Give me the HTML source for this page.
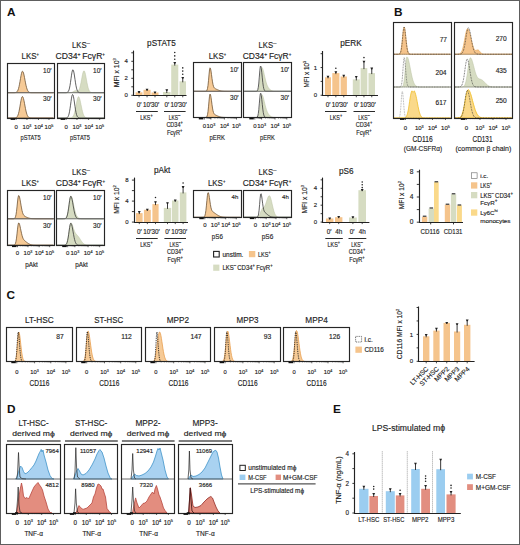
<!DOCTYPE html>
<html><head><meta charset="utf-8"><style>
html,body{margin:0;padding:0;background:#fff;}
svg{display:block;font-family:"Liberation Sans",sans-serif;}
</style></head><body>
<svg width="520" height="545" viewBox="0 0 520 545">
<rect x="0" y="0" width="520" height="545" fill="#fff"/>
<rect x="0.5" y="0.5" width="519" height="544" fill="none" stroke="#5e5e5e" stroke-width="1" />
<text x="7" y="15.7" font-size="11.8" text-anchor="start" fill="#111" stroke="#111" stroke-width="0" font-weight="bold">A</text>
<text x="393.9" y="16.2" font-size="11.8" text-anchor="start" fill="#111" stroke="#111" stroke-width="0" font-weight="bold">B</text>
<text x="6.6" y="299.1" font-size="11.8" text-anchor="start" fill="#111" stroke="#111" stroke-width="0" font-weight="bold">C</text>
<text x="7" y="412.6" font-size="11.8" text-anchor="start" fill="#111" stroke="#111" stroke-width="0" font-weight="bold">D</text>
<text x="333" y="412.6" font-size="11.8" text-anchor="start" fill="#111" stroke="#111" stroke-width="0" font-weight="bold">E</text>
<text x="30.3" y="58.6" font-size="8.8" text-anchor="middle" fill="#1e1e1e" stroke="#1e1e1e" stroke-width="0.15" textLength="17.4" lengthAdjust="spacingAndGlyphs">LKS<tspan font-size="4.6" dy="-2.9">+</tspan></text>
<text x="81" y="47.6" font-size="8.8" text-anchor="middle" fill="#1e1e1e" stroke="#1e1e1e" stroke-width="0.15" textLength="18" lengthAdjust="spacingAndGlyphs">LKS<tspan font-size="7.2" dy="-3">–</tspan></text>
<text x="80.3" y="58.6" font-size="8.8" text-anchor="middle" fill="#1e1e1e" stroke="#1e1e1e" stroke-width="0.15" textLength="49.4" lengthAdjust="spacingAndGlyphs">CD34<tspan font-size="5.2" dy="-2.6">+</tspan><tspan dy="2.6"> </tspan>FcγR<tspan font-size="4.6" dy="-2.9">+</tspan></text>
<text x="217.4" y="58.6" font-size="8.8" text-anchor="middle" fill="#1e1e1e" stroke="#1e1e1e" stroke-width="0.15" textLength="17.4" lengthAdjust="spacingAndGlyphs">LKS<tspan font-size="4.6" dy="-2.9">+</tspan></text>
<text x="267.6" y="47.6" font-size="8.8" text-anchor="middle" fill="#1e1e1e" stroke="#1e1e1e" stroke-width="0.15" textLength="18" lengthAdjust="spacingAndGlyphs">LKS<tspan font-size="7.2" dy="-3">–</tspan></text>
<text x="267" y="58.6" font-size="8.8" text-anchor="middle" fill="#1e1e1e" stroke="#1e1e1e" stroke-width="0.15" textLength="48.6" lengthAdjust="spacingAndGlyphs">CD34<tspan font-size="5.2" dy="-2.6">+</tspan><tspan dy="2.6"> </tspan>FcγR<tspan font-size="4.6" dy="-2.9">+</tspan></text>
<path d="M7.5,92.7 L7.5,92.7 L8,92.7 L8.5,92.7 L9,92.7 L9.5,92.7 L10,92.7 L10.5,92.7 L11,92.7 L11.5,92.7 L12,92.7 L12.5,92.7 L13,92.7 L13.5,92.7 L14,92.69 L14.5,92.67 L15,92.64 L15.5,92.56 L16,92.43 L16.5,92.18 L17,91.76 L17.5,91.08 L18,90.05 L18.5,88.58 L19,86.63 L19.5,84.21 L20,81.43 L20.5,78.48 L21,75.66 L21.5,73.31 L22,71.75 L22.5,71.2 L23,71.66 L23.5,72.99 L24,75.01 L24.5,77.51 L25,80.2 L25.5,82.86 L26,85.28 L26.5,87.34 L27,88.99 L27.5,90.25 L28,91.14 L28.5,91.76 L29,92.15 L29.5,92.39 L30,92.54 L30.5,92.62 L31,92.66 L31.5,92.68 L32,92.69 L32.5,92.7 L33,92.7 L33.5,92.7 L34,92.7 L34.5,92.7 L35,92.7 L35.5,92.7 L36,92.7 L36.5,92.7 L37,92.7 L37.5,92.7 L38,92.7 L38.5,92.7 L39,92.7 L39.5,92.7 L40,92.7 L40.5,92.7 L41,92.7 L41.5,92.7 L42,92.7 L42.5,92.7 L43,92.7 L43.5,92.7 L44,92.7 L44.5,92.7 L45,92.7 L45.5,92.7 L46,92.7 L46.5,92.7 L47,92.7 L47.5,92.7 L48,92.7 L48.5,92.7 L49,92.7 L49.5,92.7 L50,92.7 L50.5,92.7 L51,92.7 L51.5,92.7 L52,92.7 L52.5,92.7 L53,92.7 L53.5,92.7 L53.5,92.7 Z" fill="#f6ca96" stroke="#6e5334" stroke-width="0.8" stroke-linejoin="round"/>
<path d="M7.5,118 L7.5,118 L8,118 L8.5,118 L9,118 L9.5,118 L10,118 L10.5,118 L11,118 L11.5,118 L12,118 L12.5,118 L13,118 L13.5,117.99 L14,117.99 L14.5,117.97 L15,117.92 L15.5,117.84 L16,117.69 L16.5,117.41 L17,116.94 L17.5,116.2 L18,115.09 L18.5,113.53 L19,111.49 L19.5,108.98 L20,106.14 L20.5,103.19 L21,100.44 L21.5,98.23 L22,96.85 L22.5,96.52 L23,97.16 L23.5,98.64 L24,100.78 L24.5,103.34 L25,106.04 L25.5,108.66 L26,111.02 L26.5,113 L27,114.57 L27.5,115.75 L28,116.59 L28.5,117.15 L29,117.51 L29.5,117.73 L30,117.86 L30.5,117.93 L31,117.96 L31.5,117.98 L32,117.99 L32.5,118 L33,118 L33.5,118 L34,118 L34.5,118 L35,118 L35.5,118 L36,118 L36.5,118 L37,118 L37.5,118 L38,118 L38.5,118 L39,118 L39.5,118 L40,118 L40.5,118 L41,118 L41.5,118 L42,118 L42.5,118 L43,118 L43.5,118 L44,118 L44.5,118 L45,118 L45.5,118 L46,118 L46.5,118 L47,118 L47.5,118 L48,118 L48.5,118 L49,118 L49.5,118 L50,118 L50.5,118 L51,118 L51.5,118 L52,118 L52.5,118 L53,118 L53.5,118 L53.5,118 Z" fill="#f6ca96" stroke="#6e5334" stroke-width="0.8" stroke-linejoin="round"/>
<line x1="7" y1="92.7" x2="54" y2="92.7" stroke="#6a6a6a" stroke-width="0.9" />
<rect x="7.5" y="63.5" width="47" height="55" fill="none" stroke="#262626" stroke-width="1.15" />
<text x="51.5" y="72.5" font-size="6.5" text-anchor="end" fill="#1e1e1e" stroke="#1e1e1e" stroke-width="0.15">10′</text>
<text x="51.5" y="101.2" font-size="6.5" text-anchor="end" fill="#1e1e1e" stroke="#1e1e1e" stroke-width="0.15">30′</text>
<path d="M57.5,92.7 L57.5,92.7 L58,92.7 L58.5,92.7 L59,92.7 L59.5,92.7 L60,92.7 L60.5,92.7 L61,92.7 L61.5,92.7 L62,92.7 L62.5,92.7 L63,92.7 L63.5,92.7 L64,92.7 L64.5,92.7 L65,92.7 L65.5,92.7 L66,92.7 L66.5,92.7 L67,92.7 L67.5,92.7 L68,92.7 L68.5,92.7 L69,92.69 L69.5,92.68 L70,92.65 L70.5,92.61 L71,92.54 L71.5,92.43 L72,92.27 L72.5,92.05 L73,91.78 L73.5,91.49 L74,91.19 L74.5,90.93 L75,90.74 L75.5,90.66 L76,90.68 L76.5,90.77 L77,90.88 L77.5,90.93 L78,90.82 L78.5,90.46 L79,89.76 L79.5,88.64 L80,87.06 L80.5,85.02 L81,82.58 L81.5,79.89 L82,77.14 L82.5,74.6 L83,72.53 L83.5,71.17 L84,70.7 L84.5,71.17 L85,72.53 L85.5,74.6 L86,77.15 L86.5,79.91 L87,82.63 L87.5,85.1 L88,87.21 L88.5,88.91 L89,90.19 L89.5,91.11 L90,91.73 L90.5,92.14 L91,92.39 L91.5,92.53 L92,92.61 L92.5,92.66 L93,92.68 L93.5,92.69 L94,92.7 L94.5,92.7 L95,92.7 L95.5,92.7 L96,92.7 L96.5,92.7 L97,92.7 L97.5,92.7 L98,92.7 L98.5,92.7 L99,92.7 L99.5,92.7 L100,92.7 L100.5,92.7 L101,92.7 L101.5,92.7 L102,92.7 L102.5,92.7 L103,92.7 L103.5,92.7 L104,92.7 L104,92.7 Z" fill="#d6dcc2" stroke="#b9c0a0" stroke-width="0.5" stroke-linejoin="round"/>
<path d="M57.5,92.7 L57.5,92.7 L58,92.7 L58.5,92.7 L59,92.7 L59.5,92.7 L60,92.7 L60.5,92.7 L61,92.7 L61.5,92.7 L62,92.7 L62.5,92.7 L63,92.7 L63.5,92.7 L64,92.7 L64.5,92.7 L65,92.7 L65.5,92.69 L66,92.67 L66.5,92.62 L67,92.51 L67.5,92.29 L68,91.87 L68.5,91.13 L69,89.9 L69.5,88.06 L70,85.52 L70.5,82.34 L71,78.75 L71.5,75.17 L72,72.14 L72.5,70.2 L73,69.73 L73.5,70.71 L74,72.93 L74.5,76 L75,79.45 L75.5,82.82 L76,85.78 L76.5,88.15 L77,89.89 L77.5,91.07 L78,91.81 L78.5,92.24 L79,92.48 L79.5,92.6 L80,92.66 L80.5,92.68 L81,92.69 L81.5,92.7 L82,92.7 L82.5,92.7 L83,92.7 L83.5,92.7 L84,92.7 L84.5,92.7 L85,92.7 L85.5,92.7 L86,92.7 L86.5,92.7 L87,92.7 L87.5,92.7 L88,92.7 L88.5,92.7 L89,92.7 L89.5,92.7 L90,92.7 L90.5,92.7 L91,92.7 L91.5,92.7 L92,92.7 L92.5,92.7 L93,92.7 L93.5,92.7 L94,92.7 L94.5,92.7 L95,92.7 L95.5,92.7 L96,92.7 L96.5,92.7 L97,92.7 L97.5,92.7 L98,92.7 L98.5,92.7 L99,92.7 L99.5,92.7 L100,92.7 L100.5,92.7 L101,92.7 L101.5,92.7 L102,92.7 L102.5,92.7 L103,92.7 L103.5,92.7 L104,92.7" fill="none" stroke="#3a3a3a" stroke-width="0.8" stroke-linejoin="round"/>
<path d="M57.5,118 L57.5,118 L58,118 L58.5,118 L59,118 L59.5,118 L60,118 L60.5,118 L61,118 L61.5,118 L62,118 L62.5,118 L63,118 L63.5,118 L64,118 L64.5,118 L65,118 L65.5,118 L66,118 L66.5,118 L67,118 L67.5,118 L68,118 L68.5,118 L69,117.99 L69.5,117.98 L70,117.96 L70.5,117.92 L71,117.84 L71.5,117.7 L72,117.46 L72.5,117.06 L73,116.46 L73.5,115.57 L74,114.33 L74.5,112.69 L75,110.65 L75.5,108.25 L76,105.62 L76.5,102.95 L77,100.48 L77.5,98.47 L78,97.16 L78.5,96.7 L79,97.09 L79.5,98.22 L80,99.97 L80.5,102.16 L81,104.58 L81.5,107.05 L82,109.39 L82.5,111.48 L83,113.24 L83.5,114.65 L84,115.73 L84.5,116.51 L85,117.06 L85.5,117.43 L86,117.67 L86.5,117.81 L87,117.9 L87.5,117.95 L88,117.97 L88.5,117.99 L89,117.99 L89.5,118 L90,118 L90.5,118 L91,118 L91.5,118 L92,118 L92.5,118 L93,118 L93.5,118 L94,118 L94.5,118 L95,118 L95.5,118 L96,118 L96.5,118 L97,118 L97.5,118 L98,118 L98.5,118 L99,118 L99.5,118 L100,118 L100.5,118 L101,118 L101.5,118 L102,118 L102.5,118 L103,118 L103.5,118 L104,118 L104,118 Z" fill="#d6dcc2" stroke="#b9c0a0" stroke-width="0.5" stroke-linejoin="round"/>
<path d="M57.5,118 L57.5,118 L58,118 L58.5,118 L59,118 L59.5,118 L60,118 L60.5,118 L61,118 L61.5,118 L62,118 L62.5,118 L63,118 L63.5,118 L64,118 L64.5,118 L65,117.99 L65.5,117.98 L66,117.94 L66.5,117.86 L67,117.69 L67.5,117.36 L68,116.75 L68.5,115.71 L69,114.1 L69.5,111.79 L70,108.79 L70.5,105.24 L71,101.52 L71.5,98.13 L72,95.64 L72.5,94.53 L73,94.97 L73.5,96.76 L74,99.61 L74.5,103.03 L75,106.56 L75.5,109.79 L76,112.46 L76.5,114.49 L77,115.91 L77.5,116.83 L78,117.39 L78.5,117.7 L79,117.86 L79.5,117.94 L80,117.97 L80.5,117.99 L81,118 L81.5,118 L82,118 L82.5,118 L83,118 L83.5,118 L84,118 L84.5,118 L85,118 L85.5,118 L86,118 L86.5,118 L87,118 L87.5,118 L88,118 L88.5,118 L89,118 L89.5,118 L90,118 L90.5,118 L91,118 L91.5,118 L92,118 L92.5,118 L93,118 L93.5,118 L94,118 L94.5,118 L95,118 L95.5,118 L96,118 L96.5,118 L97,118 L97.5,118 L98,118 L98.5,118 L99,118 L99.5,118 L100,118 L100.5,118 L101,118 L101.5,118 L102,118 L102.5,118 L103,118 L103.5,118 L104,118" fill="none" stroke="#3a3a3a" stroke-width="0.8" stroke-linejoin="round"/>
<line x1="57" y1="92.7" x2="104.5" y2="92.7" stroke="#6a6a6a" stroke-width="0.9" />
<rect x="57.5" y="63.5" width="47" height="55" fill="none" stroke="#262626" stroke-width="1.15" />
<text x="101.5" y="72.5" font-size="6.5" text-anchor="end" fill="#1e1e1e" stroke="#1e1e1e" stroke-width="0.15">10′</text>
<text x="101.5" y="101.2" font-size="6.5" text-anchor="end" fill="#1e1e1e" stroke="#1e1e1e" stroke-width="0.15">30′</text>
<rect x="10.6" y="118.3" width="4.5" height="1.6" fill="#111"/>
<line x1="16.1" y1="118" x2="16.1" y2="120" stroke="#222" stroke-width="0.7" />
<line x1="27" y1="118" x2="27" y2="120" stroke="#222" stroke-width="0.7" />
<line x1="38.5" y1="118" x2="38.5" y2="120" stroke="#222" stroke-width="0.7" />
<line x1="49" y1="118" x2="49" y2="120" stroke="#222" stroke-width="0.7" />
<line x1="19.38" y1="118" x2="19.38" y2="119.1" stroke="#222" stroke-width="0.5" />
<line x1="21.3" y1="118" x2="21.3" y2="119.1" stroke="#222" stroke-width="0.5" />
<line x1="22.66" y1="118" x2="22.66" y2="119.1" stroke="#222" stroke-width="0.5" />
<line x1="23.72" y1="118" x2="23.72" y2="119.1" stroke="#222" stroke-width="0.5" />
<line x1="24.58" y1="118" x2="24.58" y2="119.1" stroke="#222" stroke-width="0.5" />
<line x1="25.31" y1="118" x2="25.31" y2="119.1" stroke="#222" stroke-width="0.5" />
<line x1="25.94" y1="118" x2="25.94" y2="119.1" stroke="#222" stroke-width="0.5" />
<line x1="26.5" y1="118" x2="26.5" y2="119.1" stroke="#222" stroke-width="0.5" />
<line x1="30.46" y1="118" x2="30.46" y2="119.1" stroke="#222" stroke-width="0.5" />
<line x1="32.49" y1="118" x2="32.49" y2="119.1" stroke="#222" stroke-width="0.5" />
<line x1="33.92" y1="118" x2="33.92" y2="119.1" stroke="#222" stroke-width="0.5" />
<line x1="35.04" y1="118" x2="35.04" y2="119.1" stroke="#222" stroke-width="0.5" />
<line x1="35.95" y1="118" x2="35.95" y2="119.1" stroke="#222" stroke-width="0.5" />
<line x1="36.72" y1="118" x2="36.72" y2="119.1" stroke="#222" stroke-width="0.5" />
<line x1="37.39" y1="118" x2="37.39" y2="119.1" stroke="#222" stroke-width="0.5" />
<line x1="37.97" y1="118" x2="37.97" y2="119.1" stroke="#222" stroke-width="0.5" />
<line x1="41.66" y1="118" x2="41.66" y2="119.1" stroke="#222" stroke-width="0.5" />
<line x1="43.51" y1="118" x2="43.51" y2="119.1" stroke="#222" stroke-width="0.5" />
<line x1="44.82" y1="118" x2="44.82" y2="119.1" stroke="#222" stroke-width="0.5" />
<line x1="45.84" y1="118" x2="45.84" y2="119.1" stroke="#222" stroke-width="0.5" />
<line x1="46.67" y1="118" x2="46.67" y2="119.1" stroke="#222" stroke-width="0.5" />
<line x1="47.37" y1="118" x2="47.37" y2="119.1" stroke="#222" stroke-width="0.5" />
<line x1="47.98" y1="118" x2="47.98" y2="119.1" stroke="#222" stroke-width="0.5" />
<line x1="48.52" y1="118" x2="48.52" y2="119.1" stroke="#222" stroke-width="0.5" />
<text x="16.1" y="128.8" font-size="6" text-anchor="middle" fill="#1e1e1e" stroke="#1e1e1e" stroke-width="0.15">0</text>
<text x="27" y="128.8" font-size="6" text-anchor="middle" fill="#1e1e1e" stroke="#1e1e1e" stroke-width="0.15">10<tspan font-size="3.72" dy="-2.2">3</tspan></text>
<text x="38.5" y="128.8" font-size="6" text-anchor="middle" fill="#1e1e1e" stroke="#1e1e1e" stroke-width="0.15">10<tspan font-size="3.72" dy="-2.2">4</tspan></text>
<text x="49" y="128.8" font-size="6" text-anchor="middle" fill="#1e1e1e" stroke="#1e1e1e" stroke-width="0.15">10<tspan font-size="3.72" dy="-2.2">5</tspan></text>
<rect x="60.6" y="118.3" width="4.5" height="1.6" fill="#111"/>
<line x1="66.1" y1="118" x2="66.1" y2="120" stroke="#222" stroke-width="0.7" />
<line x1="77" y1="118" x2="77" y2="120" stroke="#222" stroke-width="0.7" />
<line x1="88.6" y1="118" x2="88.6" y2="120" stroke="#222" stroke-width="0.7" />
<line x1="99.7" y1="118" x2="99.7" y2="120" stroke="#222" stroke-width="0.7" />
<line x1="69.38" y1="118" x2="69.38" y2="119.1" stroke="#222" stroke-width="0.5" />
<line x1="71.3" y1="118" x2="71.3" y2="119.1" stroke="#222" stroke-width="0.5" />
<line x1="72.66" y1="118" x2="72.66" y2="119.1" stroke="#222" stroke-width="0.5" />
<line x1="73.72" y1="118" x2="73.72" y2="119.1" stroke="#222" stroke-width="0.5" />
<line x1="74.58" y1="118" x2="74.58" y2="119.1" stroke="#222" stroke-width="0.5" />
<line x1="75.31" y1="118" x2="75.31" y2="119.1" stroke="#222" stroke-width="0.5" />
<line x1="75.94" y1="118" x2="75.94" y2="119.1" stroke="#222" stroke-width="0.5" />
<line x1="76.5" y1="118" x2="76.5" y2="119.1" stroke="#222" stroke-width="0.5" />
<line x1="80.49" y1="118" x2="80.49" y2="119.1" stroke="#222" stroke-width="0.5" />
<line x1="82.53" y1="118" x2="82.53" y2="119.1" stroke="#222" stroke-width="0.5" />
<line x1="83.98" y1="118" x2="83.98" y2="119.1" stroke="#222" stroke-width="0.5" />
<line x1="85.11" y1="118" x2="85.11" y2="119.1" stroke="#222" stroke-width="0.5" />
<line x1="86.03" y1="118" x2="86.03" y2="119.1" stroke="#222" stroke-width="0.5" />
<line x1="86.8" y1="118" x2="86.8" y2="119.1" stroke="#222" stroke-width="0.5" />
<line x1="87.48" y1="118" x2="87.48" y2="119.1" stroke="#222" stroke-width="0.5" />
<line x1="88.07" y1="118" x2="88.07" y2="119.1" stroke="#222" stroke-width="0.5" />
<line x1="91.94" y1="118" x2="91.94" y2="119.1" stroke="#222" stroke-width="0.5" />
<line x1="93.9" y1="118" x2="93.9" y2="119.1" stroke="#222" stroke-width="0.5" />
<line x1="95.28" y1="118" x2="95.28" y2="119.1" stroke="#222" stroke-width="0.5" />
<line x1="96.36" y1="118" x2="96.36" y2="119.1" stroke="#222" stroke-width="0.5" />
<line x1="97.24" y1="118" x2="97.24" y2="119.1" stroke="#222" stroke-width="0.5" />
<line x1="97.98" y1="118" x2="97.98" y2="119.1" stroke="#222" stroke-width="0.5" />
<line x1="98.62" y1="118" x2="98.62" y2="119.1" stroke="#222" stroke-width="0.5" />
<line x1="99.19" y1="118" x2="99.19" y2="119.1" stroke="#222" stroke-width="0.5" />
<text x="66.1" y="128.8" font-size="6" text-anchor="middle" fill="#1e1e1e" stroke="#1e1e1e" stroke-width="0.15">0</text>
<text x="77" y="128.8" font-size="6" text-anchor="middle" fill="#1e1e1e" stroke="#1e1e1e" stroke-width="0.15">10<tspan font-size="3.72" dy="-2.2">3</tspan></text>
<text x="88.6" y="128.8" font-size="6" text-anchor="middle" fill="#1e1e1e" stroke="#1e1e1e" stroke-width="0.15">10<tspan font-size="3.72" dy="-2.2">4</tspan></text>
<text x="99.7" y="128.8" font-size="6" text-anchor="middle" fill="#1e1e1e" stroke="#1e1e1e" stroke-width="0.15">10<tspan font-size="3.72" dy="-2.2">5</tspan></text>
<text x="30.6" y="140.3" font-size="7.8" text-anchor="middle" fill="#1e1e1e" stroke="#1e1e1e" stroke-width="0.15" textLength="20" lengthAdjust="spacingAndGlyphs">pSTAT5</text>
<text x="79.9" y="140.3" font-size="7.8" text-anchor="middle" fill="#1e1e1e" stroke="#1e1e1e" stroke-width="0.15" textLength="20" lengthAdjust="spacingAndGlyphs">pSTAT5</text>
<path d="M194,91.3 L194,91.3 L194.5,91.3 L195,91.3 L195.5,91.3 L196,91.3 L196.5,91.3 L197,91.3 L197.5,91.3 L198,91.3 L198.5,91.3 L199,91.3 L199.5,91.3 L200,91.3 L200.5,91.3 L201,91.3 L201.5,91.3 L202,91.3 L202.5,91.3 L203,91.3 L203.5,91.3 L204,91.3 L204.5,91.29 L205,91.28 L205.5,91.25 L206,91.16 L206.5,90.89 L207,90.16 L207.5,88.52 L208,85.41 L208.5,80.63 L209,74.92 L209.5,70 L210,67.84 L210.5,68.53 L211,71.02 L211.5,74.62 L212,78.46 L212.5,81.87 L213,84.51 L213.5,86.31 L214,87.43 L214.5,88.08 L215,88.49 L215.5,88.77 L216,89.02 L216.5,89.25 L217,89.48 L217.5,89.71 L218,89.93 L218.5,90.13 L219,90.33 L219.5,90.5 L220,90.65 L220.5,90.78 L221,90.89 L221.5,90.99 L222,91.06 L222.5,91.12 L223,91.17 L223.5,91.2 L224,91.23 L224.5,91.25 L225,91.27 L225.5,91.28 L226,91.28 L226.5,91.29 L227,91.29 L227.5,91.3 L228,91.3 L228.5,91.3 L229,91.3 L229.5,91.3 L230,91.3 L230.5,91.3 L231,91.3 L231.5,91.3 L232,91.3 L232.5,91.3 L233,91.3 L233.5,91.3 L234,91.3 L234.5,91.3 L235,91.3 L235.5,91.3 L236,91.3 L236.5,91.3 L237,91.3 L237.5,91.3 L238,91.3 L238.5,91.3 L239,91.3 L239.5,91.3 L240,91.3 L240.5,91.3 L240.5,91.3 Z" fill="#f6ca96" stroke="#6e5334" stroke-width="0.8" stroke-linejoin="round"/>
<path d="M194,117.5 L194,117.5 L194.5,117.5 L195,117.5 L195.5,117.5 L196,117.5 L196.5,117.5 L197,117.5 L197.5,117.5 L198,117.5 L198.5,117.5 L199,117.5 L199.5,117.5 L200,117.5 L200.5,117.5 L201,117.5 L201.5,117.5 L202,117.5 L202.5,117.5 L203,117.5 L203.5,117.5 L204,117.5 L204.5,117.49 L205,117.48 L205.5,117.45 L206,117.36 L206.5,117.09 L207,116.36 L207.5,114.72 L208,111.61 L208.5,106.83 L209,101.12 L209.5,96.2 L210,94.04 L210.5,94.73 L211,97.22 L211.5,100.82 L212,104.66 L212.5,108.07 L213,110.71 L213.5,112.51 L214,113.63 L214.5,114.28 L215,114.69 L215.5,114.97 L216,115.22 L216.5,115.45 L217,115.68 L217.5,115.91 L218,116.13 L218.5,116.33 L219,116.53 L219.5,116.7 L220,116.85 L220.5,116.98 L221,117.09 L221.5,117.19 L222,117.26 L222.5,117.32 L223,117.37 L223.5,117.4 L224,117.43 L224.5,117.45 L225,117.47 L225.5,117.48 L226,117.48 L226.5,117.49 L227,117.49 L227.5,117.5 L228,117.5 L228.5,117.5 L229,117.5 L229.5,117.5 L230,117.5 L230.5,117.5 L231,117.5 L231.5,117.5 L232,117.5 L232.5,117.5 L233,117.5 L233.5,117.5 L234,117.5 L234.5,117.5 L235,117.5 L235.5,117.5 L236,117.5 L236.5,117.5 L237,117.5 L237.5,117.5 L238,117.5 L238.5,117.5 L239,117.5 L239.5,117.5 L240,117.5 L240.5,117.5 L240.5,117.5 Z" fill="#f6ca96" stroke="#6e5334" stroke-width="0.8" stroke-linejoin="round"/>
<line x1="193.5" y1="91.3" x2="241" y2="91.3" stroke="#6a6a6a" stroke-width="0.9" />
<rect x="193.5" y="62.5" width="48" height="55" fill="none" stroke="#262626" stroke-width="1.15" />
<text x="238.5" y="72.2" font-size="6.5" text-anchor="end" fill="#1e1e1e" stroke="#1e1e1e" stroke-width="0.15">10′</text>
<text x="238.5" y="100.2" font-size="6.5" text-anchor="end" fill="#1e1e1e" stroke="#1e1e1e" stroke-width="0.15">30′</text>
<path d="M244.3,91.3 L244.3,91.3 L244.8,91.3 L245.3,91.3 L245.8,91.3 L246.3,91.3 L246.8,91.3 L247.3,91.3 L247.8,91.3 L248.3,91.3 L248.8,91.3 L249.3,91.3 L249.8,91.3 L250.3,91.3 L250.8,91.3 L251.3,91.3 L251.8,91.3 L252.3,91.3 L252.8,91.3 L253.3,91.3 L253.8,91.3 L254.3,91.3 L254.8,91.3 L255.3,91.3 L255.8,91.29 L256.3,91.28 L256.8,91.23 L257.3,91.08 L257.8,90.7 L258.3,89.84 L258.8,88.12 L259.3,85.22 L259.8,81.05 L260.3,76.06 L260.8,71.3 L261.3,68.14 L261.8,67.39 L262.3,67.78 L262.8,68.86 L263.3,70.49 L263.8,72.51 L264.3,74.71 L264.8,76.95 L265.3,79.1 L265.8,81.07 L266.3,82.83 L266.8,84.33 L267.3,85.58 L267.8,86.62 L268.3,87.49 L268.8,88.22 L269.3,88.83 L269.8,89.35 L270.3,89.78 L270.8,90.14 L271.3,90.44 L271.8,90.67 L272.3,90.85 L272.8,90.99 L273.3,91.09 L273.8,91.16 L274.3,91.21 L274.8,91.25 L275.3,91.27 L275.8,91.28 L276.3,91.29 L276.8,91.29 L277.3,91.3 L277.8,91.3 L278.3,91.3 L278.8,91.3 L279.3,91.3 L279.8,91.3 L280.3,91.3 L280.8,91.3 L281.3,91.3 L281.8,91.3 L282.3,91.3 L282.8,91.3 L283.3,91.3 L283.8,91.3 L284.3,91.3 L284.8,91.3 L285.3,91.3 L285.8,91.3 L286.3,91.3 L286.8,91.3 L287.3,91.3 L287.8,91.3 L288.3,91.3 L288.8,91.3 L289.3,91.3 L289.8,91.3 L290.3,91.3 L290.8,91.3 L290.8,91.3 Z" fill="#d6dcc2" stroke="#b9c0a0" stroke-width="0.5" stroke-linejoin="round"/>
<path d="M244.3,91.3 L244.3,91.3 L244.8,91.3 L245.3,91.3 L245.8,91.3 L246.3,91.3 L246.8,91.3 L247.3,91.3 L247.8,91.3 L248.3,91.3 L248.8,91.3 L249.3,91.3 L249.8,91.3 L250.3,91.3 L250.8,91.3 L251.3,91.3 L251.8,91.3 L252.3,91.3 L252.8,91.3 L253.3,91.3 L253.8,91.3 L254.3,91.3 L254.8,91.3 L255.3,91.3 L255.8,91.29 L256.3,91.26 L256.8,91.13 L257.3,90.72 L257.8,89.62 L258.3,87.24 L258.8,83.02 L259.3,77.12 L259.8,70.88 L260.3,66.58 L260.8,66.03 L261.3,68.43 L261.8,72.78 L262.3,77.88 L262.8,82.6 L263.3,86.25 L263.8,88.68 L264.3,90.08 L264.8,90.79 L265.3,91.11 L265.8,91.24 L266.3,91.28 L266.8,91.3 L267.3,91.3 L267.8,91.3 L268.3,91.3 L268.8,91.3 L269.3,91.3 L269.8,91.3 L270.3,91.3 L270.8,91.3 L271.3,91.3 L271.8,91.3 L272.3,91.3 L272.8,91.3 L273.3,91.3 L273.8,91.3 L274.3,91.3 L274.8,91.3 L275.3,91.3 L275.8,91.3 L276.3,91.3 L276.8,91.3 L277.3,91.3 L277.8,91.3 L278.3,91.3 L278.8,91.3 L279.3,91.3 L279.8,91.3 L280.3,91.3 L280.8,91.3 L281.3,91.3 L281.8,91.3 L282.3,91.3 L282.8,91.3 L283.3,91.3 L283.8,91.3 L284.3,91.3 L284.8,91.3 L285.3,91.3 L285.8,91.3 L286.3,91.3 L286.8,91.3 L287.3,91.3 L287.8,91.3 L288.3,91.3 L288.8,91.3 L289.3,91.3 L289.8,91.3 L290.3,91.3 L290.8,91.3" fill="none" stroke="#3a3a3a" stroke-width="0.8" stroke-linejoin="round"/>
<path d="M244.3,117.5 L244.3,117.5 L244.8,117.5 L245.3,117.5 L245.8,117.5 L246.3,117.5 L246.8,117.5 L247.3,117.5 L247.8,117.5 L248.3,117.5 L248.8,117.5 L249.3,117.5 L249.8,117.5 L250.3,117.5 L250.8,117.5 L251.3,117.5 L251.8,117.5 L252.3,117.5 L252.8,117.5 L253.3,117.5 L253.8,117.5 L254.3,117.5 L254.8,117.5 L255.3,117.5 L255.8,117.49 L256.3,117.48 L256.8,117.43 L257.3,117.29 L257.8,116.93 L258.3,116.1 L258.8,114.46 L259.3,111.68 L259.8,107.69 L260.3,102.91 L260.8,98.35 L261.3,95.32 L261.8,94.59 L262.3,94.95 L262.8,95.96 L263.3,97.5 L263.8,99.4 L264.3,101.49 L264.8,103.62 L265.3,105.66 L265.8,107.55 L266.3,109.23 L266.8,110.66 L267.3,111.87 L267.8,112.88 L268.3,113.72 L268.8,114.44 L269.3,115.04 L269.8,115.55 L270.3,115.99 L270.8,116.35 L271.3,116.64 L271.8,116.87 L272.3,117.05 L272.8,117.19 L273.3,117.29 L273.8,117.36 L274.3,117.41 L274.8,117.45 L275.3,117.47 L275.8,117.48 L276.3,117.49 L276.8,117.49 L277.3,117.5 L277.8,117.5 L278.3,117.5 L278.8,117.5 L279.3,117.5 L279.8,117.5 L280.3,117.5 L280.8,117.5 L281.3,117.5 L281.8,117.5 L282.3,117.5 L282.8,117.5 L283.3,117.5 L283.8,117.5 L284.3,117.5 L284.8,117.5 L285.3,117.5 L285.8,117.5 L286.3,117.5 L286.8,117.5 L287.3,117.5 L287.8,117.5 L288.3,117.5 L288.8,117.5 L289.3,117.5 L289.8,117.5 L290.3,117.5 L290.8,117.5 L290.8,117.5 Z" fill="#d6dcc2" stroke="#b9c0a0" stroke-width="0.5" stroke-linejoin="round"/>
<path d="M244.3,117.5 L244.3,117.5 L244.8,117.5 L245.3,117.5 L245.8,117.5 L246.3,117.5 L246.8,117.5 L247.3,117.5 L247.8,117.5 L248.3,117.5 L248.8,117.5 L249.3,117.5 L249.8,117.5 L250.3,117.5 L250.8,117.5 L251.3,117.5 L251.8,117.5 L252.3,117.5 L252.8,117.5 L253.3,117.5 L253.8,117.5 L254.3,117.5 L254.8,117.5 L255.3,117.5 L255.8,117.49 L256.3,117.46 L256.8,117.34 L257.3,116.94 L257.8,115.89 L258.3,113.6 L258.8,109.55 L259.3,103.88 L259.8,97.88 L260.3,93.75 L260.8,93.22 L261.3,95.53 L261.8,99.71 L262.3,104.61 L262.8,109.14 L263.3,112.65 L263.8,114.98 L264.3,116.33 L264.8,117.01 L265.3,117.32 L265.8,117.44 L266.3,117.48 L266.8,117.5 L267.3,117.5 L267.8,117.5 L268.3,117.5 L268.8,117.5 L269.3,117.5 L269.8,117.5 L270.3,117.5 L270.8,117.5 L271.3,117.5 L271.8,117.5 L272.3,117.5 L272.8,117.5 L273.3,117.5 L273.8,117.5 L274.3,117.5 L274.8,117.5 L275.3,117.5 L275.8,117.5 L276.3,117.5 L276.8,117.5 L277.3,117.5 L277.8,117.5 L278.3,117.5 L278.8,117.5 L279.3,117.5 L279.8,117.5 L280.3,117.5 L280.8,117.5 L281.3,117.5 L281.8,117.5 L282.3,117.5 L282.8,117.5 L283.3,117.5 L283.8,117.5 L284.3,117.5 L284.8,117.5 L285.3,117.5 L285.8,117.5 L286.3,117.5 L286.8,117.5 L287.3,117.5 L287.8,117.5 L288.3,117.5 L288.8,117.5 L289.3,117.5 L289.8,117.5 L290.3,117.5 L290.8,117.5" fill="none" stroke="#3a3a3a" stroke-width="0.8" stroke-linejoin="round"/>
<line x1="243.8" y1="91.3" x2="291.5" y2="91.3" stroke="#6a6a6a" stroke-width="0.9" />
<rect x="243.5" y="62.5" width="48" height="55" fill="none" stroke="#262626" stroke-width="1.15" />
<text x="289" y="72.2" font-size="6.5" text-anchor="end" fill="#1e1e1e" stroke="#1e1e1e" stroke-width="0.15">10′</text>
<text x="289" y="100.2" font-size="6.5" text-anchor="end" fill="#1e1e1e" stroke="#1e1e1e" stroke-width="0.15">30′</text>
<rect x="198.8" y="117.8" width="4.5" height="1.6" fill="#111"/>
<line x1="204.3" y1="117.5" x2="204.3" y2="119.5" stroke="#222" stroke-width="0.7" />
<line x1="210.9" y1="117.5" x2="210.9" y2="119.5" stroke="#222" stroke-width="0.7" />
<line x1="224.4" y1="117.5" x2="224.4" y2="119.5" stroke="#222" stroke-width="0.7" />
<line x1="236.5" y1="117.5" x2="236.5" y2="119.5" stroke="#222" stroke-width="0.7" />
<line x1="206.29" y1="117.5" x2="206.29" y2="118.6" stroke="#222" stroke-width="0.5" />
<line x1="207.45" y1="117.5" x2="207.45" y2="118.6" stroke="#222" stroke-width="0.5" />
<line x1="208.27" y1="117.5" x2="208.27" y2="118.6" stroke="#222" stroke-width="0.5" />
<line x1="208.91" y1="117.5" x2="208.91" y2="118.6" stroke="#222" stroke-width="0.5" />
<line x1="209.44" y1="117.5" x2="209.44" y2="118.6" stroke="#222" stroke-width="0.5" />
<line x1="209.88" y1="117.5" x2="209.88" y2="118.6" stroke="#222" stroke-width="0.5" />
<line x1="210.26" y1="117.5" x2="210.26" y2="118.6" stroke="#222" stroke-width="0.5" />
<line x1="210.6" y1="117.5" x2="210.6" y2="118.6" stroke="#222" stroke-width="0.5" />
<line x1="214.96" y1="117.5" x2="214.96" y2="118.6" stroke="#222" stroke-width="0.5" />
<line x1="217.34" y1="117.5" x2="217.34" y2="118.6" stroke="#222" stroke-width="0.5" />
<line x1="219.03" y1="117.5" x2="219.03" y2="118.6" stroke="#222" stroke-width="0.5" />
<line x1="220.34" y1="117.5" x2="220.34" y2="118.6" stroke="#222" stroke-width="0.5" />
<line x1="221.41" y1="117.5" x2="221.41" y2="118.6" stroke="#222" stroke-width="0.5" />
<line x1="222.31" y1="117.5" x2="222.31" y2="118.6" stroke="#222" stroke-width="0.5" />
<line x1="223.09" y1="117.5" x2="223.09" y2="118.6" stroke="#222" stroke-width="0.5" />
<line x1="223.78" y1="117.5" x2="223.78" y2="118.6" stroke="#222" stroke-width="0.5" />
<line x1="228.04" y1="117.5" x2="228.04" y2="118.6" stroke="#222" stroke-width="0.5" />
<line x1="230.17" y1="117.5" x2="230.17" y2="118.6" stroke="#222" stroke-width="0.5" />
<line x1="231.68" y1="117.5" x2="231.68" y2="118.6" stroke="#222" stroke-width="0.5" />
<line x1="232.86" y1="117.5" x2="232.86" y2="118.6" stroke="#222" stroke-width="0.5" />
<line x1="233.82" y1="117.5" x2="233.82" y2="118.6" stroke="#222" stroke-width="0.5" />
<line x1="234.63" y1="117.5" x2="234.63" y2="118.6" stroke="#222" stroke-width="0.5" />
<line x1="235.33" y1="117.5" x2="235.33" y2="118.6" stroke="#222" stroke-width="0.5" />
<line x1="235.95" y1="117.5" x2="235.95" y2="118.6" stroke="#222" stroke-width="0.5" />
<text x="204.3" y="128.3" font-size="6" text-anchor="middle" fill="#1e1e1e" stroke="#1e1e1e" stroke-width="0.15">0</text>
<text x="210.9" y="128.3" font-size="6" text-anchor="middle" fill="#1e1e1e" stroke="#1e1e1e" stroke-width="0.15">10<tspan font-size="3.72" dy="-2.2">3</tspan></text>
<text x="224.4" y="128.3" font-size="6" text-anchor="middle" fill="#1e1e1e" stroke="#1e1e1e" stroke-width="0.15">10<tspan font-size="3.72" dy="-2.2">4</tspan></text>
<text x="236.5" y="128.3" font-size="6" text-anchor="middle" fill="#1e1e1e" stroke="#1e1e1e" stroke-width="0.15">10<tspan font-size="3.72" dy="-2.2">5</tspan></text>
<rect x="249.3" y="117.8" width="4.5" height="1.6" fill="#111"/>
<line x1="254.8" y1="117.5" x2="254.8" y2="119.5" stroke="#222" stroke-width="0.7" />
<line x1="261.6" y1="117.5" x2="261.6" y2="119.5" stroke="#222" stroke-width="0.7" />
<line x1="275" y1="117.5" x2="275" y2="119.5" stroke="#222" stroke-width="0.7" />
<line x1="286.8" y1="117.5" x2="286.8" y2="119.5" stroke="#222" stroke-width="0.7" />
<line x1="256.85" y1="117.5" x2="256.85" y2="118.6" stroke="#222" stroke-width="0.5" />
<line x1="258.04" y1="117.5" x2="258.04" y2="118.6" stroke="#222" stroke-width="0.5" />
<line x1="258.89" y1="117.5" x2="258.89" y2="118.6" stroke="#222" stroke-width="0.5" />
<line x1="259.55" y1="117.5" x2="259.55" y2="118.6" stroke="#222" stroke-width="0.5" />
<line x1="260.09" y1="117.5" x2="260.09" y2="118.6" stroke="#222" stroke-width="0.5" />
<line x1="260.55" y1="117.5" x2="260.55" y2="118.6" stroke="#222" stroke-width="0.5" />
<line x1="260.94" y1="117.5" x2="260.94" y2="118.6" stroke="#222" stroke-width="0.5" />
<line x1="261.29" y1="117.5" x2="261.29" y2="118.6" stroke="#222" stroke-width="0.5" />
<line x1="265.63" y1="117.5" x2="265.63" y2="118.6" stroke="#222" stroke-width="0.5" />
<line x1="267.99" y1="117.5" x2="267.99" y2="118.6" stroke="#222" stroke-width="0.5" />
<line x1="269.67" y1="117.5" x2="269.67" y2="118.6" stroke="#222" stroke-width="0.5" />
<line x1="270.97" y1="117.5" x2="270.97" y2="118.6" stroke="#222" stroke-width="0.5" />
<line x1="272.03" y1="117.5" x2="272.03" y2="118.6" stroke="#222" stroke-width="0.5" />
<line x1="272.92" y1="117.5" x2="272.92" y2="118.6" stroke="#222" stroke-width="0.5" />
<line x1="273.7" y1="117.5" x2="273.7" y2="118.6" stroke="#222" stroke-width="0.5" />
<line x1="274.39" y1="117.5" x2="274.39" y2="118.6" stroke="#222" stroke-width="0.5" />
<line x1="278.55" y1="117.5" x2="278.55" y2="118.6" stroke="#222" stroke-width="0.5" />
<line x1="280.63" y1="117.5" x2="280.63" y2="118.6" stroke="#222" stroke-width="0.5" />
<line x1="282.1" y1="117.5" x2="282.1" y2="118.6" stroke="#222" stroke-width="0.5" />
<line x1="283.25" y1="117.5" x2="283.25" y2="118.6" stroke="#222" stroke-width="0.5" />
<line x1="284.18" y1="117.5" x2="284.18" y2="118.6" stroke="#222" stroke-width="0.5" />
<line x1="284.97" y1="117.5" x2="284.97" y2="118.6" stroke="#222" stroke-width="0.5" />
<line x1="285.66" y1="117.5" x2="285.66" y2="118.6" stroke="#222" stroke-width="0.5" />
<line x1="286.26" y1="117.5" x2="286.26" y2="118.6" stroke="#222" stroke-width="0.5" />
<text x="254.8" y="128.3" font-size="6" text-anchor="middle" fill="#1e1e1e" stroke="#1e1e1e" stroke-width="0.15">0</text>
<text x="261.6" y="128.3" font-size="6" text-anchor="middle" fill="#1e1e1e" stroke="#1e1e1e" stroke-width="0.15">10<tspan font-size="3.72" dy="-2.2">3</tspan></text>
<text x="275" y="128.3" font-size="6" text-anchor="middle" fill="#1e1e1e" stroke="#1e1e1e" stroke-width="0.15">10<tspan font-size="3.72" dy="-2.2">4</tspan></text>
<text x="286.8" y="128.3" font-size="6" text-anchor="middle" fill="#1e1e1e" stroke="#1e1e1e" stroke-width="0.15">10<tspan font-size="3.72" dy="-2.2">5</tspan></text>
<text x="217.2" y="140" font-size="7.8" text-anchor="middle" fill="#1e1e1e" stroke="#1e1e1e" stroke-width="0.15" textLength="15.3" lengthAdjust="spacingAndGlyphs">pERK</text>
<text x="267.5" y="140" font-size="7.8" text-anchor="middle" fill="#1e1e1e" stroke="#1e1e1e" stroke-width="0.15" textLength="14.8" lengthAdjust="spacingAndGlyphs">pERK</text>
<rect x="135.6" y="92.3" width="6.9" height="3" fill="#f5c48c" stroke="none" stroke-width="1" />
<rect x="143.5" y="89.8" width="7.1" height="5.5" fill="#f5c48c" stroke="none" stroke-width="1" />
<rect x="151.5" y="92.5" width="7" height="2.8" fill="#f5c48c" stroke="none" stroke-width="1" />
<rect x="163" y="92" width="7.6" height="3.3" fill="#d6dcc2" stroke="none" stroke-width="1" />
<rect x="171.2" y="64.6" width="7.1" height="30.7" fill="#d6dcc2" stroke="none" stroke-width="1" />
<rect x="179.5" y="81.3" width="6.5" height="14" fill="#d6dcc2" stroke="none" stroke-width="1" />
<line x1="133" y1="95.5" x2="186.5" y2="95.5" stroke="#222" stroke-width="1.15" />
<line x1="133.5" y1="50.6" x2="133.5" y2="96" stroke="#222" stroke-width="1.15" />
<line x1="131.3" y1="95.3" x2="133.5" y2="95.3" stroke="#222" stroke-width="0.9" />
<line x1="131.3" y1="86.8" x2="133.5" y2="86.8" stroke="#222" stroke-width="0.9" />
<line x1="131.3" y1="78.3" x2="133.5" y2="78.3" stroke="#222" stroke-width="0.9" />
<line x1="131.3" y1="69.8" x2="133.5" y2="69.8" stroke="#222" stroke-width="0.9" />
<line x1="131.3" y1="61.3" x2="133.5" y2="61.3" stroke="#222" stroke-width="0.9" />
<line x1="131.3" y1="52.8" x2="133.5" y2="52.8" stroke="#222" stroke-width="0.9" />
<text x="127.9" y="97.45" font-size="6" text-anchor="end" fill="#1e1e1e" stroke="#1e1e1e" stroke-width="0.15">0</text>
<text x="127.9" y="80.45" font-size="6" text-anchor="end" fill="#1e1e1e" stroke="#1e1e1e" stroke-width="0.15">2</text>
<text x="127.9" y="63.45" font-size="6" text-anchor="end" fill="#1e1e1e" stroke="#1e1e1e" stroke-width="0.15">4</text>
<text x="116.6" y="72.8" font-size="7.3" text-anchor="middle" fill="#1e1e1e" stroke="#1e1e1e" stroke-width="0.15" textLength="29" lengthAdjust="spacingAndGlyphs" transform="rotate(-90 116.6 72.8)" dominant-baseline="central">MFI x 10<tspan font-size="4.2" dy="-2.4">3</tspan></text>
<line x1="139.05" y1="95.3" x2="139.05" y2="97.3" stroke="#222" stroke-width="0.8" />
<line x1="139.05" y1="91.6" x2="139.05" y2="93.3" stroke="#222" stroke-width="0.9" />
<path d="M137.65,91.1 L140.45,91.1 L139.6,92.9 L138.5,92.9 Z" fill="#222"/>
<line x1="147.05" y1="95.3" x2="147.05" y2="97.3" stroke="#222" stroke-width="0.8" />
<line x1="147.05" y1="89.2" x2="147.05" y2="90.8" stroke="#222" stroke-width="0.9" />
<path d="M145.65,88.7 L148.45,88.7 L147.6,90.5 L146.5,90.5 Z" fill="#222"/>
<line x1="155" y1="95.3" x2="155" y2="97.3" stroke="#222" stroke-width="0.8" />
<line x1="155" y1="92" x2="155" y2="93.5" stroke="#222" stroke-width="0.9" />
<path d="M153.6,91.5 L156.4,91.5 L155.55,93.3 L154.45,93.3 Z" fill="#222"/>
<line x1="166.8" y1="95.3" x2="166.8" y2="97.3" stroke="#222" stroke-width="0.8" />
<line x1="166.8" y1="89.8" x2="166.8" y2="93" stroke="#222" stroke-width="0.9" />
<path d="M165.4,89.3 L168.2,89.3 L167.35,91.1 L166.25,91.1 Z" fill="#222"/>
<line x1="174.75" y1="95.3" x2="174.75" y2="97.3" stroke="#222" stroke-width="0.8" />
<line x1="174.75" y1="62.4" x2="174.75" y2="65.6" stroke="#222" stroke-width="0.9" />
<path d="M173.35,61.9 L176.15,61.9 L175.3,63.7 L174.2,63.7 Z" fill="#222"/>
<circle cx="174.75" cy="52.5" r="0.78" fill="#1e1e1e"/>
<circle cx="174.75" cy="55.9" r="0.78" fill="#1e1e1e"/>
<circle cx="174.75" cy="59.3" r="0.78" fill="#1e1e1e"/>
<line x1="182.75" y1="95.3" x2="182.75" y2="97.3" stroke="#222" stroke-width="0.8" />
<line x1="182.75" y1="77.5" x2="182.75" y2="82.3" stroke="#222" stroke-width="0.9" />
<path d="M181.35,77 L184.15,77 L183.3,78.8 L182.2,78.8 Z" fill="#222"/>
<circle cx="182.75" cy="67.9" r="0.78" fill="#1e1e1e"/>
<circle cx="182.75" cy="71.1" r="0.78" fill="#1e1e1e"/>
<circle cx="182.75" cy="74.3" r="0.78" fill="#1e1e1e"/>
<text x="161.5" y="46.2" font-size="8.2" text-anchor="middle" fill="#1e1e1e" stroke="#1e1e1e" stroke-width="0.15">pSTAT5</text>
<rect x="325" y="77.3" width="6" height="17.95" fill="#f5c48c" stroke="none" stroke-width="1" />
<rect x="332.3" y="73.1" width="7.1" height="22.15" fill="#f5c48c" stroke="none" stroke-width="1" />
<rect x="340.6" y="76.5" width="6.3" height="18.75" fill="#f5c48c" stroke="none" stroke-width="1" />
<rect x="352.8" y="79.4" width="7" height="15.85" fill="#d6dcc2" stroke="none" stroke-width="1" />
<rect x="360.6" y="68.1" width="6.7" height="27.15" fill="#d6dcc2" stroke="none" stroke-width="1" />
<rect x="368.5" y="73.1" width="6.5" height="22.15" fill="#d6dcc2" stroke="none" stroke-width="1" />
<line x1="322" y1="95.5" x2="378" y2="95.5" stroke="#222" stroke-width="1.15" />
<line x1="322.5" y1="51" x2="322.5" y2="96" stroke="#222" stroke-width="1.15" />
<line x1="320.6" y1="95.25" x2="322.8" y2="95.25" stroke="#222" stroke-width="0.9" />
<line x1="320.6" y1="81.4" x2="322.8" y2="81.4" stroke="#222" stroke-width="0.9" />
<line x1="320.6" y1="67.55" x2="322.8" y2="67.55" stroke="#222" stroke-width="0.9" />
<line x1="320.6" y1="53.7" x2="322.8" y2="53.7" stroke="#222" stroke-width="0.9" />
<text x="317.2" y="97.4" font-size="6" text-anchor="end" fill="#1e1e1e" stroke="#1e1e1e" stroke-width="0.15">0</text>
<text x="317.2" y="69.7" font-size="6" text-anchor="end" fill="#1e1e1e" stroke="#1e1e1e" stroke-width="0.15">1</text>
<text x="306.6" y="74.2" font-size="7.3" text-anchor="middle" fill="#1e1e1e" stroke="#1e1e1e" stroke-width="0.15" textLength="26.5" lengthAdjust="spacingAndGlyphs" transform="rotate(-90 306.6 74.2)" dominant-baseline="central">MFI x 10<tspan font-size="4.2" dy="-2.4">3</tspan></text>
<line x1="328" y1="95.25" x2="328" y2="97.25" stroke="#222" stroke-width="0.8" />
<line x1="328" y1="76.3" x2="328" y2="78.3" stroke="#222" stroke-width="0.9" />
<path d="M326.6,75.8 L329.4,75.8 L328.55,77.6 L327.45,77.6 Z" fill="#222"/>
<line x1="335.85" y1="95.25" x2="335.85" y2="97.25" stroke="#222" stroke-width="0.8" />
<line x1="335.85" y1="71.7" x2="335.85" y2="74.1" stroke="#222" stroke-width="0.9" />
<path d="M334.45,71.2 L337.25,71.2 L336.4,73 L335.3,73 Z" fill="#222"/>
<circle cx="335.85" cy="68.2" r="0.78" fill="#1e1e1e"/>
<line x1="343.75" y1="95.25" x2="343.75" y2="97.25" stroke="#222" stroke-width="0.8" />
<line x1="343.75" y1="75.3" x2="343.75" y2="77.5" stroke="#222" stroke-width="0.9" />
<path d="M342.35,74.8 L345.15,74.8 L344.3,76.6 L343.2,76.6 Z" fill="#222"/>
<line x1="356.3" y1="95.25" x2="356.3" y2="97.25" stroke="#222" stroke-width="0.8" />
<line x1="356.3" y1="76.5" x2="356.3" y2="80.4" stroke="#222" stroke-width="0.9" />
<path d="M354.9,76 L357.7,76 L356.85,77.8 L355.75,77.8 Z" fill="#222"/>
<line x1="363.95" y1="95.25" x2="363.95" y2="97.25" stroke="#222" stroke-width="0.8" />
<line x1="363.95" y1="61.3" x2="363.95" y2="69.1" stroke="#222" stroke-width="0.9" />
<path d="M362.55,60.8 L365.35,60.8 L364.5,62.6 L363.4,62.6 Z" fill="#222"/>
<circle cx="363.95" cy="57.6" r="0.78" fill="#1e1e1e"/>
<line x1="371.75" y1="95.25" x2="371.75" y2="97.25" stroke="#222" stroke-width="0.8" />
<line x1="371.75" y1="68.1" x2="371.75" y2="74.1" stroke="#222" stroke-width="0.9" />
<path d="M370.35,67.6 L373.15,67.6 L372.3,69.4 L371.2,69.4 Z" fill="#222"/>
<text x="351" y="45.9" font-size="8.2" text-anchor="middle" fill="#1e1e1e" stroke="#1e1e1e" stroke-width="0.15">pERK</text>
<text x="139" y="107" font-size="6.3" text-anchor="middle" fill="#1e1e1e" stroke="#1e1e1e" stroke-width="0.15">0′</text>
<text x="147" y="107" font-size="6.3" text-anchor="middle" fill="#1e1e1e" stroke="#1e1e1e" stroke-width="0.15">10′</text>
<text x="155" y="107" font-size="6.3" text-anchor="middle" fill="#1e1e1e" stroke="#1e1e1e" stroke-width="0.15">30′</text>
<text x="166.8" y="107" font-size="6.3" text-anchor="middle" fill="#1e1e1e" stroke="#1e1e1e" stroke-width="0.15">0′</text>
<text x="174.6" y="107" font-size="6.3" text-anchor="middle" fill="#1e1e1e" stroke="#1e1e1e" stroke-width="0.15">10′</text>
<text x="182.5" y="107" font-size="6.3" text-anchor="middle" fill="#1e1e1e" stroke="#1e1e1e" stroke-width="0.15">30′</text>
<line x1="136" y1="111.5" x2="157.8" y2="111.5" stroke="#2a2a2a" stroke-width="1" />
<line x1="164" y1="111.5" x2="185.6" y2="111.5" stroke="#2a2a2a" stroke-width="1" />
<text x="146.5" y="119.8" font-size="6.4" text-anchor="middle" fill="#1e1e1e" stroke="#1e1e1e" stroke-width="0.15" textLength="12.4" lengthAdjust="spacingAndGlyphs">LKS<tspan font-size="4.6" dy="-2.9">+</tspan></text>
<text x="174.6" y="119.8" font-size="6.4" text-anchor="middle" fill="#1e1e1e" stroke="#1e1e1e" stroke-width="0.15" textLength="11.5" lengthAdjust="spacingAndGlyphs">LKS<tspan font-size="5.4" dy="-2.6">–</tspan></text>
<text x="174.6" y="127.3" font-size="6.4" text-anchor="middle" fill="#1e1e1e" stroke="#1e1e1e" stroke-width="0.15" textLength="16.4" lengthAdjust="spacingAndGlyphs">CD34<tspan font-size="4.6" dy="-2.9">+</tspan></text>
<text x="174.6" y="134.8" font-size="6.4" text-anchor="middle" fill="#1e1e1e" stroke="#1e1e1e" stroke-width="0.15" textLength="15.4" lengthAdjust="spacingAndGlyphs">FcγR<tspan font-size="4.6" dy="-2.9">+</tspan></text>
<text x="328" y="107" font-size="6.3" text-anchor="middle" fill="#1e1e1e" stroke="#1e1e1e" stroke-width="0.15">0′</text>
<text x="335.8" y="107" font-size="6.3" text-anchor="middle" fill="#1e1e1e" stroke="#1e1e1e" stroke-width="0.15">10′</text>
<text x="343.7" y="107" font-size="6.3" text-anchor="middle" fill="#1e1e1e" stroke="#1e1e1e" stroke-width="0.15">30′</text>
<text x="356.3" y="107" font-size="6.3" text-anchor="middle" fill="#1e1e1e" stroke="#1e1e1e" stroke-width="0.15">0′</text>
<text x="364" y="107" font-size="6.3" text-anchor="middle" fill="#1e1e1e" stroke="#1e1e1e" stroke-width="0.15">10′</text>
<text x="371.7" y="107" font-size="6.3" text-anchor="middle" fill="#1e1e1e" stroke="#1e1e1e" stroke-width="0.15">30′</text>
<line x1="325" y1="111.5" x2="346.5" y2="111.5" stroke="#2a2a2a" stroke-width="1" />
<line x1="353.5" y1="111.5" x2="375" y2="111.5" stroke="#2a2a2a" stroke-width="1" />
<text x="336" y="119.8" font-size="6.4" text-anchor="middle" fill="#1e1e1e" stroke="#1e1e1e" stroke-width="0.15" textLength="12.4" lengthAdjust="spacingAndGlyphs">LKS<tspan font-size="4.6" dy="-2.9">+</tspan></text>
<text x="364" y="119.8" font-size="6.4" text-anchor="middle" fill="#1e1e1e" stroke="#1e1e1e" stroke-width="0.15" textLength="11.5" lengthAdjust="spacingAndGlyphs">LKS<tspan font-size="5.4" dy="-2.6">–</tspan></text>
<text x="364" y="127.3" font-size="6.4" text-anchor="middle" fill="#1e1e1e" stroke="#1e1e1e" stroke-width="0.15" textLength="16.4" lengthAdjust="spacingAndGlyphs">CD34<tspan font-size="4.6" dy="-2.9">+</tspan></text>
<text x="364" y="134.8" font-size="6.4" text-anchor="middle" fill="#1e1e1e" stroke="#1e1e1e" stroke-width="0.15" textLength="15.4" lengthAdjust="spacingAndGlyphs">FcγR<tspan font-size="4.6" dy="-2.9">+</tspan></text>
<path d="M394.1,54.25 L394.1,54.25 L394.6,54.25 L395.1,54.25 L395.6,54.25 L396.1,54.25 L396.6,54.25 L397.1,54.25 L397.6,54.24 L398.1,54.23 L398.6,54.18 L399.1,54.04 L399.6,53.73 L400.1,53.05 L400.6,51.75 L401.1,49.54 L401.6,46.2 L402.1,41.75 L402.6,36.66 L403.1,31.79 L403.6,28.25 L404.1,26.95 L404.6,27.98 L405.1,30.85 L405.6,34.96 L406.1,39.52 L406.6,43.84 L407.1,47.44 L407.6,50.13 L408.1,51.94 L408.6,53.05 L409.1,53.67 L409.6,53.99 L410.1,54.14 L410.6,54.21 L411.1,54.24 L411.6,54.25 L412.1,54.25 L412.6,54.25 L413.1,54.25 L413.6,54.25 L414.1,54.25 L414.6,54.25 L415.1,54.25 L415.6,54.25 L416.1,54.25 L416.6,54.25 L417.1,54.25 L417.6,54.25 L418.1,54.25 L418.6,54.25 L419.1,54.25 L419.6,54.25 L420.1,54.25 L420.6,54.25 L421.1,54.25 L421.6,54.25 L422.1,54.25 L422.6,54.25 L423.1,54.25 L423.6,54.25 L424.1,54.25 L424.6,54.25 L425.1,54.25 L425.6,54.25 L426.1,54.25 L426.6,54.25 L427.1,54.25 L427.6,54.25 L428.1,54.25 L428.6,54.25 L429.1,54.25 L429.6,54.25 L430.1,54.25 L430.6,54.25 L431.1,54.25 L431.6,54.25 L432.1,54.25 L432.6,54.25 L433.1,54.25 L433.6,54.25 L434.1,54.25 L434.6,54.25 L435.1,54.25 L435.6,54.25 L436.1,54.25 L436.6,54.25 L437.1,54.25 L437.6,54.25 L438.1,54.25 L438.6,54.25 L439.1,54.25 L439.6,54.25 L440.1,54.25 L440.6,54.25 L441.1,54.25 L441.6,54.25 L442.1,54.25 L442.6,54.25 L443.1,54.25 L443.6,54.25 L444.1,54.25 L444.6,54.25 L445.1,54.25 L445.6,54.25 L446.1,54.25 L446.6,54.25 L447.1,54.25 L447.6,54.25 L448.1,54.25 L448.6,54.25 L449.1,54.25 L449.6,54.25 L450.1,54.25 L450.6,54.25 L450.6,54.25 Z" fill="#f5c48c" stroke="#e8a85a" stroke-width="0.7" stroke-linejoin="round"/>
<path d="M394.1,54.25 L394.1,54.25 L394.6,54.25 L395.1,54.25 L395.6,54.25 L396.1,54.25 L396.6,54.25 L397.1,54.25 L397.6,54.25 L398.1,54.24 L398.6,54.22 L399.1,54.14 L399.6,53.95 L400.1,53.47 L400.6,52.46 L401.1,50.56 L401.6,47.44 L402.1,43.03 L402.6,37.69 L403.1,32.39 L403.6,28.43 L404.1,26.95 L404.6,28.11 L405.1,31.29 L405.6,35.75 L406.1,40.58 L406.6,44.99 L407.1,48.5 L407.6,50.97 L408.1,52.54 L408.6,53.43 L409.1,53.89 L409.6,54.1 L410.1,54.2 L410.6,54.23 L411.1,54.24 L411.6,54.25 L412.1,54.25 L412.6,54.25 L413.1,54.25 L413.6,54.25 L414.1,54.25 L414.6,54.25 L415.1,54.25 L415.6,54.25 L416.1,54.25 L416.6,54.25 L417.1,54.25 L417.6,54.25 L418.1,54.25 L418.6,54.25 L419.1,54.25 L419.6,54.25 L420.1,54.25 L420.6,54.25 L421.1,54.25 L421.6,54.25 L422.1,54.25 L422.6,54.25 L423.1,54.25 L423.6,54.25 L424.1,54.25 L424.6,54.25 L425.1,54.25 L425.6,54.25 L426.1,54.25 L426.6,54.25 L427.1,54.25 L427.6,54.25 L428.1,54.25 L428.6,54.25 L429.1,54.25 L429.6,54.25 L430.1,54.25 L430.6,54.25 L431.1,54.25 L431.6,54.25 L432.1,54.25 L432.6,54.25 L433.1,54.25 L433.6,54.25 L434.1,54.25 L434.6,54.25 L435.1,54.25 L435.6,54.25 L436.1,54.25 L436.6,54.25 L437.1,54.25 L437.6,54.25 L438.1,54.25 L438.6,54.25 L439.1,54.25 L439.6,54.25 L440.1,54.25 L440.6,54.25 L441.1,54.25 L441.6,54.25 L442.1,54.25 L442.6,54.25 L443.1,54.25 L443.6,54.25 L444.1,54.25 L444.6,54.25 L445.1,54.25 L445.6,54.25 L446.1,54.25 L446.6,54.25 L447.1,54.25 L447.6,54.25 L448.1,54.25 L448.6,54.25 L449.1,54.25 L449.6,54.25 L450.1,54.25 L450.6,54.25" fill="none" stroke="#222" stroke-width="0.7" stroke-linejoin="round" stroke-dasharray="0.8,0.8"/>
<path d="M394.1,87 L394.1,87 L394.6,87 L395.1,87 L395.6,87 L396.1,87 L396.6,87 L397.1,87 L397.6,87 L398.1,87 L398.6,87 L399.1,87 L399.6,87 L400.1,87 L400.6,86.99 L401.1,86.98 L401.6,86.93 L402.1,86.78 L402.6,86.41 L403.1,85.58 L403.6,83.94 L404.1,81.11 L404.6,76.84 L405.1,71.33 L405.6,65.34 L406.1,60.18 L406.6,57.23 L407.1,56.89 L407.6,57.42 L408.1,58.56 L408.6,60.24 L409.1,62.34 L409.6,64.75 L410.1,67.32 L410.6,69.96 L411.1,72.54 L411.6,74.97 L412.1,77.18 L412.6,79.12 L413.1,80.8 L413.6,82.2 L414.1,83.35 L414.6,84.27 L415.1,85 L415.6,85.56 L416.1,85.98 L416.6,86.29 L417.1,86.52 L417.6,86.68 L418.1,86.79 L418.6,86.87 L419.1,86.92 L419.6,86.95 L420.1,86.97 L420.6,86.98 L421.1,86.99 L421.6,86.99 L422.1,87 L422.6,87 L423.1,87 L423.6,87 L424.1,87 L424.6,87 L425.1,87 L425.6,87 L426.1,87 L426.6,87 L427.1,87 L427.6,87 L428.1,87 L428.6,87 L429.1,87 L429.6,87 L430.1,87 L430.6,87 L431.1,87 L431.6,87 L432.1,87 L432.6,87 L433.1,87 L433.6,87 L434.1,87 L434.6,87 L435.1,87 L435.6,87 L436.1,87 L436.6,87 L437.1,87 L437.6,87 L438.1,87 L438.6,87 L439.1,87 L439.6,87 L440.1,87 L440.6,87 L441.1,87 L441.6,87 L442.1,87 L442.6,87 L443.1,87 L443.6,87 L444.1,87 L444.6,87 L445.1,87 L445.6,87 L446.1,87 L446.6,87 L447.1,87 L447.6,87 L448.1,87 L448.6,87 L449.1,87 L449.6,87 L450.1,87 L450.6,87 L450.6,87 Z" fill="#d6dcc2" stroke="#b9c0a0" stroke-width="0.5" stroke-linejoin="round"/>
<path d="M394.1,87 L394.1,87 L394.6,87 L395.1,87 L395.6,87 L396.1,87 L396.6,87 L397.1,87 L397.6,87 L398.1,87 L398.6,87 L399.1,87 L399.6,86.98 L400.1,86.91 L400.6,86.67 L401.1,85.95 L401.6,84.18 L402.1,80.62 L402.6,74.87 L403.1,67.62 L403.6,60.97 L404.1,57.6 L404.6,58.68 L405.1,63.01 L405.6,69.11 L406.1,75.25 L406.6,80.21 L407.1,83.55 L407.6,85.45 L408.1,86.39 L408.6,86.79 L409.1,86.94 L409.6,86.98 L410.1,87 L410.6,87 L411.1,87 L411.6,87 L412.1,87 L412.6,87 L413.1,87 L413.6,87 L414.1,87 L414.6,87 L415.1,87 L415.6,87 L416.1,87 L416.6,87 L417.1,87 L417.6,87 L418.1,87 L418.6,87 L419.1,87 L419.6,87 L420.1,87 L420.6,87 L421.1,87 L421.6,87 L422.1,87 L422.6,87 L423.1,87 L423.6,87 L424.1,87 L424.6,87 L425.1,87 L425.6,87 L426.1,87 L426.6,87 L427.1,87 L427.6,87 L428.1,87 L428.6,87 L429.1,87 L429.6,87 L430.1,87 L430.6,87 L431.1,87 L431.6,87 L432.1,87 L432.6,87 L433.1,87 L433.6,87 L434.1,87 L434.6,87 L435.1,87 L435.6,87 L436.1,87 L436.6,87 L437.1,87 L437.6,87 L438.1,87 L438.6,87 L439.1,87 L439.6,87 L440.1,87 L440.6,87 L441.1,87 L441.6,87 L442.1,87 L442.6,87 L443.1,87 L443.6,87 L444.1,87 L444.6,87 L445.1,87 L445.6,87 L446.1,87 L446.6,87 L447.1,87 L447.6,87 L448.1,87 L448.6,87 L449.1,87 L449.6,87 L450.1,87 L450.6,87" fill="none" stroke="#555" stroke-width="0.7" stroke-linejoin="round" stroke-dasharray="0.8,0.8"/>
<path d="M394.1,118 L394.1,118 L394.6,118 L395.1,118 L395.6,118 L396.1,118 L396.6,118 L397.1,118 L397.6,118 L398.1,118 L398.6,118 L399.1,118 L399.6,118 L400.1,118 L400.6,118 L401.1,118 L401.6,118 L402.1,118 L402.6,117.99 L403.1,117.99 L403.6,117.97 L404.1,117.93 L404.6,117.84 L405.1,117.68 L405.6,117.39 L406.1,116.9 L406.6,116.11 L407.1,114.91 L407.6,113.21 L408.1,110.95 L408.6,108.13 L409.1,104.89 L409.6,101.45 L410.1,98.12 L410.6,95.23 L411.1,92.97 L411.6,91.26 L412.1,90.85 L412.6,91.75 L413.1,92.3 L413.6,91.75 L414.1,90.85 L414.6,91.26 L415.1,92.73 L415.6,94.32 L416.1,96.28 L416.6,98.61 L417.1,101.22 L417.6,103.92 L418.1,106.55 L418.6,108.99 L419.1,111.13 L419.6,112.92 L420.1,114.37 L420.6,115.48 L421.1,116.31 L421.6,116.9 L422.1,117.31 L422.6,117.58 L423.1,117.75 L423.6,117.86 L424.1,117.92 L424.6,117.96 L425.1,117.98 L425.6,117.99 L426.1,117.99 L426.6,118 L427.1,118 L427.6,118 L428.1,118 L428.6,118 L429.1,118 L429.6,118 L430.1,118 L430.6,118 L431.1,118 L431.6,118 L432.1,118 L432.6,118 L433.1,118 L433.6,118 L434.1,118 L434.6,118 L435.1,118 L435.6,118 L436.1,118 L436.6,118 L437.1,118 L437.6,118 L438.1,118 L438.6,118 L439.1,118 L439.6,118 L440.1,118 L440.6,118 L441.1,118 L441.6,118 L442.1,118 L442.6,118 L443.1,118 L443.6,118 L444.1,118 L444.6,118 L445.1,118 L445.6,118 L446.1,118 L446.6,118 L447.1,118 L447.6,118 L448.1,118 L448.6,118 L449.1,118 L449.6,118 L450.1,118 L450.6,118 L450.6,118 Z" fill="#fad98a" stroke="#f0be2a" stroke-width="0.8" stroke-linejoin="round"/>
<path d="M394.1,118 L394.1,118 L394.6,118 L395.1,118 L395.6,118 L396.1,118 L396.6,118 L397.1,118 L397.6,118 L398.1,117.98 L398.6,117.91 L399.1,117.61 L399.6,116.67 L400.1,114.35 L400.6,109.82 L401.1,103.11 L401.6,95.95 L402.1,91.44 L402.6,91.83 L403.1,96.38 L403.6,102.99 L404.1,109.23 L404.6,113.7 L405.1,116.23 L405.6,117.38 L406.1,117.82 L406.6,117.96 L407.1,117.99 L407.6,118 L408.1,118 L408.6,118 L409.1,118 L409.6,118 L410.1,118 L410.6,118 L411.1,118 L411.6,118 L412.1,118 L412.6,118 L413.1,118 L413.6,118 L414.1,118 L414.6,118 L415.1,118 L415.6,118 L416.1,118 L416.6,118 L417.1,118 L417.6,118 L418.1,118 L418.6,118 L419.1,118 L419.6,118 L420.1,118 L420.6,118 L421.1,118 L421.6,118 L422.1,118 L422.6,118 L423.1,118 L423.6,118 L424.1,118 L424.6,118 L425.1,118 L425.6,118 L426.1,118 L426.6,118 L427.1,118 L427.6,118 L428.1,118 L428.6,118 L429.1,118 L429.6,118 L430.1,118 L430.6,118 L431.1,118 L431.6,118 L432.1,118 L432.6,118 L433.1,118 L433.6,118 L434.1,118 L434.6,118 L435.1,118 L435.6,118 L436.1,118 L436.6,118 L437.1,118 L437.6,118 L438.1,118 L438.6,118 L439.1,118 L439.6,118 L440.1,118 L440.6,118 L441.1,118 L441.6,118 L442.1,118 L442.6,118 L443.1,118 L443.6,118 L444.1,118 L444.6,118 L445.1,118 L445.6,118 L446.1,118 L446.6,118 L447.1,118 L447.6,118 L448.1,118 L448.6,118 L449.1,118 L449.6,118 L450.1,118 L450.6,118" fill="none" stroke="#777" stroke-width="0.6" stroke-linejoin="round" stroke-dasharray="0.8,0.8"/>
<path d="M455,54.25 L455,54.25 L455.5,54.25 L456,54.25 L456.5,54.24 L457,54.23 L457.5,54.21 L458,54.18 L458.5,54.12 L459,54.02 L459.5,53.86 L460,53.61 L460.5,53.23 L461,52.66 L461.5,51.87 L462,50.8 L462.5,49.4 L463,47.64 L463.5,45.52 L464,43.09 L464.5,40.43 L465,37.68 L465.5,35 L466,32.59 L466.5,30.64 L467,29.33 L467.5,28.77 L468,28.92 L468.5,29.58 L469,30.71 L469.5,32.24 L470,34.09 L470.5,36.16 L471,38.33 L471.5,40.52 L472,42.63 L472.5,44.59 L473,46.32 L473.5,47.77 L474,48.92 L474.5,49.73 L475,50.22 L475.5,50.42 L476,50.39 L476.5,50.23 L477,50.03 L477.5,49.91 L478,49.94 L478.5,50.17 L479,50.59 L479.5,51.15 L480,51.78 L480.5,52.39 L481,52.93 L481.5,53.38 L482,53.7 L482.5,53.93 L483,54.07 L483.5,54.16 L484,54.21 L484.5,54.23 L485,54.24 L485.5,54.25 L486,54.25 L486.5,54.25 L487,54.25 L487.5,54.25 L488,54.25 L488.5,54.25 L489,54.25 L489.5,54.25 L490,54.25 L490.5,54.25 L491,54.25 L491.5,54.25 L492,54.25 L492.5,54.25 L493,54.25 L493.5,54.25 L494,54.25 L494.5,54.25 L495,54.25 L495.5,54.25 L496,54.25 L496.5,54.25 L497,54.25 L497.5,54.25 L498,54.25 L498.5,54.25 L499,54.25 L499.5,54.25 L500,54.25 L500.5,54.25 L501,54.25 L501.5,54.25 L502,54.25 L502.5,54.25 L503,54.25 L503.5,54.25 L504,54.25 L504.5,54.25 L505,54.25 L505.5,54.25 L506,54.25 L506.5,54.25 L507,54.25 L507.5,54.25 L508,54.25 L508.5,54.25 L509,54.25 L509.5,54.25 L510,54.25 L510.5,54.25 L511,54.25 L511.5,54.25 L512,54.25 L512,54.25 Z" fill="#f5c48c" stroke="#e8a85a" stroke-width="0.7" stroke-linejoin="round"/>
<path d="M455,54.25 L455,54.25 L455.5,54.25 L456,54.25 L456.5,54.25 L457,54.25 L457.5,54.25 L458,54.25 L458.5,54.24 L459,54.23 L459.5,54.2 L460,54.16 L460.5,54.07 L461,53.92 L461.5,53.66 L462,53.25 L462.5,52.61 L463,51.68 L463.5,50.37 L464,48.62 L464.5,46.4 L465,43.74 L465.5,40.73 L466,37.53 L466.5,34.4 L467,31.6 L467.5,29.41 L468,28.09 L468.5,27.77 L469,28.35 L469.5,29.72 L470,31.74 L470.5,34.25 L471,37.03 L471.5,39.89 L472,42.65 L472.5,45.18 L473,47.38 L473.5,49.21 L474,50.66 L474.5,51.78 L475,52.6 L475.5,53.19 L476,53.58 L476.5,53.85 L477,54.01 L477.5,54.12 L478,54.18 L478.5,54.21 L479,54.23 L479.5,54.24 L480,54.25 L480.5,54.25 L481,54.25 L481.5,54.25 L482,54.25 L482.5,54.25 L483,54.25 L483.5,54.25 L484,54.25 L484.5,54.25 L485,54.25 L485.5,54.25 L486,54.25 L486.5,54.25 L487,54.25 L487.5,54.25 L488,54.25 L488.5,54.25 L489,54.25 L489.5,54.25 L490,54.25 L490.5,54.25 L491,54.25 L491.5,54.25 L492,54.25 L492.5,54.25 L493,54.25 L493.5,54.25 L494,54.25 L494.5,54.25 L495,54.25 L495.5,54.25 L496,54.25 L496.5,54.25 L497,54.25 L497.5,54.25 L498,54.25 L498.5,54.25 L499,54.25 L499.5,54.25 L500,54.25 L500.5,54.25 L501,54.25 L501.5,54.25 L502,54.25 L502.5,54.25 L503,54.25 L503.5,54.25 L504,54.25 L504.5,54.25 L505,54.25 L505.5,54.25 L506,54.25 L506.5,54.25 L507,54.25 L507.5,54.25 L508,54.25 L508.5,54.25 L509,54.25 L509.5,54.25 L510,54.25 L510.5,54.25 L511,54.25 L511.5,54.25 L512,54.25" fill="none" stroke="#222" stroke-width="0.7" stroke-linejoin="round" stroke-dasharray="0.8,0.8"/>
<path d="M455,87 L455,87 L455.5,87 L456,87 L456.5,87 L457,87 L457.5,87 L458,87 L458.5,87 L459,87 L459.5,87 L460,87 L460.5,86.99 L461,86.98 L461.5,86.97 L462,86.93 L462.5,86.85 L463,86.72 L463.5,86.48 L464,86.07 L464.5,85.43 L465,84.47 L465.5,83.07 L466,81.17 L466.5,78.71 L467,75.72 L467.5,72.29 L468,68.64 L468.5,65.06 L469,61.88 L469.5,59.45 L470,58.07 L470.5,57.82 L471,58.18 L471.5,58.99 L472,60.2 L472.5,61.74 L473,63.52 L473.5,65.45 L474,67.43 L474.5,69.39 L475,71.23 L475.5,72.91 L476,74.38 L476.5,75.62 L477,76.63 L477.5,77.41 L478,77.99 L478.5,78.42 L479,78.71 L479.5,78.93 L480,79.1 L480.5,79.26 L481,79.45 L481.5,79.68 L482,79.96 L482.5,80.31 L483,80.71 L483.5,81.17 L484,81.67 L484.5,82.2 L485,82.74 L485.5,83.27 L486,83.79 L486.5,84.28 L487,84.73 L487.5,85.13 L488,85.49 L488.5,85.79 L489,86.05 L489.5,86.27 L490,86.44 L490.5,86.58 L491,86.69 L491.5,86.78 L492,86.84 L492.5,86.89 L493,86.92 L493.5,86.95 L494,86.96 L494.5,86.98 L495,86.98 L495.5,86.99 L496,86.99 L496.5,87 L497,87 L497.5,87 L498,87 L498.5,87 L499,87 L499.5,87 L500,87 L500.5,87 L501,87 L501.5,87 L502,87 L502.5,87 L503,87 L503.5,87 L504,87 L504.5,87 L505,87 L505.5,87 L506,87 L506.5,87 L507,87 L507.5,87 L508,87 L508.5,87 L509,87 L509.5,87 L510,87 L510.5,87 L511,87 L511.5,87 L512,87 L512,87 Z" fill="#d6dcc2" stroke="#b9c0a0" stroke-width="0.5" stroke-linejoin="round"/>
<path d="M455,87 L455,87 L455.5,87 L456,87 L456.5,87 L457,87 L457.5,87 L458,86.99 L458.5,86.98 L459,86.95 L459.5,86.9 L460,86.79 L460.5,86.6 L461,86.26 L461.5,85.7 L462,84.83 L462.5,83.53 L463,81.71 L463.5,79.32 L464,76.36 L464.5,72.94 L465,69.28 L465.5,65.69 L466,62.56 L466.5,60.27 L467,59.11 L467.5,59.19 L468,60.29 L468.5,62.29 L469,64.97 L469.5,68.07 L470,71.32 L470.5,74.49 L471,77.38 L471.5,79.87 L472,81.91 L472.5,83.49 L473,84.67 L473.5,85.51 L474,86.08 L474.5,86.46 L475,86.69 L475.5,86.83 L476,86.91 L476.5,86.95 L477,86.98 L477.5,86.99 L478,86.99 L478.5,87 L479,87 L479.5,87 L480,87 L480.5,87 L481,87 L481.5,87 L482,87 L482.5,87 L483,87 L483.5,87 L484,87 L484.5,87 L485,87 L485.5,87 L486,87 L486.5,87 L487,87 L487.5,87 L488,87 L488.5,87 L489,87 L489.5,87 L490,87 L490.5,87 L491,87 L491.5,87 L492,87 L492.5,87 L493,87 L493.5,87 L494,87 L494.5,87 L495,87 L495.5,87 L496,87 L496.5,87 L497,87 L497.5,87 L498,87 L498.5,87 L499,87 L499.5,87 L500,87 L500.5,87 L501,87 L501.5,87 L502,87 L502.5,87 L503,87 L503.5,87 L504,87 L504.5,87 L505,87 L505.5,87 L506,87 L506.5,87 L507,87 L507.5,87 L508,87 L508.5,87 L509,87 L509.5,87 L510,87 L510.5,87 L511,87 L511.5,87 L512,87" fill="none" stroke="#222" stroke-width="0.7" stroke-linejoin="round" stroke-dasharray="0.8,0.8"/>
<path d="M455,118 L455,118 L455.5,118 L456,117.99 L456.5,117.98 L457,117.97 L457.5,117.94 L458,117.9 L458.5,117.83 L459,117.72 L459.5,117.54 L460,117.26 L460.5,116.86 L461,116.28 L461.5,115.48 L462,114.42 L462.5,113.04 L463,111.33 L463.5,109.27 L464,106.88 L464.5,104.22 L465,101.41 L465.5,98.56 L466,95.85 L466.5,93.45 L467,91.54 L467.5,90.26 L468,89.72 L468.5,89.81 L469,90.26 L469.5,91.04 L470,92.11 L470.5,93.45 L471,95.01 L471.5,96.73 L472,98.56 L472.5,100.45 L473,102.36 L473.5,104.22 L474,106.02 L474.5,107.71 L475,109.27 L475.5,110.68 L476,111.94 L476.5,113.04 L477,114 L477.5,114.81 L478,115.48 L478.5,116.04 L479,116.49 L479.5,116.86 L480,117.14 L480.5,117.36 L481,117.54 L481.5,117.66 L482,117.76 L482.5,117.83 L483,117.88 L483.5,117.92 L484,117.94 L484.5,117.96 L485,117.98 L485.5,117.98 L486,117.99 L486.5,117.99 L487,118 L487.5,118 L488,118 L488.5,118 L489,118 L489.5,118 L490,118 L490.5,118 L491,118 L491.5,118 L492,118 L492.5,118 L493,118 L493.5,118 L494,118 L494.5,118 L495,118 L495.5,118 L496,118 L496.5,118 L497,118 L497.5,118 L498,118 L498.5,118 L499,118 L499.5,118 L500,118 L500.5,118 L501,118 L501.5,118 L502,118 L502.5,118 L503,118 L503.5,118 L504,118 L504.5,118 L505,118 L505.5,118 L506,118 L506.5,118 L507,118 L507.5,118 L508,118 L508.5,118 L509,118 L509.5,118 L510,118 L510.5,118 L511,118 L511.5,118 L512,118 L512,118 Z" fill="#fad98a" stroke="#f0be2a" stroke-width="0.9" stroke-linejoin="round"/>
<path d="M455,118 L455,118 L455.5,118 L456,118 L456.5,118 L457,118 L457.5,117.99 L458,117.98 L458.5,117.97 L459,117.93 L459.5,117.86 L460,117.73 L460.5,117.5 L461,117.12 L461.5,116.52 L462,115.6 L462.5,114.28 L463,112.48 L463.5,110.15 L464,107.31 L464.5,104.08 L465,100.63 L465.5,97.24 L466,94.25 L466.5,91.99 L467,90.71 L467.5,90.57 L468,91.35 L468.5,92.91 L469,95.13 L469.5,97.8 L470,100.72 L470.5,103.69 L471,106.51 L471.5,109.07 L472,111.28 L472.5,113.1 L473,114.54 L473.5,115.63 L474,116.43 L474.5,116.99 L475,117.37 L475.5,117.62 L476,117.78 L476.5,117.88 L477,117.93 L477.5,117.96 L478,117.98 L478.5,117.99 L479,118 L479.5,118 L480,118 L480.5,118 L481,118 L481.5,118 L482,118 L482.5,118 L483,118 L483.5,118 L484,118 L484.5,118 L485,118 L485.5,118 L486,118 L486.5,118 L487,118 L487.5,118 L488,118 L488.5,118 L489,118 L489.5,118 L490,118 L490.5,118 L491,118 L491.5,118 L492,118 L492.5,118 L493,118 L493.5,118 L494,118 L494.5,118 L495,118 L495.5,118 L496,118 L496.5,118 L497,118 L497.5,118 L498,118 L498.5,118 L499,118 L499.5,118 L500,118 L500.5,118 L501,118 L501.5,118 L502,118 L502.5,118 L503,118 L503.5,118 L504,118 L504.5,118 L505,118 L505.5,118 L506,118 L506.5,118 L507,118 L507.5,118 L508,118 L508.5,118 L509,118 L509.5,118 L510,118 L510.5,118 L511,118 L511.5,118 L512,118" fill="none" stroke="#222" stroke-width="0.7" stroke-linejoin="round" stroke-dasharray="0.8,0.8"/>
<line x1="393.6" y1="54.25" x2="451.5" y2="54.25" stroke="#555" stroke-width="0.8" stroke-dasharray="1,1"/>
<line x1="393.6" y1="87" x2="451.5" y2="87" stroke="#555" stroke-width="0.8" stroke-dasharray="1,1"/>
<rect x="393.5" y="22.5" width="58" height="96" fill="none" stroke="#262626" stroke-width="1.15" />
<line x1="454.5" y1="54.25" x2="512.5" y2="54.25" stroke="#555" stroke-width="0.8" stroke-dasharray="1,1"/>
<line x1="454.5" y1="87" x2="512.5" y2="87" stroke="#555" stroke-width="0.8" stroke-dasharray="1,1"/>
<rect x="454.5" y="22.5" width="58" height="96" fill="none" stroke="#262626" stroke-width="1.15" />
<text x="443.3" y="41.9" font-size="6.6" text-anchor="middle" fill="#1e1e1e" stroke="#1e1e1e" stroke-width="0.15">77</text>
<text x="441" y="74.6" font-size="6.6" text-anchor="middle" fill="#1e1e1e" stroke="#1e1e1e" stroke-width="0.15">204</text>
<text x="441" y="105" font-size="6.6" text-anchor="middle" fill="#1e1e1e" stroke="#1e1e1e" stroke-width="0.15">617</text>
<text x="501.2" y="40.6" font-size="6.6" text-anchor="middle" fill="#1e1e1e" stroke="#1e1e1e" stroke-width="0.15">270</text>
<text x="501.2" y="73" font-size="6.6" text-anchor="middle" fill="#1e1e1e" stroke="#1e1e1e" stroke-width="0.15">435</text>
<text x="501.2" y="103.2" font-size="6.6" text-anchor="middle" fill="#1e1e1e" stroke="#1e1e1e" stroke-width="0.15">250</text>
<rect x="400" y="118.3" width="4.5" height="1.6" fill="#111"/>
<line x1="405.5" y1="118" x2="405.5" y2="120" stroke="#222" stroke-width="0.7" />
<line x1="419.3" y1="118" x2="419.3" y2="120" stroke="#222" stroke-width="0.7" />
<line x1="432.5" y1="118" x2="432.5" y2="120" stroke="#222" stroke-width="0.7" />
<line x1="445.5" y1="118" x2="445.5" y2="120" stroke="#222" stroke-width="0.7" />
<line x1="409.65" y1="118" x2="409.65" y2="119.1" stroke="#222" stroke-width="0.5" />
<line x1="412.08" y1="118" x2="412.08" y2="119.1" stroke="#222" stroke-width="0.5" />
<line x1="413.81" y1="118" x2="413.81" y2="119.1" stroke="#222" stroke-width="0.5" />
<line x1="415.15" y1="118" x2="415.15" y2="119.1" stroke="#222" stroke-width="0.5" />
<line x1="416.24" y1="118" x2="416.24" y2="119.1" stroke="#222" stroke-width="0.5" />
<line x1="417.16" y1="118" x2="417.16" y2="119.1" stroke="#222" stroke-width="0.5" />
<line x1="417.96" y1="118" x2="417.96" y2="119.1" stroke="#222" stroke-width="0.5" />
<line x1="418.67" y1="118" x2="418.67" y2="119.1" stroke="#222" stroke-width="0.5" />
<line x1="423.27" y1="118" x2="423.27" y2="119.1" stroke="#222" stroke-width="0.5" />
<line x1="425.6" y1="118" x2="425.6" y2="119.1" stroke="#222" stroke-width="0.5" />
<line x1="427.25" y1="118" x2="427.25" y2="119.1" stroke="#222" stroke-width="0.5" />
<line x1="428.53" y1="118" x2="428.53" y2="119.1" stroke="#222" stroke-width="0.5" />
<line x1="429.57" y1="118" x2="429.57" y2="119.1" stroke="#222" stroke-width="0.5" />
<line x1="430.46" y1="118" x2="430.46" y2="119.1" stroke="#222" stroke-width="0.5" />
<line x1="431.22" y1="118" x2="431.22" y2="119.1" stroke="#222" stroke-width="0.5" />
<line x1="431.9" y1="118" x2="431.9" y2="119.1" stroke="#222" stroke-width="0.5" />
<line x1="436.41" y1="118" x2="436.41" y2="119.1" stroke="#222" stroke-width="0.5" />
<line x1="438.7" y1="118" x2="438.7" y2="119.1" stroke="#222" stroke-width="0.5" />
<line x1="440.33" y1="118" x2="440.33" y2="119.1" stroke="#222" stroke-width="0.5" />
<line x1="441.59" y1="118" x2="441.59" y2="119.1" stroke="#222" stroke-width="0.5" />
<line x1="442.62" y1="118" x2="442.62" y2="119.1" stroke="#222" stroke-width="0.5" />
<line x1="443.49" y1="118" x2="443.49" y2="119.1" stroke="#222" stroke-width="0.5" />
<line x1="444.24" y1="118" x2="444.24" y2="119.1" stroke="#222" stroke-width="0.5" />
<line x1="444.91" y1="118" x2="444.91" y2="119.1" stroke="#222" stroke-width="0.5" />
<text x="405.5" y="130.2" font-size="6" text-anchor="middle" fill="#1e1e1e" stroke="#1e1e1e" stroke-width="0.15">0</text>
<text x="419.3" y="130.2" font-size="6" text-anchor="middle" fill="#1e1e1e" stroke="#1e1e1e" stroke-width="0.15">10<tspan font-size="3.72" dy="-2.2">3</tspan></text>
<text x="432.5" y="130.2" font-size="6" text-anchor="middle" fill="#1e1e1e" stroke="#1e1e1e" stroke-width="0.15">10<tspan font-size="3.72" dy="-2.2">4</tspan></text>
<text x="445.5" y="130.2" font-size="6" text-anchor="middle" fill="#1e1e1e" stroke="#1e1e1e" stroke-width="0.15">10<tspan font-size="3.72" dy="-2.2">5</tspan></text>
<rect x="460.8" y="118.3" width="4.5" height="1.6" fill="#111"/>
<line x1="466.3" y1="118" x2="466.3" y2="120" stroke="#222" stroke-width="0.7" />
<line x1="480" y1="118" x2="480" y2="120" stroke="#222" stroke-width="0.7" />
<line x1="493" y1="118" x2="493" y2="120" stroke="#222" stroke-width="0.7" />
<line x1="506" y1="118" x2="506" y2="120" stroke="#222" stroke-width="0.7" />
<line x1="470.42" y1="118" x2="470.42" y2="119.1" stroke="#222" stroke-width="0.5" />
<line x1="472.84" y1="118" x2="472.84" y2="119.1" stroke="#222" stroke-width="0.5" />
<line x1="474.55" y1="118" x2="474.55" y2="119.1" stroke="#222" stroke-width="0.5" />
<line x1="475.88" y1="118" x2="475.88" y2="119.1" stroke="#222" stroke-width="0.5" />
<line x1="476.96" y1="118" x2="476.96" y2="119.1" stroke="#222" stroke-width="0.5" />
<line x1="477.88" y1="118" x2="477.88" y2="119.1" stroke="#222" stroke-width="0.5" />
<line x1="478.67" y1="118" x2="478.67" y2="119.1" stroke="#222" stroke-width="0.5" />
<line x1="479.37" y1="118" x2="479.37" y2="119.1" stroke="#222" stroke-width="0.5" />
<line x1="483.91" y1="118" x2="483.91" y2="119.1" stroke="#222" stroke-width="0.5" />
<line x1="486.2" y1="118" x2="486.2" y2="119.1" stroke="#222" stroke-width="0.5" />
<line x1="487.83" y1="118" x2="487.83" y2="119.1" stroke="#222" stroke-width="0.5" />
<line x1="489.09" y1="118" x2="489.09" y2="119.1" stroke="#222" stroke-width="0.5" />
<line x1="490.12" y1="118" x2="490.12" y2="119.1" stroke="#222" stroke-width="0.5" />
<line x1="490.99" y1="118" x2="490.99" y2="119.1" stroke="#222" stroke-width="0.5" />
<line x1="491.74" y1="118" x2="491.74" y2="119.1" stroke="#222" stroke-width="0.5" />
<line x1="492.41" y1="118" x2="492.41" y2="119.1" stroke="#222" stroke-width="0.5" />
<line x1="496.91" y1="118" x2="496.91" y2="119.1" stroke="#222" stroke-width="0.5" />
<line x1="499.2" y1="118" x2="499.2" y2="119.1" stroke="#222" stroke-width="0.5" />
<line x1="500.83" y1="118" x2="500.83" y2="119.1" stroke="#222" stroke-width="0.5" />
<line x1="502.09" y1="118" x2="502.09" y2="119.1" stroke="#222" stroke-width="0.5" />
<line x1="503.12" y1="118" x2="503.12" y2="119.1" stroke="#222" stroke-width="0.5" />
<line x1="503.99" y1="118" x2="503.99" y2="119.1" stroke="#222" stroke-width="0.5" />
<line x1="504.74" y1="118" x2="504.74" y2="119.1" stroke="#222" stroke-width="0.5" />
<line x1="505.41" y1="118" x2="505.41" y2="119.1" stroke="#222" stroke-width="0.5" />
<text x="466.3" y="130.2" font-size="6" text-anchor="middle" fill="#1e1e1e" stroke="#1e1e1e" stroke-width="0.15">0</text>
<text x="480" y="130.2" font-size="6" text-anchor="middle" fill="#1e1e1e" stroke="#1e1e1e" stroke-width="0.15">10<tspan font-size="3.72" dy="-2.2">3</tspan></text>
<text x="493" y="130.2" font-size="6" text-anchor="middle" fill="#1e1e1e" stroke="#1e1e1e" stroke-width="0.15">10<tspan font-size="3.72" dy="-2.2">4</tspan></text>
<text x="506" y="130.2" font-size="6" text-anchor="middle" fill="#1e1e1e" stroke="#1e1e1e" stroke-width="0.15">10<tspan font-size="3.72" dy="-2.2">5</tspan></text>
<text x="422.6" y="141.7" font-size="8.3" text-anchor="middle" fill="#1e1e1e" stroke="#1e1e1e" stroke-width="0.15" textLength="20.2" lengthAdjust="spacingAndGlyphs">CD116</text>
<text x="423" y="151.3" font-size="7.6" text-anchor="middle" fill="#1e1e1e" stroke="#1e1e1e" stroke-width="0.15" textLength="38.3" lengthAdjust="spacingAndGlyphs">(GM-CSFRα)</text>
<text x="482.5" y="141.7" font-size="8.3" text-anchor="middle" fill="#1e1e1e" stroke="#1e1e1e" stroke-width="0.15" textLength="20" lengthAdjust="spacingAndGlyphs">CD131</text>
<text x="483.4" y="151.3" font-size="7.6" text-anchor="middle" fill="#1e1e1e" stroke="#1e1e1e" stroke-width="0.15" textLength="55.7" lengthAdjust="spacingAndGlyphs">(common β chain)</text>
<rect x="421.9" y="216.8" width="5.4" height="5.4" fill="#f5c48c" stroke="none" stroke-width="1" />
<rect x="428.6" y="208.7" width="5.4" height="13.5" fill="#d6dcc2" stroke="none" stroke-width="1" />
<rect x="434" y="182.2" width="4.7" height="40" fill="#fad98a" stroke="none" stroke-width="1" />
<rect x="444.8" y="204.7" width="5.4" height="17.5" fill="#f5c48c" stroke="none" stroke-width="1" />
<rect x="450.9" y="194.3" width="5.3" height="27.9" fill="#d6dcc2" stroke="none" stroke-width="1" />
<rect x="456.9" y="205.4" width="5" height="16.8" fill="#fad98a" stroke="none" stroke-width="1" />
<line x1="419" y1="222.5" x2="463" y2="222.5" stroke="#222" stroke-width="1.15" />
<line x1="419.5" y1="169.7" x2="419.5" y2="223" stroke="#222" stroke-width="1.15" />
<line x1="416.8" y1="222.2" x2="419" y2="222.2" stroke="#222" stroke-width="0.9" />
<line x1="416.8" y1="209.6" x2="419" y2="209.6" stroke="#222" stroke-width="0.9" />
<line x1="416.8" y1="197" x2="419" y2="197" stroke="#222" stroke-width="0.9" />
<line x1="416.8" y1="184.4" x2="419" y2="184.4" stroke="#222" stroke-width="0.9" />
<line x1="416.8" y1="171.8" x2="419" y2="171.8" stroke="#222" stroke-width="0.9" />
<text x="413.4" y="224.35" font-size="6.6" text-anchor="end" fill="#1e1e1e" stroke="#1e1e1e" stroke-width="0.15">0</text>
<text x="413.4" y="199.15" font-size="6.6" text-anchor="end" fill="#1e1e1e" stroke="#1e1e1e" stroke-width="0.15">4</text>
<text x="413.4" y="173.95" font-size="6.6" text-anchor="end" fill="#1e1e1e" stroke="#1e1e1e" stroke-width="0.15">8</text>
<text x="401.2" y="195.2" font-size="7.3" text-anchor="middle" fill="#1e1e1e" stroke="#1e1e1e" stroke-width="0.15" textLength="28" lengthAdjust="spacingAndGlyphs" transform="rotate(-90 401.2 195.2)" dominant-baseline="central">MFI x 10<tspan font-size="4.2" dy="-2.4">2</tspan></text>
<line x1="430.7" y1="222.2" x2="430.7" y2="224.4" stroke="#222" stroke-width="0.9" />
<line x1="453.5" y1="222.2" x2="453.5" y2="224.4" stroke="#222" stroke-width="0.9" />
<line x1="422.8" y1="216.2" x2="426.4" y2="216.2" stroke="#222" stroke-width="1.1" />
<line x1="429.5" y1="208" x2="433.1" y2="208" stroke="#222" stroke-width="1.1" />
<line x1="434.55" y1="181.8" x2="438.15" y2="181.8" stroke="#222" stroke-width="1.1" />
<line x1="445.7" y1="204.2" x2="449.3" y2="204.2" stroke="#222" stroke-width="1.1" />
<line x1="451.75" y1="193.8" x2="455.35" y2="193.8" stroke="#222" stroke-width="1.1" />
<line x1="457.6" y1="205" x2="461.2" y2="205" stroke="#222" stroke-width="1.1" />
<text x="430" y="233.8" font-size="7" text-anchor="middle" fill="#1e1e1e" stroke="#1e1e1e" stroke-width="0.15" textLength="18.8" lengthAdjust="spacingAndGlyphs">CD116</text>
<text x="453" y="233.8" font-size="7" text-anchor="middle" fill="#1e1e1e" stroke="#1e1e1e" stroke-width="0.15" textLength="18.6" lengthAdjust="spacingAndGlyphs">CD131</text>
<rect x="471.3" y="172.8" width="5.8" height="5.6" fill="#fff" stroke="#666" stroke-width="0.6" />
<rect x="471" y="182.3" width="6.3" height="6.3" fill="#f5c48c" stroke="none" stroke-width="1" />
<rect x="471" y="192" width="6.3" height="6.3" fill="#d6dcc2" stroke="none" stroke-width="1" />
<rect x="471" y="209.4" width="6.3" height="6.3" fill="#fad98a" stroke="none" stroke-width="1" />
<text x="480.2" y="178.4" font-size="6.2" text-anchor="start" fill="#1e1e1e" stroke="#1e1e1e" stroke-width="0.15">i.c.</text>
<text x="480.2" y="188.2" font-size="6.3" text-anchor="start" fill="#1e1e1e" stroke="#1e1e1e" stroke-width="0.15" textLength="11.8" lengthAdjust="spacingAndGlyphs">LKS<tspan font-size="4.6" dy="-2.9">+</tspan></text>
<text x="480.2" y="197.8" font-size="6.4" text-anchor="start" fill="#1e1e1e" stroke="#1e1e1e" stroke-width="0.15" textLength="32.8" lengthAdjust="spacingAndGlyphs">LKS<tspan font-size="4.4" dy="-3.4">–</tspan><tspan dy="3.4"> </tspan>CD34<tspan font-size="4.6" dy="-2.9">+</tspan></text>
<text x="480.2" y="205.2" font-size="6.2" text-anchor="start" fill="#1e1e1e" stroke="#1e1e1e" stroke-width="0.15">FcγR<tspan font-size="4.6" dy="-2.9">+</tspan></text>
<text x="480.2" y="215" font-size="6.2" text-anchor="start" fill="#1e1e1e" stroke="#1e1e1e" stroke-width="0.15">Ly6C<tspan font-size="4.2" dy="-2.6">hi</tspan></text>
<text x="480.2" y="223" font-size="6.2" text-anchor="start" fill="#1e1e1e" stroke="#1e1e1e" stroke-width="0.15" textLength="30.3" lengthAdjust="spacingAndGlyphs">monocytes</text>
<text x="30.3" y="185.8" font-size="8.8" text-anchor="middle" fill="#1e1e1e" stroke="#1e1e1e" stroke-width="0.15" textLength="17.4" lengthAdjust="spacingAndGlyphs">LKS<tspan font-size="4.6" dy="-2.9">+</tspan></text>
<text x="81" y="175.3" font-size="8.8" text-anchor="middle" fill="#1e1e1e" stroke="#1e1e1e" stroke-width="0.15" textLength="18" lengthAdjust="spacingAndGlyphs">LKS<tspan font-size="7.2" dy="-3">–</tspan></text>
<text x="80.5" y="185.9" font-size="8.8" text-anchor="middle" fill="#1e1e1e" stroke="#1e1e1e" stroke-width="0.15" textLength="49.4" lengthAdjust="spacingAndGlyphs">CD34<tspan font-size="5.2" dy="-2.6">+</tspan><tspan dy="2.6"> </tspan>FcγR<tspan font-size="4.6" dy="-2.9">+</tspan></text>
<text x="216.6" y="185.7" font-size="8.8" text-anchor="middle" fill="#1e1e1e" stroke="#1e1e1e" stroke-width="0.15" textLength="17.4" lengthAdjust="spacingAndGlyphs">LKS<tspan font-size="4.6" dy="-2.9">+</tspan></text>
<text x="267.6" y="175.3" font-size="8.8" text-anchor="middle" fill="#1e1e1e" stroke="#1e1e1e" stroke-width="0.15" textLength="18" lengthAdjust="spacingAndGlyphs">LKS<tspan font-size="7.2" dy="-3">–</tspan></text>
<text x="267" y="185.9" font-size="8.8" text-anchor="middle" fill="#1e1e1e" stroke="#1e1e1e" stroke-width="0.15" textLength="48.6" lengthAdjust="spacingAndGlyphs">CD34<tspan font-size="5.2" dy="-2.6">+</tspan><tspan dy="2.6"> </tspan>FcγR<tspan font-size="4.6" dy="-2.9">+</tspan></text>
<path d="M7.5,218.75 L7.5,218.75 L8,218.75 L8.5,218.75 L9,218.75 L9.5,218.75 L10,218.75 L10.5,218.75 L11,218.75 L11.5,218.75 L12,218.75 L12.5,218.75 L13,218.74 L13.5,218.72 L14,218.65 L14.5,218.44 L15,217.92 L15.5,216.8 L16,214.71 L16.5,211.38 L17,206.91 L17.5,201.99 L18,197.82 L18.5,195.66 L19,195.72 L19.5,197.04 L20,199.32 L20.5,202.16 L21,205.15 L21.5,207.98 L22,210.45 L22.5,212.41 L23,213.84 L23.5,214.83 L24,215.51 L24.5,215.99 L25,216.35 L25.5,216.65 L26,216.91 L26.5,217.15 L27,217.37 L27.5,217.58 L28,217.78 L28.5,217.95 L29,218.1 L29.5,218.23 L30,218.34 L30.5,218.44 L31,218.51 L31.5,218.57 L32,218.62 L32.5,218.65 L33,218.68 L33.5,218.7 L34,218.72 L34.5,218.73 L35,218.73 L35.5,218.74 L36,218.74 L36.5,218.75 L37,218.75 L37.5,218.75 L38,218.75 L38.5,218.75 L39,218.75 L39.5,218.75 L40,218.75 L40.5,218.75 L41,218.75 L41.5,218.75 L42,218.75 L42.5,218.75 L43,218.75 L43.5,218.75 L44,218.75 L44.5,218.75 L45,218.75 L45.5,218.75 L46,218.75 L46.5,218.75 L47,218.75 L47.5,218.75 L48,218.75 L48.5,218.75 L49,218.75 L49.5,218.75 L50,218.75 L50.5,218.75 L51,218.75 L51.5,218.75 L52,218.75 L52.5,218.75 L53,218.75 L53.5,218.75 L53.5,218.75 Z" fill="#f6ca96" stroke="#6e5334" stroke-width="0.8" stroke-linejoin="round"/>
<path d="M7.5,245.2 L7.5,245.2 L8,245.2 L8.5,245.2 L9,245.2 L9.5,245.2 L10,245.2 L10.5,245.2 L11,245.2 L11.5,245.2 L12,245.2 L12.5,245.2 L13,245.19 L13.5,245.17 L14,245.1 L14.5,244.9 L15,244.41 L15.5,243.34 L16,241.34 L16.5,238.16 L17,233.9 L17.5,229.19 L18,225.19 L18.5,223.08 L19,223.04 L19.5,224.15 L20,226.08 L20.5,228.48 L21,230.96 L21.5,233.27 L22,235.29 L22.5,236.99 L23,238.33 L23.5,239.28 L24,239.98 L24.5,240.51 L25,240.96 L25.5,241.37 L26,241.77 L26.5,242.16 L27,242.54 L27.5,242.91 L28,243.26 L28.5,243.58 L29,243.86 L29.5,244.12 L30,244.34 L30.5,244.52 L31,244.68 L31.5,244.8 L32,244.9 L32.5,244.98 L33,245.04 L33.5,245.09 L34,245.12 L34.5,245.14 L35,245.16 L35.5,245.17 L36,245.18 L36.5,245.19 L37,245.19 L37.5,245.2 L38,245.2 L38.5,245.2 L39,245.2 L39.5,245.2 L40,245.2 L40.5,245.2 L41,245.2 L41.5,245.2 L42,245.2 L42.5,245.2 L43,245.2 L43.5,245.2 L44,245.2 L44.5,245.2 L45,245.2 L45.5,245.2 L46,245.2 L46.5,245.2 L47,245.2 L47.5,245.2 L48,245.2 L48.5,245.2 L49,245.2 L49.5,245.2 L50,245.2 L50.5,245.2 L51,245.2 L51.5,245.2 L52,245.2 L52.5,245.2 L53,245.2 L53.5,245.2 L53.5,245.2 Z" fill="#f6ca96" stroke="#6e5334" stroke-width="0.8" stroke-linejoin="round"/>
<line x1="7" y1="218.75" x2="54.2" y2="218.75" stroke="#6a6a6a" stroke-width="0.9" />
<rect x="7.5" y="190.5" width="47" height="55" fill="none" stroke="#262626" stroke-width="1.15" />
<text x="51.5" y="200" font-size="6.5" text-anchor="end" fill="#1e1e1e" stroke="#1e1e1e" stroke-width="0.15">10′</text>
<text x="51.5" y="227.5" font-size="6.5" text-anchor="end" fill="#1e1e1e" stroke="#1e1e1e" stroke-width="0.15">30′</text>
<path d="M57.1,218.75 L57.1,218.75 L57.6,218.75 L58.1,218.75 L58.6,218.75 L59.1,218.75 L59.6,218.75 L60.1,218.75 L60.6,218.75 L61.1,218.75 L61.6,218.75 L62.1,218.75 L62.6,218.75 L63.1,218.74 L63.6,218.73 L64.1,218.71 L64.6,218.64 L65.1,218.51 L65.6,218.23 L66.1,217.72 L66.6,216.84 L67.1,215.44 L67.6,213.41 L68.1,210.71 L68.6,207.44 L69.1,203.91 L69.6,200.55 L70.1,197.89 L70.6,196.4 L71.1,196.2 L71.6,196.79 L72.1,198.06 L72.6,199.87 L73.1,202.07 L73.6,204.47 L74.1,206.92 L74.6,209.23 L75.1,211.28 L75.6,213.01 L76.1,214.43 L76.6,215.55 L77.1,216.41 L77.6,217.06 L78.1,217.54 L78.6,217.89 L79.1,218.14 L79.6,218.33 L80.1,218.46 L80.6,218.55 L81.1,218.62 L81.6,218.67 L82.1,218.7 L82.6,218.72 L83.1,218.73 L83.6,218.74 L84.1,218.74 L84.6,218.75 L85.1,218.75 L85.6,218.75 L86.1,218.75 L86.6,218.75 L87.1,218.75 L87.6,218.75 L88.1,218.75 L88.6,218.75 L89.1,218.75 L89.6,218.75 L90.1,218.75 L90.6,218.75 L91.1,218.75 L91.6,218.75 L92.1,218.75 L92.6,218.75 L93.1,218.75 L93.6,218.75 L94.1,218.75 L94.6,218.75 L95.1,218.75 L95.6,218.75 L96.1,218.75 L96.6,218.75 L97.1,218.75 L97.6,218.75 L98.1,218.75 L98.6,218.75 L99.1,218.75 L99.6,218.75 L100.1,218.75 L100.6,218.75 L101.1,218.75 L101.6,218.75 L102.1,218.75 L102.6,218.75 L103.1,218.75 L103.6,218.75 L103.6,218.75 Z" fill="#d6dcc2" stroke="#b9c0a0" stroke-width="0.5" stroke-linejoin="round"/>
<path d="M57.1,218.75 L57.1,218.75 L57.6,218.75 L58.1,218.75 L58.6,218.75 L59.1,218.75 L59.6,218.75 L60.1,218.75 L60.6,218.75 L61.1,218.75 L61.6,218.75 L62.1,218.75 L62.6,218.75 L63.1,218.75 L63.6,218.74 L64.1,218.73 L64.6,218.69 L65.1,218.6 L65.6,218.4 L66.1,218.01 L66.6,217.27 L67.1,216.03 L67.6,214.12 L68.1,211.45 L68.6,208.09 L69.1,204.35 L69.6,200.73 L70.1,197.89 L70.6,196.39 L71.1,196.44 L71.6,197.57 L72.1,199.57 L72.6,202.19 L73.1,205.1 L73.6,208.03 L74.1,210.71 L74.6,213 L75.1,214.83 L75.6,216.2 L76.1,217.17 L76.6,217.81 L77.1,218.22 L77.6,218.47 L78.1,218.6 L78.6,218.68 L79.1,218.72 L79.6,218.74 L80.1,218.74 L80.6,218.75 L81.1,218.75 L81.6,218.75 L82.1,218.75 L82.6,218.75 L83.1,218.75 L83.6,218.75 L84.1,218.75 L84.6,218.75 L85.1,218.75 L85.6,218.75 L86.1,218.75 L86.6,218.75 L87.1,218.75 L87.6,218.75 L88.1,218.75 L88.6,218.75 L89.1,218.75 L89.6,218.75 L90.1,218.75 L90.6,218.75 L91.1,218.75 L91.6,218.75 L92.1,218.75 L92.6,218.75 L93.1,218.75 L93.6,218.75 L94.1,218.75 L94.6,218.75 L95.1,218.75 L95.6,218.75 L96.1,218.75 L96.6,218.75 L97.1,218.75 L97.6,218.75 L98.1,218.75 L98.6,218.75 L99.1,218.75 L99.6,218.75 L100.1,218.75 L100.6,218.75 L101.1,218.75 L101.6,218.75 L102.1,218.75 L102.6,218.75 L103.1,218.75 L103.6,218.75" fill="none" stroke="#3a3a3a" stroke-width="0.8" stroke-linejoin="round"/>
<path d="M57.1,245.2 L57.1,245.2 L57.6,245.2 L58.1,245.2 L58.6,245.2 L59.1,245.2 L59.6,245.2 L60.1,245.2 L60.6,245.2 L61.1,245.2 L61.6,245.2 L62.1,245.2 L62.6,245.2 L63.1,245.19 L63.6,245.18 L64.1,245.16 L64.6,245.1 L65.1,244.96 L65.6,244.7 L66.1,244.2 L66.6,243.35 L67.1,242.01 L67.6,240.05 L68.1,237.44 L68.6,234.28 L69.1,230.85 L69.6,227.57 L70.1,224.94 L70.6,223.39 L71.1,223.04 L71.6,223.39 L72.1,224.3 L72.6,225.6 L73.1,227.13 L73.6,228.71 L74.1,230.17 L74.6,231.45 L75.1,232.49 L75.6,233.31 L76.1,233.97 L76.6,234.54 L77.1,235.09 L77.6,235.64 L78.1,236.23 L78.6,236.86 L79.1,237.55 L79.6,238.3 L80.1,239.09 L80.6,239.88 L81.1,240.66 L81.6,241.4 L82.1,242.09 L82.6,242.7 L83.1,243.23 L83.6,243.68 L84.1,244.05 L84.6,244.35 L85.1,244.58 L85.6,244.76 L86.1,244.89 L86.6,244.99 L87.1,245.06 L87.6,245.11 L88.1,245.14 L88.6,245.16 L89.1,245.18 L89.6,245.19 L90.1,245.19 L90.6,245.2 L91.1,245.2 L91.6,245.2 L92.1,245.2 L92.6,245.2 L93.1,245.2 L93.6,245.2 L94.1,245.2 L94.6,245.2 L95.1,245.2 L95.6,245.2 L96.1,245.2 L96.6,245.2 L97.1,245.2 L97.6,245.2 L98.1,245.2 L98.6,245.2 L99.1,245.2 L99.6,245.2 L100.1,245.2 L100.6,245.2 L101.1,245.2 L101.6,245.2 L102.1,245.2 L102.6,245.2 L103.1,245.2 L103.6,245.2 L103.6,245.2 Z" fill="#d6dcc2" stroke="#b9c0a0" stroke-width="0.5" stroke-linejoin="round"/>
<path d="M57.1,245.2 L57.1,245.2 L57.6,245.2 L58.1,245.2 L58.6,245.2 L59.1,245.2 L59.6,245.2 L60.1,245.2 L60.6,245.2 L61.1,245.2 L61.6,245.2 L62.1,245.2 L62.6,245.2 L63.1,245.2 L63.6,245.19 L64.1,245.18 L64.6,245.14 L65.1,245.05 L65.6,244.86 L66.1,244.47 L66.6,243.75 L67.1,242.54 L67.6,240.67 L68.1,238.06 L68.6,234.78 L69.1,231.12 L69.6,227.58 L70.1,224.8 L70.6,223.34 L71.1,223.39 L71.6,224.49 L72.1,226.45 L72.6,229 L73.1,231.86 L73.6,234.71 L74.1,237.34 L74.6,239.58 L75.1,241.37 L75.6,242.71 L76.1,243.65 L76.6,244.28 L77.1,244.68 L77.6,244.92 L78.1,245.06 L78.6,245.13 L79.1,245.17 L79.6,245.19 L80.1,245.19 L80.6,245.2 L81.1,245.2 L81.6,245.2 L82.1,245.2 L82.6,245.2 L83.1,245.2 L83.6,245.2 L84.1,245.2 L84.6,245.2 L85.1,245.2 L85.6,245.2 L86.1,245.2 L86.6,245.2 L87.1,245.2 L87.6,245.2 L88.1,245.2 L88.6,245.2 L89.1,245.2 L89.6,245.2 L90.1,245.2 L90.6,245.2 L91.1,245.2 L91.6,245.2 L92.1,245.2 L92.6,245.2 L93.1,245.2 L93.6,245.2 L94.1,245.2 L94.6,245.2 L95.1,245.2 L95.6,245.2 L96.1,245.2 L96.6,245.2 L97.1,245.2 L97.6,245.2 L98.1,245.2 L98.6,245.2 L99.1,245.2 L99.6,245.2 L100.1,245.2 L100.6,245.2 L101.1,245.2 L101.6,245.2 L102.1,245.2 L102.6,245.2 L103.1,245.2 L103.6,245.2" fill="none" stroke="#3a3a3a" stroke-width="0.8" stroke-linejoin="round"/>
<line x1="56.6" y1="218.75" x2="104.4" y2="218.75" stroke="#6a6a6a" stroke-width="0.9" />
<rect x="56.5" y="190.5" width="48" height="55" fill="none" stroke="#262626" stroke-width="1.15" />
<text x="101.5" y="200" font-size="6.5" text-anchor="end" fill="#1e1e1e" stroke="#1e1e1e" stroke-width="0.15">10′</text>
<text x="101.5" y="227.5" font-size="6.5" text-anchor="end" fill="#1e1e1e" stroke="#1e1e1e" stroke-width="0.15">30′</text>
<rect x="12" y="245.5" width="4.5" height="1.6" fill="#111"/>
<line x1="17.5" y1="245.2" x2="17.5" y2="247.2" stroke="#222" stroke-width="0.7" />
<line x1="28" y1="245.2" x2="28" y2="247.2" stroke="#222" stroke-width="0.7" />
<line x1="39.2" y1="245.2" x2="39.2" y2="247.2" stroke="#222" stroke-width="0.7" />
<line x1="49.7" y1="245.2" x2="49.7" y2="247.2" stroke="#222" stroke-width="0.7" />
<line x1="20.66" y1="245.2" x2="20.66" y2="246.3" stroke="#222" stroke-width="0.5" />
<line x1="22.51" y1="245.2" x2="22.51" y2="246.3" stroke="#222" stroke-width="0.5" />
<line x1="23.82" y1="245.2" x2="23.82" y2="246.3" stroke="#222" stroke-width="0.5" />
<line x1="24.84" y1="245.2" x2="24.84" y2="246.3" stroke="#222" stroke-width="0.5" />
<line x1="25.67" y1="245.2" x2="25.67" y2="246.3" stroke="#222" stroke-width="0.5" />
<line x1="26.37" y1="245.2" x2="26.37" y2="246.3" stroke="#222" stroke-width="0.5" />
<line x1="26.98" y1="245.2" x2="26.98" y2="246.3" stroke="#222" stroke-width="0.5" />
<line x1="27.52" y1="245.2" x2="27.52" y2="246.3" stroke="#222" stroke-width="0.5" />
<line x1="31.37" y1="245.2" x2="31.37" y2="246.3" stroke="#222" stroke-width="0.5" />
<line x1="33.34" y1="245.2" x2="33.34" y2="246.3" stroke="#222" stroke-width="0.5" />
<line x1="34.74" y1="245.2" x2="34.74" y2="246.3" stroke="#222" stroke-width="0.5" />
<line x1="35.83" y1="245.2" x2="35.83" y2="246.3" stroke="#222" stroke-width="0.5" />
<line x1="36.72" y1="245.2" x2="36.72" y2="246.3" stroke="#222" stroke-width="0.5" />
<line x1="37.47" y1="245.2" x2="37.47" y2="246.3" stroke="#222" stroke-width="0.5" />
<line x1="38.11" y1="245.2" x2="38.11" y2="246.3" stroke="#222" stroke-width="0.5" />
<line x1="38.69" y1="245.2" x2="38.69" y2="246.3" stroke="#222" stroke-width="0.5" />
<line x1="42.36" y1="245.2" x2="42.36" y2="246.3" stroke="#222" stroke-width="0.5" />
<line x1="44.21" y1="245.2" x2="44.21" y2="246.3" stroke="#222" stroke-width="0.5" />
<line x1="45.52" y1="245.2" x2="45.52" y2="246.3" stroke="#222" stroke-width="0.5" />
<line x1="46.54" y1="245.2" x2="46.54" y2="246.3" stroke="#222" stroke-width="0.5" />
<line x1="47.37" y1="245.2" x2="47.37" y2="246.3" stroke="#222" stroke-width="0.5" />
<line x1="48.07" y1="245.2" x2="48.07" y2="246.3" stroke="#222" stroke-width="0.5" />
<line x1="48.68" y1="245.2" x2="48.68" y2="246.3" stroke="#222" stroke-width="0.5" />
<line x1="49.22" y1="245.2" x2="49.22" y2="246.3" stroke="#222" stroke-width="0.5" />
<text x="17.5" y="255.3" font-size="6" text-anchor="middle" fill="#1e1e1e" stroke="#1e1e1e" stroke-width="0.15">0</text>
<text x="28" y="255.3" font-size="6" text-anchor="middle" fill="#1e1e1e" stroke="#1e1e1e" stroke-width="0.15">10<tspan font-size="3.72" dy="-2.2">3</tspan></text>
<text x="39.2" y="255.3" font-size="6" text-anchor="middle" fill="#1e1e1e" stroke="#1e1e1e" stroke-width="0.15">10<tspan font-size="3.72" dy="-2.2">4</tspan></text>
<text x="49.7" y="255.3" font-size="6" text-anchor="middle" fill="#1e1e1e" stroke="#1e1e1e" stroke-width="0.15">10<tspan font-size="3.72" dy="-2.2">5</tspan></text>
<rect x="62.2" y="245.5" width="4.5" height="1.6" fill="#111"/>
<line x1="67.7" y1="245.2" x2="67.7" y2="247.2" stroke="#222" stroke-width="0.7" />
<line x1="74.9" y1="245.2" x2="74.9" y2="247.2" stroke="#222" stroke-width="0.7" />
<line x1="88.1" y1="245.2" x2="88.1" y2="247.2" stroke="#222" stroke-width="0.7" />
<line x1="99.7" y1="245.2" x2="99.7" y2="247.2" stroke="#222" stroke-width="0.7" />
<line x1="69.87" y1="245.2" x2="69.87" y2="246.3" stroke="#222" stroke-width="0.5" />
<line x1="71.14" y1="245.2" x2="71.14" y2="246.3" stroke="#222" stroke-width="0.5" />
<line x1="72.03" y1="245.2" x2="72.03" y2="246.3" stroke="#222" stroke-width="0.5" />
<line x1="72.73" y1="245.2" x2="72.73" y2="246.3" stroke="#222" stroke-width="0.5" />
<line x1="73.3" y1="245.2" x2="73.3" y2="246.3" stroke="#222" stroke-width="0.5" />
<line x1="73.78" y1="245.2" x2="73.78" y2="246.3" stroke="#222" stroke-width="0.5" />
<line x1="74.2" y1="245.2" x2="74.2" y2="246.3" stroke="#222" stroke-width="0.5" />
<line x1="74.57" y1="245.2" x2="74.57" y2="246.3" stroke="#222" stroke-width="0.5" />
<line x1="78.87" y1="245.2" x2="78.87" y2="246.3" stroke="#222" stroke-width="0.5" />
<line x1="81.2" y1="245.2" x2="81.2" y2="246.3" stroke="#222" stroke-width="0.5" />
<line x1="82.85" y1="245.2" x2="82.85" y2="246.3" stroke="#222" stroke-width="0.5" />
<line x1="84.13" y1="245.2" x2="84.13" y2="246.3" stroke="#222" stroke-width="0.5" />
<line x1="85.17" y1="245.2" x2="85.17" y2="246.3" stroke="#222" stroke-width="0.5" />
<line x1="86.06" y1="245.2" x2="86.06" y2="246.3" stroke="#222" stroke-width="0.5" />
<line x1="86.82" y1="245.2" x2="86.82" y2="246.3" stroke="#222" stroke-width="0.5" />
<line x1="87.5" y1="245.2" x2="87.5" y2="246.3" stroke="#222" stroke-width="0.5" />
<line x1="91.59" y1="245.2" x2="91.59" y2="246.3" stroke="#222" stroke-width="0.5" />
<line x1="93.63" y1="245.2" x2="93.63" y2="246.3" stroke="#222" stroke-width="0.5" />
<line x1="95.08" y1="245.2" x2="95.08" y2="246.3" stroke="#222" stroke-width="0.5" />
<line x1="96.21" y1="245.2" x2="96.21" y2="246.3" stroke="#222" stroke-width="0.5" />
<line x1="97.13" y1="245.2" x2="97.13" y2="246.3" stroke="#222" stroke-width="0.5" />
<line x1="97.9" y1="245.2" x2="97.9" y2="246.3" stroke="#222" stroke-width="0.5" />
<line x1="98.58" y1="245.2" x2="98.58" y2="246.3" stroke="#222" stroke-width="0.5" />
<line x1="99.17" y1="245.2" x2="99.17" y2="246.3" stroke="#222" stroke-width="0.5" />
<text x="67.7" y="255.3" font-size="6" text-anchor="middle" fill="#1e1e1e" stroke="#1e1e1e" stroke-width="0.15">0</text>
<text x="74.9" y="255.3" font-size="6" text-anchor="middle" fill="#1e1e1e" stroke="#1e1e1e" stroke-width="0.15">10<tspan font-size="3.72" dy="-2.2">3</tspan></text>
<text x="88.1" y="255.3" font-size="6" text-anchor="middle" fill="#1e1e1e" stroke="#1e1e1e" stroke-width="0.15">10<tspan font-size="3.72" dy="-2.2">4</tspan></text>
<text x="99.7" y="255.3" font-size="6" text-anchor="middle" fill="#1e1e1e" stroke="#1e1e1e" stroke-width="0.15">10<tspan font-size="3.72" dy="-2.2">5</tspan></text>
<text x="31.5" y="267.4" font-size="7.8" text-anchor="middle" fill="#1e1e1e" stroke="#1e1e1e" stroke-width="0.15" textLength="12.7" lengthAdjust="spacingAndGlyphs">pAkt</text>
<text x="81.5" y="267.4" font-size="7.8" text-anchor="middle" fill="#1e1e1e" stroke="#1e1e1e" stroke-width="0.15" textLength="12.7" lengthAdjust="spacingAndGlyphs">pAkt</text>
<path d="M193.9,217.3 L193.9,217.3 L194.4,217.3 L194.9,217.3 L195.4,217.3 L195.9,217.3 L196.4,217.3 L196.9,217.3 L197.4,217.3 L197.9,217.3 L198.4,217.3 L198.9,217.3 L199.4,217.3 L199.9,217.3 L200.4,217.3 L200.9,217.3 L201.4,217.29 L201.9,217.28 L202.4,217.27 L202.9,217.23 L203.4,217.15 L203.9,216.97 L204.4,216.54 L204.9,215.59 L205.4,213.71 L205.9,210.5 L206.4,205.89 L206.9,200.49 L207.4,195.64 L207.9,192.87 L208.4,192.73 L208.9,194.48 L209.4,197.53 L209.9,201.09 L210.4,204.49 L210.9,207.26 L211.4,209.2 L211.9,210.45 L212.4,211.24 L212.9,211.76 L213.4,212.16 L213.9,212.52 L214.4,212.87 L214.9,213.22 L215.4,213.59 L215.9,213.95 L216.4,214.31 L216.9,214.66 L217.4,214.98 L217.9,215.29 L218.4,215.58 L218.9,215.84 L219.4,216.07 L219.9,216.28 L220.4,216.46 L220.9,216.61 L221.4,216.74 L221.9,216.85 L222.4,216.95 L222.9,217.02 L223.4,217.08 L223.9,217.13 L224.4,217.17 L224.9,217.21 L225.4,217.23 L225.9,217.25 L226.4,217.26 L226.9,217.27 L227.4,217.28 L227.9,217.29 L228.4,217.29 L228.9,217.29 L229.4,217.3 L229.9,217.3 L230.4,217.3 L230.9,217.3 L231.4,217.3 L231.9,217.3 L232.4,217.3 L232.9,217.3 L233.4,217.3 L233.9,217.3 L234.4,217.3 L234.9,217.3 L235.4,217.3 L235.9,217.3 L236.4,217.3 L236.9,217.3 L237.4,217.3 L237.9,217.3 L238.4,217.3 L238.9,217.3 L239.4,217.3 L239.9,217.3 L240.4,217.3 L240.4,217.3 Z" fill="#f6ca96" stroke="#6e5334" stroke-width="0.8" stroke-linejoin="round"/>
<rect x="193.5" y="190.5" width="48" height="27" fill="none" stroke="#262626" stroke-width="1.15" />
<text x="238.3" y="199.4" font-size="6" text-anchor="end" fill="#1e1e1e" stroke="#1e1e1e" stroke-width="0.15">4h</text>
<path d="M244.1,217.2 L244.1,217.2 L244.6,217.2 L245.1,217.2 L245.6,217.2 L246.1,217.2 L246.6,217.2 L247.1,217.2 L247.6,217.2 L248.1,217.2 L248.6,217.2 L249.1,217.2 L249.6,217.2 L250.1,217.2 L250.6,217.2 L251.1,217.2 L251.6,217.2 L252.1,217.2 L252.6,217.2 L253.1,217.2 L253.6,217.2 L254.1,217.2 L254.6,217.2 L255.1,217.2 L255.6,217.19 L256.1,217.17 L256.6,217.14 L257.1,217.06 L257.6,216.91 L258.1,216.65 L258.6,216.21 L259.1,215.54 L259.6,214.62 L260.1,213.47 L260.6,212.16 L261.1,210.83 L261.6,209.64 L262.1,208.72 L262.6,208.09 L263.1,207.65 L263.6,207.28 L264.1,206.85 L264.6,206.24 L265.1,205.36 L265.6,204.2 L266.1,202.79 L266.6,201.24 L267.1,199.66 L267.6,198.2 L268.1,196.99 L268.6,196.14 L269.1,195.72 L269.6,195.81 L270.1,196.5 L270.6,197.75 L271.1,199.47 L271.6,201.5 L272.1,203.71 L272.6,205.95 L273.1,208.09 L273.6,210.04 L274.1,211.74 L274.6,213.15 L275.1,214.29 L275.6,215.17 L276.1,215.82 L276.6,216.3 L277.1,216.62 L277.6,216.84 L278.1,216.98 L278.6,217.07 L279.1,217.13 L279.6,217.16 L280.1,217.18 L280.6,217.19 L281.1,217.19 L281.6,217.2 L282.1,217.2 L282.6,217.2 L283.1,217.2 L283.6,217.2 L284.1,217.2 L284.6,217.2 L285.1,217.2 L285.6,217.2 L286.1,217.2 L286.6,217.2 L287.1,217.2 L287.6,217.2 L288.1,217.2 L288.6,217.2 L289.1,217.2 L289.6,217.2 L290.1,217.2 L290.6,217.2 L291.1,217.2 L291.1,217.2 Z" fill="#d6dcc2" stroke="#b9c0a0" stroke-width="0.5" stroke-linejoin="round"/>
<path d="M244.1,217.2 L244.1,217.2 L244.6,217.2 L245.1,217.2 L245.6,217.2 L246.1,217.2 L246.6,217.2 L247.1,217.2 L247.6,217.2 L248.1,217.2 L248.6,217.2 L249.1,217.2 L249.6,217.2 L250.1,217.2 L250.6,217.2 L251.1,217.2 L251.6,217.2 L252.1,217.2 L252.6,217.2 L253.1,217.2 L253.6,217.2 L254.1,217.2 L254.6,217.2 L255.1,217.2 L255.6,217.2 L256.1,217.19 L256.6,217.17 L257.1,217.1 L257.6,216.82 L258.1,216.01 L258.6,214.04 L259.1,210.24 L259.6,204.59 L260.1,198.46 L260.6,194.3 L261.1,193.75 L261.6,195.75 L262.1,199.32 L262.6,203.27 L263.1,206.72 L263.6,209.29 L264.1,210.94 L264.6,211.9 L265.1,212.5 L265.6,212.96 L266.1,213.39 L266.6,213.82 L267.1,214.25 L267.6,214.68 L268.1,215.09 L268.6,215.47 L269.1,215.81 L269.6,216.11 L270.1,216.36 L270.6,216.56 L271.1,216.73 L271.6,216.86 L272.1,216.96 L272.6,217.03 L273.1,217.08 L273.6,217.12 L274.1,217.15 L274.6,217.17 L275.1,217.18 L275.6,217.19 L276.1,217.19 L276.6,217.2 L277.1,217.2 L277.6,217.2 L278.1,217.2 L278.6,217.2 L279.1,217.2 L279.6,217.2 L280.1,217.2 L280.6,217.2 L281.1,217.2 L281.6,217.2 L282.1,217.2 L282.6,217.2 L283.1,217.2 L283.6,217.2 L284.1,217.2 L284.6,217.2 L285.1,217.2 L285.6,217.2 L286.1,217.2 L286.6,217.2 L287.1,217.2 L287.6,217.2 L288.1,217.2 L288.6,217.2 L289.1,217.2 L289.6,217.2 L290.1,217.2 L290.6,217.2 L291.1,217.2" fill="none" stroke="#3a3a3a" stroke-width="0.8" stroke-linejoin="round"/>
<rect x="243.5" y="190.5" width="48" height="27" fill="none" stroke="#262626" stroke-width="1.15" />
<text x="288.8" y="199.4" font-size="6" text-anchor="end" fill="#1e1e1e" stroke="#1e1e1e" stroke-width="0.15">4h</text>
<rect x="199.3" y="217.6" width="4.5" height="1.6" fill="#111"/>
<line x1="204.8" y1="217.3" x2="204.8" y2="219.3" stroke="#222" stroke-width="0.7" />
<line x1="215.2" y1="217.3" x2="215.2" y2="219.3" stroke="#222" stroke-width="0.7" />
<line x1="225.7" y1="217.3" x2="225.7" y2="219.3" stroke="#222" stroke-width="0.7" />
<line x1="236.3" y1="217.3" x2="236.3" y2="219.3" stroke="#222" stroke-width="0.7" />
<line x1="207.93" y1="217.3" x2="207.93" y2="218.4" stroke="#222" stroke-width="0.5" />
<line x1="209.76" y1="217.3" x2="209.76" y2="218.4" stroke="#222" stroke-width="0.5" />
<line x1="211.06" y1="217.3" x2="211.06" y2="218.4" stroke="#222" stroke-width="0.5" />
<line x1="212.07" y1="217.3" x2="212.07" y2="218.4" stroke="#222" stroke-width="0.5" />
<line x1="212.89" y1="217.3" x2="212.89" y2="218.4" stroke="#222" stroke-width="0.5" />
<line x1="213.59" y1="217.3" x2="213.59" y2="218.4" stroke="#222" stroke-width="0.5" />
<line x1="214.19" y1="217.3" x2="214.19" y2="218.4" stroke="#222" stroke-width="0.5" />
<line x1="214.72" y1="217.3" x2="214.72" y2="218.4" stroke="#222" stroke-width="0.5" />
<line x1="218.36" y1="217.3" x2="218.36" y2="218.4" stroke="#222" stroke-width="0.5" />
<line x1="220.21" y1="217.3" x2="220.21" y2="218.4" stroke="#222" stroke-width="0.5" />
<line x1="221.52" y1="217.3" x2="221.52" y2="218.4" stroke="#222" stroke-width="0.5" />
<line x1="222.54" y1="217.3" x2="222.54" y2="218.4" stroke="#222" stroke-width="0.5" />
<line x1="223.37" y1="217.3" x2="223.37" y2="218.4" stroke="#222" stroke-width="0.5" />
<line x1="224.07" y1="217.3" x2="224.07" y2="218.4" stroke="#222" stroke-width="0.5" />
<line x1="224.68" y1="217.3" x2="224.68" y2="218.4" stroke="#222" stroke-width="0.5" />
<line x1="225.22" y1="217.3" x2="225.22" y2="218.4" stroke="#222" stroke-width="0.5" />
<line x1="228.89" y1="217.3" x2="228.89" y2="218.4" stroke="#222" stroke-width="0.5" />
<line x1="230.76" y1="217.3" x2="230.76" y2="218.4" stroke="#222" stroke-width="0.5" />
<line x1="232.08" y1="217.3" x2="232.08" y2="218.4" stroke="#222" stroke-width="0.5" />
<line x1="233.11" y1="217.3" x2="233.11" y2="218.4" stroke="#222" stroke-width="0.5" />
<line x1="233.95" y1="217.3" x2="233.95" y2="218.4" stroke="#222" stroke-width="0.5" />
<line x1="234.66" y1="217.3" x2="234.66" y2="218.4" stroke="#222" stroke-width="0.5" />
<line x1="235.27" y1="217.3" x2="235.27" y2="218.4" stroke="#222" stroke-width="0.5" />
<line x1="235.81" y1="217.3" x2="235.81" y2="218.4" stroke="#222" stroke-width="0.5" />
<text x="204.8" y="226.8" font-size="6" text-anchor="middle" fill="#1e1e1e" stroke="#1e1e1e" stroke-width="0.15">0</text>
<text x="215.2" y="226.8" font-size="6" text-anchor="middle" fill="#1e1e1e" stroke="#1e1e1e" stroke-width="0.15">10<tspan font-size="3.72" dy="-2.2">3</tspan></text>
<text x="225.7" y="226.8" font-size="6" text-anchor="middle" fill="#1e1e1e" stroke="#1e1e1e" stroke-width="0.15">10<tspan font-size="3.72" dy="-2.2">4</tspan></text>
<text x="236.3" y="226.8" font-size="6" text-anchor="middle" fill="#1e1e1e" stroke="#1e1e1e" stroke-width="0.15">10<tspan font-size="3.72" dy="-2.2">5</tspan></text>
<rect x="249.8" y="217.5" width="4.5" height="1.6" fill="#111"/>
<line x1="255.3" y1="217.2" x2="255.3" y2="219.2" stroke="#222" stroke-width="0.7" />
<line x1="266.2" y1="217.2" x2="266.2" y2="219.2" stroke="#222" stroke-width="0.7" />
<line x1="276" y1="217.2" x2="276" y2="219.2" stroke="#222" stroke-width="0.7" />
<line x1="286.8" y1="217.2" x2="286.8" y2="219.2" stroke="#222" stroke-width="0.7" />
<line x1="258.58" y1="217.2" x2="258.58" y2="218.3" stroke="#222" stroke-width="0.5" />
<line x1="260.5" y1="217.2" x2="260.5" y2="218.3" stroke="#222" stroke-width="0.5" />
<line x1="261.86" y1="217.2" x2="261.86" y2="218.3" stroke="#222" stroke-width="0.5" />
<line x1="262.92" y1="217.2" x2="262.92" y2="218.3" stroke="#222" stroke-width="0.5" />
<line x1="263.78" y1="217.2" x2="263.78" y2="218.3" stroke="#222" stroke-width="0.5" />
<line x1="264.51" y1="217.2" x2="264.51" y2="218.3" stroke="#222" stroke-width="0.5" />
<line x1="265.14" y1="217.2" x2="265.14" y2="218.3" stroke="#222" stroke-width="0.5" />
<line x1="265.7" y1="217.2" x2="265.7" y2="218.3" stroke="#222" stroke-width="0.5" />
<line x1="269.15" y1="217.2" x2="269.15" y2="218.3" stroke="#222" stroke-width="0.5" />
<line x1="270.88" y1="217.2" x2="270.88" y2="218.3" stroke="#222" stroke-width="0.5" />
<line x1="272.1" y1="217.2" x2="272.1" y2="218.3" stroke="#222" stroke-width="0.5" />
<line x1="273.05" y1="217.2" x2="273.05" y2="218.3" stroke="#222" stroke-width="0.5" />
<line x1="273.83" y1="217.2" x2="273.83" y2="218.3" stroke="#222" stroke-width="0.5" />
<line x1="274.48" y1="217.2" x2="274.48" y2="218.3" stroke="#222" stroke-width="0.5" />
<line x1="275.05" y1="217.2" x2="275.05" y2="218.3" stroke="#222" stroke-width="0.5" />
<line x1="275.55" y1="217.2" x2="275.55" y2="218.3" stroke="#222" stroke-width="0.5" />
<line x1="279.25" y1="217.2" x2="279.25" y2="218.3" stroke="#222" stroke-width="0.5" />
<line x1="281.15" y1="217.2" x2="281.15" y2="218.3" stroke="#222" stroke-width="0.5" />
<line x1="282.5" y1="217.2" x2="282.5" y2="218.3" stroke="#222" stroke-width="0.5" />
<line x1="283.55" y1="217.2" x2="283.55" y2="218.3" stroke="#222" stroke-width="0.5" />
<line x1="284.4" y1="217.2" x2="284.4" y2="218.3" stroke="#222" stroke-width="0.5" />
<line x1="285.13" y1="217.2" x2="285.13" y2="218.3" stroke="#222" stroke-width="0.5" />
<line x1="285.75" y1="217.2" x2="285.75" y2="218.3" stroke="#222" stroke-width="0.5" />
<line x1="286.31" y1="217.2" x2="286.31" y2="218.3" stroke="#222" stroke-width="0.5" />
<text x="255.3" y="226.8" font-size="6" text-anchor="middle" fill="#1e1e1e" stroke="#1e1e1e" stroke-width="0.15">0</text>
<text x="266.2" y="226.8" font-size="6" text-anchor="middle" fill="#1e1e1e" stroke="#1e1e1e" stroke-width="0.15">10<tspan font-size="3.72" dy="-2.2">3</tspan></text>
<text x="276" y="226.8" font-size="6" text-anchor="middle" fill="#1e1e1e" stroke="#1e1e1e" stroke-width="0.15">10<tspan font-size="3.72" dy="-2.2">4</tspan></text>
<text x="286.8" y="226.8" font-size="6" text-anchor="middle" fill="#1e1e1e" stroke="#1e1e1e" stroke-width="0.15">10<tspan font-size="3.72" dy="-2.2">5</tspan></text>
<text x="217.3" y="239" font-size="7.8" text-anchor="middle" fill="#1e1e1e" stroke="#1e1e1e" stroke-width="0.15" textLength="11.1" lengthAdjust="spacingAndGlyphs">pS6</text>
<text x="267.5" y="239" font-size="7.8" text-anchor="middle" fill="#1e1e1e" stroke="#1e1e1e" stroke-width="0.15" textLength="11.6" lengthAdjust="spacingAndGlyphs">pS6</text>
<rect x="213.6" y="251.4" width="5.6" height="5.6" fill="#fff" stroke="#222" stroke-width="1.1" />
<text x="222.4" y="256.6" font-size="6.4" text-anchor="start" fill="#1e1e1e" stroke="#1e1e1e" stroke-width="0.15" textLength="21" lengthAdjust="spacingAndGlyphs">unstim.</text>
<rect x="248.9" y="251" width="6.4" height="6.2" fill="#f5c48c" stroke="none" stroke-width="1" />
<text x="258" y="256.6" font-size="6.7" text-anchor="start" fill="#1e1e1e" stroke="#1e1e1e" stroke-width="0.15" textLength="12.8" lengthAdjust="spacingAndGlyphs">LKS<tspan font-size="4.6" dy="-2.9">+</tspan></text>
<rect x="213.2" y="264.6" width="6.2" height="6.2" fill="#d6dcc2" stroke="none" stroke-width="1" />
<text x="222.4" y="270.2" font-size="6.7" text-anchor="start" fill="#1e1e1e" stroke="#1e1e1e" stroke-width="0.15" textLength="50.2" lengthAdjust="spacingAndGlyphs">LKS<tspan font-size="4.6" dy="-3.4">–</tspan><tspan dy="3.4"> </tspan>CD34<tspan font-size="4.6" dy="-2.9">+</tspan><tspan dy="2.9"> </tspan>FcγR<tspan font-size="4.6" dy="-2.9">+</tspan></text>
<rect x="136" y="213.1" width="6.6" height="9" fill="#f5c48c" stroke="none" stroke-width="1" />
<rect x="143.9" y="209.8" width="6.9" height="12.3" fill="#f5c48c" stroke="none" stroke-width="1" />
<rect x="152.4" y="204.1" width="6.2" height="18" fill="#f5c48c" stroke="none" stroke-width="1" />
<rect x="163.8" y="207.9" width="7.4" height="14.2" fill="#d6dcc2" stroke="none" stroke-width="1" />
<rect x="172" y="200.5" width="6.5" height="21.6" fill="#d6dcc2" stroke="none" stroke-width="1" />
<rect x="179.8" y="192.4" width="6.6" height="29.7" fill="#d6dcc2" stroke="none" stroke-width="1" />
<line x1="134" y1="222.5" x2="188" y2="222.5" stroke="#222" stroke-width="1.15" />
<line x1="134.5" y1="177.6" x2="134.5" y2="223" stroke="#222" stroke-width="1.15" />
<line x1="131.9" y1="222.1" x2="134.1" y2="222.1" stroke="#222" stroke-width="0.9" />
<line x1="131.9" y1="211.6" x2="134.1" y2="211.6" stroke="#222" stroke-width="0.9" />
<line x1="131.9" y1="201.1" x2="134.1" y2="201.1" stroke="#222" stroke-width="0.9" />
<line x1="131.9" y1="190.6" x2="134.1" y2="190.6" stroke="#222" stroke-width="0.9" />
<line x1="131.9" y1="180.1" x2="134.1" y2="180.1" stroke="#222" stroke-width="0.9" />
<text x="128.5" y="224.25" font-size="6" text-anchor="end" fill="#1e1e1e" stroke="#1e1e1e" stroke-width="0.15">0</text>
<text x="128.5" y="203.25" font-size="6" text-anchor="end" fill="#1e1e1e" stroke="#1e1e1e" stroke-width="0.15">4</text>
<text x="128.5" y="182.25" font-size="6" text-anchor="end" fill="#1e1e1e" stroke="#1e1e1e" stroke-width="0.15">8</text>
<text x="116.5" y="199.6" font-size="7.3" text-anchor="middle" fill="#1e1e1e" stroke="#1e1e1e" stroke-width="0.15" textLength="28.5" lengthAdjust="spacingAndGlyphs" transform="rotate(-90 116.5 199.6)" dominant-baseline="central">MFI x 10<tspan font-size="4.2" dy="-2.4">2</tspan></text>
<line x1="139.3" y1="222.1" x2="139.3" y2="224.1" stroke="#222" stroke-width="0.8" />
<line x1="139.3" y1="211.5" x2="139.3" y2="214.1" stroke="#222" stroke-width="0.9" />
<path d="M137.9,211 L140.7,211 L139.85,212.8 L138.75,212.8 Z" fill="#222"/>
<line x1="147.35" y1="222.1" x2="147.35" y2="224.1" stroke="#222" stroke-width="0.8" />
<line x1="147.35" y1="209.2" x2="147.35" y2="210.8" stroke="#222" stroke-width="0.9" />
<path d="M145.95,208.7 L148.75,208.7 L147.9,210.5 L146.8,210.5 Z" fill="#222"/>
<line x1="155.5" y1="222.1" x2="155.5" y2="224.1" stroke="#222" stroke-width="0.8" />
<line x1="155.5" y1="201.7" x2="155.5" y2="205.1" stroke="#222" stroke-width="0.9" />
<path d="M154.1,201.2 L156.9,201.2 L156.05,203 L154.95,203 Z" fill="#222"/>
<circle cx="155.5" cy="197.5" r="0.78" fill="#1e1e1e"/>
<line x1="167.5" y1="222.1" x2="167.5" y2="224.1" stroke="#222" stroke-width="0.8" />
<line x1="167.5" y1="202.8" x2="167.5" y2="208.9" stroke="#222" stroke-width="0.9" />
<path d="M166.1,202.3 L168.9,202.3 L168.05,204.1 L166.95,204.1 Z" fill="#222"/>
<line x1="175.25" y1="222.1" x2="175.25" y2="224.1" stroke="#222" stroke-width="0.8" />
<line x1="175.25" y1="200.1" x2="175.25" y2="201.5" stroke="#222" stroke-width="0.9" />
<path d="M173.85,199.6 L176.65,199.6 L175.8,201.4 L174.7,201.4 Z" fill="#222"/>
<line x1="183.1" y1="222.1" x2="183.1" y2="224.1" stroke="#222" stroke-width="0.8" />
<line x1="183.1" y1="186.6" x2="183.1" y2="193.4" stroke="#222" stroke-width="0.9" />
<path d="M181.7,186.1 L184.5,186.1 L183.65,187.9 L182.55,187.9 Z" fill="#222"/>
<circle cx="183.1" cy="183" r="0.78" fill="#1e1e1e"/>
<text x="162.2" y="173.1" font-size="8.2" text-anchor="middle" fill="#1e1e1e" stroke="#1e1e1e" stroke-width="0.15">pAkt</text>
<text x="139.3" y="233.9" font-size="6.3" text-anchor="middle" fill="#1e1e1e" stroke="#1e1e1e" stroke-width="0.15">0′</text>
<text x="147.3" y="233.9" font-size="6.3" text-anchor="middle" fill="#1e1e1e" stroke="#1e1e1e" stroke-width="0.15">10′</text>
<text x="155.5" y="233.9" font-size="6.3" text-anchor="middle" fill="#1e1e1e" stroke="#1e1e1e" stroke-width="0.15">30′</text>
<text x="167.5" y="233.9" font-size="6.3" text-anchor="middle" fill="#1e1e1e" stroke="#1e1e1e" stroke-width="0.15">0′</text>
<text x="175.3" y="233.9" font-size="6.3" text-anchor="middle" fill="#1e1e1e" stroke="#1e1e1e" stroke-width="0.15">10′</text>
<text x="183.1" y="233.9" font-size="6.3" text-anchor="middle" fill="#1e1e1e" stroke="#1e1e1e" stroke-width="0.15">30′</text>
<line x1="136" y1="238.5" x2="157.7" y2="238.5" stroke="#2a2a2a" stroke-width="1" />
<line x1="164.4" y1="238.5" x2="186" y2="238.5" stroke="#2a2a2a" stroke-width="1" />
<text x="146.5" y="246.6" font-size="6.4" text-anchor="middle" fill="#1e1e1e" stroke="#1e1e1e" stroke-width="0.15" textLength="12.4" lengthAdjust="spacingAndGlyphs">LKS<tspan font-size="4.6" dy="-2.9">+</tspan></text>
<text x="175.2" y="246.6" font-size="6.4" text-anchor="middle" fill="#1e1e1e" stroke="#1e1e1e" stroke-width="0.15" textLength="11.5" lengthAdjust="spacingAndGlyphs">LKS<tspan font-size="5.4" dy="-2.6">–</tspan></text>
<text x="175.2" y="254.1" font-size="6.4" text-anchor="middle" fill="#1e1e1e" stroke="#1e1e1e" stroke-width="0.15" textLength="16.4" lengthAdjust="spacingAndGlyphs">CD34<tspan font-size="4.6" dy="-2.9">+</tspan></text>
<text x="175.2" y="261.6" font-size="6.4" text-anchor="middle" fill="#1e1e1e" stroke="#1e1e1e" stroke-width="0.15" textLength="15.4" lengthAdjust="spacingAndGlyphs">FcγR<tspan font-size="4.6" dy="-2.9">+</tspan></text>
<rect x="326" y="218.5" width="7.4" height="3.6" fill="#f5c48c" stroke="none" stroke-width="1" />
<rect x="335" y="217.2" width="7.4" height="4.9" fill="#f5c48c" stroke="none" stroke-width="1" />
<rect x="349" y="217.5" width="7.8" height="4.6" fill="#d6dcc2" stroke="none" stroke-width="1" />
<rect x="358.4" y="190.2" width="7.6" height="31.9" fill="#d6dcc2" stroke="none" stroke-width="1" />
<line x1="322" y1="222.5" x2="369.4" y2="222.5" stroke="#222" stroke-width="1.15" />
<line x1="322.5" y1="177.6" x2="322.5" y2="223" stroke="#222" stroke-width="1.15" />
<line x1="320.6" y1="222.1" x2="322.8" y2="222.1" stroke="#222" stroke-width="0.9" />
<line x1="320.6" y1="213.65" x2="322.8" y2="213.65" stroke="#222" stroke-width="0.9" />
<line x1="320.6" y1="205.2" x2="322.8" y2="205.2" stroke="#222" stroke-width="0.9" />
<line x1="320.6" y1="196.75" x2="322.8" y2="196.75" stroke="#222" stroke-width="0.9" />
<line x1="320.6" y1="188.3" x2="322.8" y2="188.3" stroke="#222" stroke-width="0.9" />
<line x1="320.6" y1="179.85" x2="322.8" y2="179.85" stroke="#222" stroke-width="0.9" />
<text x="317.2" y="224.25" font-size="6" text-anchor="end" fill="#1e1e1e" stroke="#1e1e1e" stroke-width="0.15">0</text>
<text x="317.2" y="207.35" font-size="6" text-anchor="end" fill="#1e1e1e" stroke="#1e1e1e" stroke-width="0.15">2</text>
<text x="317.2" y="190.45" font-size="6" text-anchor="end" fill="#1e1e1e" stroke="#1e1e1e" stroke-width="0.15">4</text>
<text x="304.2" y="199.3" font-size="7.3" text-anchor="middle" fill="#1e1e1e" stroke="#1e1e1e" stroke-width="0.15" textLength="28.5" lengthAdjust="spacingAndGlyphs" transform="rotate(-90 304.2 199.3)" dominant-baseline="central">MFI x 10<tspan font-size="4.2" dy="-2.4">3</tspan></text>
<line x1="329.7" y1="222.1" x2="329.7" y2="224.1" stroke="#222" stroke-width="0.8" />
<line x1="329.7" y1="218" x2="329.7" y2="219.5" stroke="#222" stroke-width="0.9" />
<path d="M328.3,217.5 L331.1,217.5 L330.25,219.3 L329.15,219.3 Z" fill="#222"/>
<line x1="338.7" y1="222.1" x2="338.7" y2="224.1" stroke="#222" stroke-width="0.8" />
<line x1="338.7" y1="216.4" x2="338.7" y2="218.2" stroke="#222" stroke-width="0.9" />
<path d="M337.3,215.9 L340.1,215.9 L339.25,217.7 L338.15,217.7 Z" fill="#222"/>
<line x1="352.9" y1="222.1" x2="352.9" y2="224.1" stroke="#222" stroke-width="0.8" />
<line x1="352.9" y1="216.8" x2="352.9" y2="218.5" stroke="#222" stroke-width="0.9" />
<path d="M351.5,216.3 L354.3,216.3 L353.45,218.1 L352.35,218.1 Z" fill="#222"/>
<line x1="362.2" y1="222.1" x2="362.2" y2="224.1" stroke="#222" stroke-width="0.8" />
<line x1="362.2" y1="189.4" x2="362.2" y2="191.2" stroke="#222" stroke-width="0.9" />
<path d="M360.8,188.9 L363.6,188.9 L362.75,190.7 L361.65,190.7 Z" fill="#222"/>
<circle cx="362.2" cy="182" r="0.78" fill="#1e1e1e"/>
<circle cx="362.2" cy="184.8" r="0.78" fill="#1e1e1e"/>
<circle cx="362.2" cy="187.6" r="0.78" fill="#1e1e1e"/>
<text x="346.3" y="173.9" font-size="8.2" text-anchor="middle" fill="#1e1e1e" stroke="#1e1e1e" stroke-width="0.15">pS6</text>
<text x="329.2" y="233.8" font-size="6.3" text-anchor="middle" fill="#1e1e1e" stroke="#1e1e1e" stroke-width="0.15">0′</text>
<text x="338.8" y="233.8" font-size="6.3" text-anchor="middle" fill="#1e1e1e" stroke="#1e1e1e" stroke-width="0.15">4h</text>
<text x="352.2" y="233.8" font-size="6.3" text-anchor="middle" fill="#1e1e1e" stroke="#1e1e1e" stroke-width="0.15">0′</text>
<text x="362.3" y="233.8" font-size="6.3" text-anchor="middle" fill="#1e1e1e" stroke="#1e1e1e" stroke-width="0.15">4h</text>
<line x1="325.3" y1="238.5" x2="342.8" y2="238.5" stroke="#2a2a2a" stroke-width="1" />
<line x1="348.5" y1="238.5" x2="366.3" y2="238.5" stroke="#2a2a2a" stroke-width="1" />
<text x="333.8" y="246.6" font-size="6.4" text-anchor="middle" fill="#1e1e1e" stroke="#1e1e1e" stroke-width="0.15" textLength="12.4" lengthAdjust="spacingAndGlyphs">LKS<tspan font-size="4.6" dy="-2.9">+</tspan></text>
<text x="357" y="246.6" font-size="6.4" text-anchor="middle" fill="#1e1e1e" stroke="#1e1e1e" stroke-width="0.15" textLength="11.5" lengthAdjust="spacingAndGlyphs">LKS<tspan font-size="5.4" dy="-2.6">–</tspan></text>
<text x="357" y="254.1" font-size="6.4" text-anchor="middle" fill="#1e1e1e" stroke="#1e1e1e" stroke-width="0.15" textLength="16.4" lengthAdjust="spacingAndGlyphs">CD34<tspan font-size="4.6" dy="-2.9">+</tspan></text>
<text x="357" y="261.6" font-size="6.4" text-anchor="middle" fill="#1e1e1e" stroke="#1e1e1e" stroke-width="0.15" textLength="15.4" lengthAdjust="spacingAndGlyphs">FcγR<tspan font-size="4.6" dy="-2.9">+</tspan></text>
<path d="M6.8,361.5 L6.8,361.5 L7.3,361.5 L7.8,361.5 L8.3,361.5 L8.8,361.5 L9.3,361.5 L9.8,361.5 L10.3,361.5 L10.8,361.5 L11.3,361.5 L11.8,361.5 L12.3,361.5 L12.8,361.5 L13.3,361.5 L13.8,361.48 L14.3,361.43 L14.8,361.24 L15.3,360.71 L15.8,359.44 L16.3,356.86 L16.8,352.47 L17.3,346.34 L17.8,339.56 L18.3,334.1 L18.8,332 L19.3,333 L19.8,335.82 L20.3,339.9 L20.8,344.55 L21.3,349.09 L21.8,353.02 L22.3,356.09 L22.8,358.28 L23.3,359.71 L23.8,360.58 L24.3,361.05 L24.8,361.3 L25.3,361.42 L25.8,361.47 L26.3,361.49 L26.8,361.5 L27.3,361.5 L27.8,361.5 L28.3,361.5 L28.8,361.5 L29.3,361.5 L29.8,361.5 L30.3,361.5 L30.8,361.5 L31.3,361.5 L31.8,361.5 L32.3,361.5 L32.8,361.5 L33.3,361.5 L33.8,361.5 L34.3,361.5 L34.8,361.5 L35.3,361.5 L35.8,361.5 L36.3,361.5 L36.8,361.5 L37.3,361.5 L37.8,361.5 L38.3,361.5 L38.8,361.5 L39.3,361.5 L39.8,361.5 L40.3,361.5 L40.8,361.5 L41.3,361.5 L41.8,361.5 L42.3,361.5 L42.8,361.5 L43.3,361.5 L43.8,361.5 L44.3,361.5 L44.8,361.5 L45.3,361.5 L45.8,361.5 L46.3,361.5 L46.8,361.5 L47.3,361.5 L47.8,361.5 L48.3,361.5 L48.8,361.5 L49.3,361.5 L49.8,361.5 L50.3,361.5 L50.8,361.5 L51.3,361.5 L51.8,361.5 L52.3,361.5 L52.8,361.5 L53.3,361.5 L53.8,361.5 L54.3,361.5 L54.8,361.5 L55.3,361.5 L55.8,361.5 L56.3,361.5 L56.8,361.5 L57.3,361.5 L57.8,361.5 L58.3,361.5 L58.8,361.5 L59.3,361.5 L59.8,361.5 L60.3,361.5 L60.8,361.5 L61.3,361.5 L61.8,361.5 L62.3,361.5 L62.8,361.5 L63.3,361.5 L63.8,361.5 L64.3,361.5 L64.8,361.5 L65.3,361.5 L65.8,361.5 L66.3,361.5 L66.8,361.5 L67.3,361.5 L67.8,361.5 L68.3,361.5 L68.8,361.5 L69.3,361.5 L69.8,361.5 L70.3,361.5 L70.8,361.5 L71.3,361.5 L71.8,361.5 L71.8,361.5 Z" fill="#f6ca96" stroke="#e8a050" stroke-width="0.8" stroke-linejoin="round"/>
<path d="M6.8,361.5 L6.8,361.5 L7.3,361.5 L7.8,361.5 L8.3,361.5 L8.8,361.5 L9.3,361.5 L9.8,361.5 L10.3,361.5 L10.8,361.5 L11.3,361.5 L11.8,361.5 L12.3,361.5 L12.8,361.5 L13.3,361.5 L13.8,361.5 L14.3,361.49 L14.8,361.41 L15.3,361.06 L15.8,359.84 L16.3,356.65 L16.8,350.43 L17.3,341.82 L17.8,334.27 L18.3,332.09 L18.8,334.98 L19.3,340.88 L19.8,347.67 L20.3,353.5 L20.8,357.51 L21.3,359.78 L21.8,360.86 L22.3,361.3 L22.8,361.44 L23.3,361.49 L23.8,361.5 L24.3,361.5 L24.8,361.5 L25.3,361.5 L25.8,361.5 L26.3,361.5 L26.8,361.5 L27.3,361.5 L27.8,361.5 L28.3,361.5 L28.8,361.5 L29.3,361.5 L29.8,361.5 L30.3,361.5 L30.8,361.5 L31.3,361.5 L31.8,361.5 L32.3,361.5 L32.8,361.5 L33.3,361.5 L33.8,361.5 L34.3,361.5 L34.8,361.5 L35.3,361.5 L35.8,361.5 L36.3,361.5 L36.8,361.5 L37.3,361.5 L37.8,361.5 L38.3,361.5 L38.8,361.5 L39.3,361.5 L39.8,361.5 L40.3,361.5 L40.8,361.5 L41.3,361.5 L41.8,361.5 L42.3,361.5 L42.8,361.5 L43.3,361.5 L43.8,361.5 L44.3,361.5 L44.8,361.5 L45.3,361.5 L45.8,361.5 L46.3,361.5 L46.8,361.5 L47.3,361.5 L47.8,361.5 L48.3,361.5 L48.8,361.5 L49.3,361.5 L49.8,361.5 L50.3,361.5 L50.8,361.5 L51.3,361.5 L51.8,361.5 L52.3,361.5 L52.8,361.5 L53.3,361.5 L53.8,361.5 L54.3,361.5 L54.8,361.5 L55.3,361.5 L55.8,361.5 L56.3,361.5 L56.8,361.5 L57.3,361.5 L57.8,361.5 L58.3,361.5 L58.8,361.5 L59.3,361.5 L59.8,361.5 L60.3,361.5 L60.8,361.5 L61.3,361.5 L61.8,361.5 L62.3,361.5 L62.8,361.5 L63.3,361.5 L63.8,361.5 L64.3,361.5 L64.8,361.5 L65.3,361.5 L65.8,361.5 L66.3,361.5 L66.8,361.5 L67.3,361.5 L67.8,361.5 L68.3,361.5 L68.8,361.5 L69.3,361.5 L69.8,361.5 L70.3,361.5 L70.8,361.5 L71.3,361.5 L71.8,361.5" fill="none" stroke="#111" stroke-width="0.9" stroke-linejoin="round" stroke-dasharray="0.9,0.9"/>
<rect x="6.5" y="327.5" width="66" height="34" fill="none" stroke="#262626" stroke-width="1.15" />
<text x="39.3" y="322.7" font-size="8.8" text-anchor="middle" fill="#1e1e1e" stroke="#1e1e1e" stroke-width="0.15" textLength="28.7" lengthAdjust="spacingAndGlyphs">LT-HSC</text>
<text x="60" y="338.6" font-size="6.7" text-anchor="middle" fill="#1e1e1e" stroke="#1e1e1e" stroke-width="0.15">87</text>
<rect x="11.3" y="361.6" width="4.5" height="1.6" fill="#111"/>
<line x1="16.8" y1="361.3" x2="16.8" y2="363.3" stroke="#222" stroke-width="0.7" />
<line x1="34.6" y1="361.3" x2="34.6" y2="363.3" stroke="#222" stroke-width="0.7" />
<line x1="50.8" y1="361.3" x2="50.8" y2="363.3" stroke="#222" stroke-width="0.7" />
<line x1="65.9" y1="361.3" x2="65.9" y2="363.3" stroke="#222" stroke-width="0.7" />
<line x1="22.16" y1="361.3" x2="22.16" y2="362.4" stroke="#222" stroke-width="0.5" />
<line x1="25.29" y1="361.3" x2="25.29" y2="362.4" stroke="#222" stroke-width="0.5" />
<line x1="27.52" y1="361.3" x2="27.52" y2="362.4" stroke="#222" stroke-width="0.5" />
<line x1="29.24" y1="361.3" x2="29.24" y2="362.4" stroke="#222" stroke-width="0.5" />
<line x1="30.65" y1="361.3" x2="30.65" y2="362.4" stroke="#222" stroke-width="0.5" />
<line x1="31.84" y1="361.3" x2="31.84" y2="362.4" stroke="#222" stroke-width="0.5" />
<line x1="32.88" y1="361.3" x2="32.88" y2="362.4" stroke="#222" stroke-width="0.5" />
<line x1="33.79" y1="361.3" x2="33.79" y2="362.4" stroke="#222" stroke-width="0.5" />
<line x1="39.48" y1="361.3" x2="39.48" y2="362.4" stroke="#222" stroke-width="0.5" />
<line x1="42.33" y1="361.3" x2="42.33" y2="362.4" stroke="#222" stroke-width="0.5" />
<line x1="44.35" y1="361.3" x2="44.35" y2="362.4" stroke="#222" stroke-width="0.5" />
<line x1="45.92" y1="361.3" x2="45.92" y2="362.4" stroke="#222" stroke-width="0.5" />
<line x1="47.21" y1="361.3" x2="47.21" y2="362.4" stroke="#222" stroke-width="0.5" />
<line x1="48.29" y1="361.3" x2="48.29" y2="362.4" stroke="#222" stroke-width="0.5" />
<line x1="49.23" y1="361.3" x2="49.23" y2="362.4" stroke="#222" stroke-width="0.5" />
<line x1="50.06" y1="361.3" x2="50.06" y2="362.4" stroke="#222" stroke-width="0.5" />
<line x1="55.35" y1="361.3" x2="55.35" y2="362.4" stroke="#222" stroke-width="0.5" />
<line x1="58" y1="361.3" x2="58" y2="362.4" stroke="#222" stroke-width="0.5" />
<line x1="59.89" y1="361.3" x2="59.89" y2="362.4" stroke="#222" stroke-width="0.5" />
<line x1="61.35" y1="361.3" x2="61.35" y2="362.4" stroke="#222" stroke-width="0.5" />
<line x1="62.55" y1="361.3" x2="62.55" y2="362.4" stroke="#222" stroke-width="0.5" />
<line x1="63.56" y1="361.3" x2="63.56" y2="362.4" stroke="#222" stroke-width="0.5" />
<line x1="64.44" y1="361.3" x2="64.44" y2="362.4" stroke="#222" stroke-width="0.5" />
<line x1="65.21" y1="361.3" x2="65.21" y2="362.4" stroke="#222" stroke-width="0.5" />
<text x="16.8" y="374" font-size="5.8" text-anchor="middle" fill="#1e1e1e" stroke="#1e1e1e" stroke-width="0.15">0</text>
<text x="34.6" y="374" font-size="5.8" text-anchor="middle" fill="#1e1e1e" stroke="#1e1e1e" stroke-width="0.15">10<tspan font-size="3.6" dy="-2.2">3</tspan></text>
<text x="50.8" y="374" font-size="5.8" text-anchor="middle" fill="#1e1e1e" stroke="#1e1e1e" stroke-width="0.15">10<tspan font-size="3.6" dy="-2.2">4</tspan></text>
<text x="65.9" y="374" font-size="5.8" text-anchor="middle" fill="#1e1e1e" stroke="#1e1e1e" stroke-width="0.15">10<tspan font-size="3.6" dy="-2.2">5</tspan></text>
<text x="39.4" y="385.5" font-size="8.5" text-anchor="middle" fill="#1e1e1e" stroke="#1e1e1e" stroke-width="0.15" textLength="20" lengthAdjust="spacingAndGlyphs">CD116</text>
<path d="M76.7,361.5 L76.7,361.5 L77.2,361.5 L77.7,361.5 L78.2,361.5 L78.7,361.5 L79.2,361.5 L79.7,361.5 L80.2,361.5 L80.7,361.5 L81.2,361.5 L81.7,361.5 L82.2,361.48 L82.7,361.44 L83.2,361.32 L83.7,361 L84.2,360.27 L84.7,358.79 L85.2,356.16 L85.7,352.09 L86.2,346.65 L86.7,340.55 L87.2,335.04 L87.7,331.6 L88.2,331.11 L88.7,332.27 L89.2,334.58 L89.7,337.77 L90.2,341.46 L90.7,345.3 L91.2,348.96 L91.7,352.21 L92.2,354.9 L92.7,357.02 L93.2,358.58 L93.7,359.68 L94.2,360.42 L94.7,360.88 L95.2,361.16 L95.7,361.32 L96.2,361.41 L96.7,361.46 L97.2,361.48 L97.7,361.49 L98.2,361.5 L98.7,361.5 L99.2,361.5 L99.7,361.5 L100.2,361.5 L100.7,361.5 L101.2,361.5 L101.7,361.5 L102.2,361.5 L102.7,361.5 L103.2,361.5 L103.7,361.5 L104.2,361.5 L104.7,361.5 L105.2,361.5 L105.7,361.5 L106.2,361.5 L106.7,361.5 L107.2,361.5 L107.7,361.5 L108.2,361.5 L108.7,361.5 L109.2,361.5 L109.7,361.5 L110.2,361.5 L110.7,361.5 L111.2,361.5 L111.7,361.5 L112.2,361.5 L112.7,361.5 L113.2,361.5 L113.7,361.5 L114.2,361.5 L114.7,361.5 L115.2,361.5 L115.7,361.5 L116.2,361.5 L116.7,361.5 L117.2,361.5 L117.7,361.5 L118.2,361.5 L118.7,361.5 L119.2,361.5 L119.7,361.5 L120.2,361.5 L120.7,361.5 L121.2,361.5 L121.7,361.5 L122.2,361.5 L122.7,361.5 L123.2,361.5 L123.7,361.5 L124.2,361.5 L124.7,361.5 L125.2,361.5 L125.7,361.5 L126.2,361.5 L126.7,361.5 L127.2,361.5 L127.7,361.5 L128.2,361.5 L128.7,361.5 L129.2,361.5 L129.7,361.5 L130.2,361.5 L130.7,361.5 L131.2,361.5 L131.7,361.5 L132.2,361.5 L132.7,361.5 L133.2,361.5 L133.7,361.5 L134.2,361.5 L134.7,361.5 L135.2,361.5 L135.7,361.5 L136.2,361.5 L136.7,361.5 L137.2,361.5 L137.7,361.5 L138.2,361.5 L138.7,361.5 L139.2,361.5 L139.7,361.5 L140.2,361.5 L140.7,361.5 L140.7,361.5 Z" fill="#f6ca96" stroke="#e8a050" stroke-width="0.8" stroke-linejoin="round"/>
<path d="M76.7,361.5 L76.7,361.5 L77.2,361.5 L77.7,361.5 L78.2,361.5 L78.7,361.5 L79.2,361.5 L79.7,361.5 L80.2,361.5 L80.7,361.5 L81.2,361.5 L81.7,361.5 L82.2,361.5 L82.7,361.5 L83.2,361.49 L83.7,361.45 L84.2,361.25 L84.7,360.48 L85.2,358.19 L85.7,353.16 L86.2,345.12 L86.7,336.44 L87.2,331.65 L87.7,332.7 L88.2,337.1 L88.7,343.3 L89.2,349.56 L89.7,354.6 L90.2,357.99 L90.7,359.93 L91.2,360.88 L91.7,361.29 L92.2,361.43 L92.7,361.48 L93.2,361.5 L93.7,361.5 L94.2,361.5 L94.7,361.5 L95.2,361.5 L95.7,361.5 L96.2,361.5 L96.7,361.5 L97.2,361.5 L97.7,361.5 L98.2,361.5 L98.7,361.5 L99.2,361.5 L99.7,361.5 L100.2,361.5 L100.7,361.5 L101.2,361.5 L101.7,361.5 L102.2,361.5 L102.7,361.5 L103.2,361.5 L103.7,361.5 L104.2,361.5 L104.7,361.5 L105.2,361.5 L105.7,361.5 L106.2,361.5 L106.7,361.5 L107.2,361.5 L107.7,361.5 L108.2,361.5 L108.7,361.5 L109.2,361.5 L109.7,361.5 L110.2,361.5 L110.7,361.5 L111.2,361.5 L111.7,361.5 L112.2,361.5 L112.7,361.5 L113.2,361.5 L113.7,361.5 L114.2,361.5 L114.7,361.5 L115.2,361.5 L115.7,361.5 L116.2,361.5 L116.7,361.5 L117.2,361.5 L117.7,361.5 L118.2,361.5 L118.7,361.5 L119.2,361.5 L119.7,361.5 L120.2,361.5 L120.7,361.5 L121.2,361.5 L121.7,361.5 L122.2,361.5 L122.7,361.5 L123.2,361.5 L123.7,361.5 L124.2,361.5 L124.7,361.5 L125.2,361.5 L125.7,361.5 L126.2,361.5 L126.7,361.5 L127.2,361.5 L127.7,361.5 L128.2,361.5 L128.7,361.5 L129.2,361.5 L129.7,361.5 L130.2,361.5 L130.7,361.5 L131.2,361.5 L131.7,361.5 L132.2,361.5 L132.7,361.5 L133.2,361.5 L133.7,361.5 L134.2,361.5 L134.7,361.5 L135.2,361.5 L135.7,361.5 L136.2,361.5 L136.7,361.5 L137.2,361.5 L137.7,361.5 L138.2,361.5 L138.7,361.5 L139.2,361.5 L139.7,361.5 L140.2,361.5 L140.7,361.5" fill="none" stroke="#111" stroke-width="0.9" stroke-linejoin="round" stroke-dasharray="0.9,0.9"/>
<rect x="76.5" y="327.5" width="65" height="34" fill="none" stroke="#262626" stroke-width="1.15" />
<text x="108.7" y="322.7" font-size="8.8" text-anchor="middle" fill="#1e1e1e" stroke="#1e1e1e" stroke-width="0.15" textLength="28.8" lengthAdjust="spacingAndGlyphs">ST-HSC</text>
<text x="126.5" y="338.6" font-size="6.7" text-anchor="middle" fill="#1e1e1e" stroke="#1e1e1e" stroke-width="0.15">112</text>
<rect x="81.2" y="361.6" width="4.5" height="1.6" fill="#111"/>
<line x1="86.7" y1="361.3" x2="86.7" y2="363.3" stroke="#222" stroke-width="0.7" />
<line x1="104.5" y1="361.3" x2="104.5" y2="363.3" stroke="#222" stroke-width="0.7" />
<line x1="120.7" y1="361.3" x2="120.7" y2="363.3" stroke="#222" stroke-width="0.7" />
<line x1="135.8" y1="361.3" x2="135.8" y2="363.3" stroke="#222" stroke-width="0.7" />
<line x1="92.06" y1="361.3" x2="92.06" y2="362.4" stroke="#222" stroke-width="0.5" />
<line x1="95.19" y1="361.3" x2="95.19" y2="362.4" stroke="#222" stroke-width="0.5" />
<line x1="97.42" y1="361.3" x2="97.42" y2="362.4" stroke="#222" stroke-width="0.5" />
<line x1="99.14" y1="361.3" x2="99.14" y2="362.4" stroke="#222" stroke-width="0.5" />
<line x1="100.55" y1="361.3" x2="100.55" y2="362.4" stroke="#222" stroke-width="0.5" />
<line x1="101.74" y1="361.3" x2="101.74" y2="362.4" stroke="#222" stroke-width="0.5" />
<line x1="102.78" y1="361.3" x2="102.78" y2="362.4" stroke="#222" stroke-width="0.5" />
<line x1="103.69" y1="361.3" x2="103.69" y2="362.4" stroke="#222" stroke-width="0.5" />
<line x1="109.38" y1="361.3" x2="109.38" y2="362.4" stroke="#222" stroke-width="0.5" />
<line x1="112.23" y1="361.3" x2="112.23" y2="362.4" stroke="#222" stroke-width="0.5" />
<line x1="114.25" y1="361.3" x2="114.25" y2="362.4" stroke="#222" stroke-width="0.5" />
<line x1="115.82" y1="361.3" x2="115.82" y2="362.4" stroke="#222" stroke-width="0.5" />
<line x1="117.11" y1="361.3" x2="117.11" y2="362.4" stroke="#222" stroke-width="0.5" />
<line x1="118.19" y1="361.3" x2="118.19" y2="362.4" stroke="#222" stroke-width="0.5" />
<line x1="119.13" y1="361.3" x2="119.13" y2="362.4" stroke="#222" stroke-width="0.5" />
<line x1="119.96" y1="361.3" x2="119.96" y2="362.4" stroke="#222" stroke-width="0.5" />
<line x1="125.25" y1="361.3" x2="125.25" y2="362.4" stroke="#222" stroke-width="0.5" />
<line x1="127.9" y1="361.3" x2="127.9" y2="362.4" stroke="#222" stroke-width="0.5" />
<line x1="129.79" y1="361.3" x2="129.79" y2="362.4" stroke="#222" stroke-width="0.5" />
<line x1="131.25" y1="361.3" x2="131.25" y2="362.4" stroke="#222" stroke-width="0.5" />
<line x1="132.45" y1="361.3" x2="132.45" y2="362.4" stroke="#222" stroke-width="0.5" />
<line x1="133.46" y1="361.3" x2="133.46" y2="362.4" stroke="#222" stroke-width="0.5" />
<line x1="134.34" y1="361.3" x2="134.34" y2="362.4" stroke="#222" stroke-width="0.5" />
<line x1="135.11" y1="361.3" x2="135.11" y2="362.4" stroke="#222" stroke-width="0.5" />
<text x="86.7" y="374" font-size="5.8" text-anchor="middle" fill="#1e1e1e" stroke="#1e1e1e" stroke-width="0.15">0</text>
<text x="104.5" y="374" font-size="5.8" text-anchor="middle" fill="#1e1e1e" stroke="#1e1e1e" stroke-width="0.15">10<tspan font-size="3.6" dy="-2.2">3</tspan></text>
<text x="120.7" y="374" font-size="5.8" text-anchor="middle" fill="#1e1e1e" stroke="#1e1e1e" stroke-width="0.15">10<tspan font-size="3.6" dy="-2.2">4</tspan></text>
<text x="135.8" y="374" font-size="5.8" text-anchor="middle" fill="#1e1e1e" stroke="#1e1e1e" stroke-width="0.15">10<tspan font-size="3.6" dy="-2.2">5</tspan></text>
<text x="109.3" y="385.5" font-size="8.5" text-anchor="middle" fill="#1e1e1e" stroke="#1e1e1e" stroke-width="0.15" textLength="20" lengthAdjust="spacingAndGlyphs">CD116</text>
<path d="M145.9,361.5 L145.9,361.5 L146.4,361.5 L146.9,361.5 L147.4,361.5 L147.9,361.5 L148.4,361.5 L148.9,361.5 L149.4,361.5 L149.9,361.5 L150.4,361.5 L150.9,361.5 L151.4,361.49 L151.9,361.48 L152.4,361.45 L152.9,361.39 L153.4,361.25 L153.9,360.93 L154.4,360.27 L154.9,358.98 L155.4,356.75 L155.9,353.5 L156.4,349.61 L156.9,345.66 L157.4,342.05 L157.9,338.76 L158.4,335.75 L158.9,333.31 L159.4,332.01 L159.9,332.16 L160.4,333.36 L160.9,335.47 L161.4,338.29 L161.9,341.55 L162.4,344.98 L162.9,348.32 L163.4,351.36 L163.9,353.99 L164.4,356.13 L164.9,357.81 L165.4,359.05 L165.9,359.93 L166.4,360.54 L166.9,360.93 L167.4,361.17 L167.9,361.32 L168.4,361.4 L168.9,361.45 L169.4,361.48 L169.9,361.49 L170.4,361.49 L170.9,361.5 L171.4,361.5 L171.9,361.5 L172.4,361.5 L172.9,361.5 L173.4,361.5 L173.9,361.5 L174.4,361.5 L174.9,361.5 L175.4,361.5 L175.9,361.5 L176.4,361.5 L176.9,361.5 L177.4,361.5 L177.9,361.5 L178.4,361.5 L178.9,361.5 L179.4,361.5 L179.9,361.5 L180.4,361.5 L180.9,361.5 L181.4,361.5 L181.9,361.5 L182.4,361.5 L182.9,361.5 L183.4,361.5 L183.9,361.5 L184.4,361.5 L184.9,361.5 L185.4,361.5 L185.9,361.5 L186.4,361.5 L186.9,361.5 L187.4,361.5 L187.9,361.5 L188.4,361.5 L188.9,361.5 L189.4,361.5 L189.9,361.5 L190.4,361.5 L190.9,361.5 L191.4,361.5 L191.9,361.5 L192.4,361.5 L192.9,361.5 L193.4,361.5 L193.9,361.5 L194.4,361.5 L194.9,361.5 L195.4,361.5 L195.9,361.5 L196.4,361.5 L196.9,361.5 L197.4,361.5 L197.9,361.5 L198.4,361.5 L198.9,361.5 L199.4,361.5 L199.9,361.5 L200.4,361.5 L200.9,361.5 L201.4,361.5 L201.9,361.5 L202.4,361.5 L202.9,361.5 L203.4,361.5 L203.9,361.5 L204.4,361.5 L204.9,361.5 L205.4,361.5 L205.9,361.5 L206.4,361.5 L206.9,361.5 L207.4,361.5 L207.9,361.5 L208.4,361.5 L208.9,361.5 L209.4,361.5 L209.9,361.5 L209.9,361.5 Z" fill="#f6ca96" stroke="#e8a050" stroke-width="0.8" stroke-linejoin="round"/>
<path d="M145.9,361.5 L145.9,361.5 L146.4,361.5 L146.9,361.5 L147.4,361.5 L147.9,361.5 L148.4,361.5 L148.9,361.5 L149.4,361.5 L149.9,361.5 L150.4,361.5 L150.9,361.5 L151.4,361.5 L151.9,361.5 L152.4,361.5 L152.9,361.5 L153.4,361.48 L153.9,361.39 L154.4,360.88 L154.9,359 L155.4,354.14 L155.9,345.59 L156.4,336.22 L156.9,332 L157.4,334.45 L157.9,340.65 L158.4,347.99 L158.9,354.14 L159.4,358.13 L159.9,360.2 L160.4,361.08 L160.9,361.39 L161.4,361.47 L161.9,361.49 L162.4,361.5 L162.9,361.5 L163.4,361.5 L163.9,361.5 L164.4,361.5 L164.9,361.5 L165.4,361.5 L165.9,361.5 L166.4,361.5 L166.9,361.5 L167.4,361.5 L167.9,361.5 L168.4,361.5 L168.9,361.5 L169.4,361.5 L169.9,361.5 L170.4,361.5 L170.9,361.5 L171.4,361.5 L171.9,361.5 L172.4,361.5 L172.9,361.5 L173.4,361.5 L173.9,361.5 L174.4,361.5 L174.9,361.5 L175.4,361.5 L175.9,361.5 L176.4,361.5 L176.9,361.5 L177.4,361.5 L177.9,361.5 L178.4,361.5 L178.9,361.5 L179.4,361.5 L179.9,361.5 L180.4,361.5 L180.9,361.5 L181.4,361.5 L181.9,361.5 L182.4,361.5 L182.9,361.5 L183.4,361.5 L183.9,361.5 L184.4,361.5 L184.9,361.5 L185.4,361.5 L185.9,361.5 L186.4,361.5 L186.9,361.5 L187.4,361.5 L187.9,361.5 L188.4,361.5 L188.9,361.5 L189.4,361.5 L189.9,361.5 L190.4,361.5 L190.9,361.5 L191.4,361.5 L191.9,361.5 L192.4,361.5 L192.9,361.5 L193.4,361.5 L193.9,361.5 L194.4,361.5 L194.9,361.5 L195.4,361.5 L195.9,361.5 L196.4,361.5 L196.9,361.5 L197.4,361.5 L197.9,361.5 L198.4,361.5 L198.9,361.5 L199.4,361.5 L199.9,361.5 L200.4,361.5 L200.9,361.5 L201.4,361.5 L201.9,361.5 L202.4,361.5 L202.9,361.5 L203.4,361.5 L203.9,361.5 L204.4,361.5 L204.9,361.5 L205.4,361.5 L205.9,361.5 L206.4,361.5 L206.9,361.5 L207.4,361.5 L207.9,361.5 L208.4,361.5 L208.9,361.5 L209.4,361.5 L209.9,361.5" fill="none" stroke="#111" stroke-width="0.9" stroke-linejoin="round" stroke-dasharray="0.9,0.9"/>
<rect x="145.5" y="327.5" width="65" height="34" fill="none" stroke="#262626" stroke-width="1.15" />
<text x="177.95" y="322.7" font-size="8.8" text-anchor="middle" fill="#1e1e1e" stroke="#1e1e1e" stroke-width="0.15" textLength="22.3" lengthAdjust="spacingAndGlyphs">MPP2</text>
<text x="196" y="338.6" font-size="6.7" text-anchor="middle" fill="#1e1e1e" stroke="#1e1e1e" stroke-width="0.15">147</text>
<rect x="150.4" y="361.6" width="4.5" height="1.6" fill="#111"/>
<line x1="155.9" y1="361.3" x2="155.9" y2="363.3" stroke="#222" stroke-width="0.7" />
<line x1="173.7" y1="361.3" x2="173.7" y2="363.3" stroke="#222" stroke-width="0.7" />
<line x1="189.9" y1="361.3" x2="189.9" y2="363.3" stroke="#222" stroke-width="0.7" />
<line x1="205" y1="361.3" x2="205" y2="363.3" stroke="#222" stroke-width="0.7" />
<line x1="161.26" y1="361.3" x2="161.26" y2="362.4" stroke="#222" stroke-width="0.5" />
<line x1="164.39" y1="361.3" x2="164.39" y2="362.4" stroke="#222" stroke-width="0.5" />
<line x1="166.62" y1="361.3" x2="166.62" y2="362.4" stroke="#222" stroke-width="0.5" />
<line x1="168.34" y1="361.3" x2="168.34" y2="362.4" stroke="#222" stroke-width="0.5" />
<line x1="169.75" y1="361.3" x2="169.75" y2="362.4" stroke="#222" stroke-width="0.5" />
<line x1="170.94" y1="361.3" x2="170.94" y2="362.4" stroke="#222" stroke-width="0.5" />
<line x1="171.98" y1="361.3" x2="171.98" y2="362.4" stroke="#222" stroke-width="0.5" />
<line x1="172.89" y1="361.3" x2="172.89" y2="362.4" stroke="#222" stroke-width="0.5" />
<line x1="178.58" y1="361.3" x2="178.58" y2="362.4" stroke="#222" stroke-width="0.5" />
<line x1="181.43" y1="361.3" x2="181.43" y2="362.4" stroke="#222" stroke-width="0.5" />
<line x1="183.45" y1="361.3" x2="183.45" y2="362.4" stroke="#222" stroke-width="0.5" />
<line x1="185.02" y1="361.3" x2="185.02" y2="362.4" stroke="#222" stroke-width="0.5" />
<line x1="186.31" y1="361.3" x2="186.31" y2="362.4" stroke="#222" stroke-width="0.5" />
<line x1="187.39" y1="361.3" x2="187.39" y2="362.4" stroke="#222" stroke-width="0.5" />
<line x1="188.33" y1="361.3" x2="188.33" y2="362.4" stroke="#222" stroke-width="0.5" />
<line x1="189.16" y1="361.3" x2="189.16" y2="362.4" stroke="#222" stroke-width="0.5" />
<line x1="194.45" y1="361.3" x2="194.45" y2="362.4" stroke="#222" stroke-width="0.5" />
<line x1="197.1" y1="361.3" x2="197.1" y2="362.4" stroke="#222" stroke-width="0.5" />
<line x1="198.99" y1="361.3" x2="198.99" y2="362.4" stroke="#222" stroke-width="0.5" />
<line x1="200.45" y1="361.3" x2="200.45" y2="362.4" stroke="#222" stroke-width="0.5" />
<line x1="201.65" y1="361.3" x2="201.65" y2="362.4" stroke="#222" stroke-width="0.5" />
<line x1="202.66" y1="361.3" x2="202.66" y2="362.4" stroke="#222" stroke-width="0.5" />
<line x1="203.54" y1="361.3" x2="203.54" y2="362.4" stroke="#222" stroke-width="0.5" />
<line x1="204.31" y1="361.3" x2="204.31" y2="362.4" stroke="#222" stroke-width="0.5" />
<text x="155.9" y="374" font-size="5.8" text-anchor="middle" fill="#1e1e1e" stroke="#1e1e1e" stroke-width="0.15">0</text>
<text x="173.7" y="374" font-size="5.8" text-anchor="middle" fill="#1e1e1e" stroke="#1e1e1e" stroke-width="0.15">10<tspan font-size="3.6" dy="-2.2">3</tspan></text>
<text x="189.9" y="374" font-size="5.8" text-anchor="middle" fill="#1e1e1e" stroke="#1e1e1e" stroke-width="0.15">10<tspan font-size="3.6" dy="-2.2">4</tspan></text>
<text x="205" y="374" font-size="5.8" text-anchor="middle" fill="#1e1e1e" stroke="#1e1e1e" stroke-width="0.15">10<tspan font-size="3.6" dy="-2.2">5</tspan></text>
<text x="178.5" y="385.5" font-size="8.5" text-anchor="middle" fill="#1e1e1e" stroke="#1e1e1e" stroke-width="0.15" textLength="20" lengthAdjust="spacingAndGlyphs">CD116</text>
<path d="M215.1,361.5 L215.1,361.5 L215.6,361.5 L216.1,361.5 L216.6,361.5 L217.1,361.5 L217.6,361.5 L218.1,361.5 L218.6,361.5 L219.1,361.5 L219.6,361.5 L220.1,361.5 L220.6,361.5 L221.1,361.49 L221.6,361.47 L222.1,361.42 L222.6,361.27 L223.1,360.92 L223.6,360.16 L224.1,358.71 L224.6,356.24 L225.1,352.5 L225.6,347.54 L226.1,341.85 L226.6,336.41 L227.1,332.45 L227.6,331 L228.1,331.78 L228.6,333.99 L229.1,337.33 L229.6,341.32 L230.1,345.51 L230.6,349.46 L231.1,352.9 L231.6,355.66 L232.1,357.73 L232.6,359.19 L233.1,360.16 L233.6,360.76 L234.1,361.11 L234.6,361.31 L235.1,361.41 L235.6,361.46 L236.1,361.48 L236.6,361.49 L237.1,361.5 L237.6,361.5 L238.1,361.5 L238.6,361.5 L239.1,361.5 L239.6,361.5 L240.1,361.5 L240.6,361.5 L241.1,361.5 L241.6,361.5 L242.1,361.5 L242.6,361.5 L243.1,361.5 L243.6,361.5 L244.1,361.5 L244.6,361.5 L245.1,361.5 L245.6,361.5 L246.1,361.5 L246.6,361.5 L247.1,361.5 L247.6,361.5 L248.1,361.5 L248.6,361.5 L249.1,361.5 L249.6,361.5 L250.1,361.5 L250.6,361.5 L251.1,361.5 L251.6,361.5 L252.1,361.5 L252.6,361.5 L253.1,361.5 L253.6,361.5 L254.1,361.5 L254.6,361.5 L255.1,361.5 L255.6,361.5 L256.1,361.5 L256.6,361.5 L257.1,361.5 L257.6,361.5 L258.1,361.5 L258.6,361.5 L259.1,361.5 L259.6,361.5 L260.1,361.5 L260.6,361.5 L261.1,361.5 L261.6,361.5 L262.1,361.5 L262.6,361.5 L263.1,361.5 L263.6,361.5 L264.1,361.5 L264.6,361.5 L265.1,361.5 L265.6,361.5 L266.1,361.5 L266.6,361.5 L267.1,361.5 L267.6,361.5 L268.1,361.5 L268.6,361.5 L269.1,361.5 L269.6,361.5 L270.1,361.5 L270.6,361.5 L271.1,361.5 L271.6,361.5 L272.1,361.5 L272.6,361.5 L273.1,361.5 L273.6,361.5 L274.1,361.5 L274.6,361.5 L275.1,361.5 L275.6,361.5 L276.1,361.5 L276.6,361.5 L277.1,361.5 L277.6,361.5 L278.1,361.5 L278.6,361.5 L279.1,361.5 L279.6,361.5 L279.6,361.5 Z" fill="#f6ca96" stroke="#e8a050" stroke-width="0.8" stroke-linejoin="round"/>
<path d="M215.1,361.5 L215.1,361.5 L215.6,361.5 L216.1,361.5 L216.6,361.5 L217.1,361.5 L217.6,361.5 L218.1,361.5 L218.6,361.5 L219.1,361.5 L219.6,361.5 L220.1,361.5 L220.6,361.5 L221.1,361.5 L221.6,361.5 L222.1,361.5 L222.6,361.5 L223.1,361.47 L223.6,361.32 L224.1,360.72 L224.6,358.83 L225.1,354.43 L225.6,346.9 L226.1,338.02 L226.6,332.09 L227.1,332.29 L227.6,336.68 L228.1,343.3 L228.6,350 L229.1,355.23 L229.6,358.55 L230.1,360.3 L230.6,361.08 L231.1,361.37 L231.6,361.47 L232.1,361.49 L232.6,361.5 L233.1,361.5 L233.6,361.5 L234.1,361.5 L234.6,361.5 L235.1,361.5 L235.6,361.5 L236.1,361.5 L236.6,361.5 L237.1,361.5 L237.6,361.5 L238.1,361.5 L238.6,361.5 L239.1,361.5 L239.6,361.5 L240.1,361.5 L240.6,361.5 L241.1,361.5 L241.6,361.5 L242.1,361.5 L242.6,361.5 L243.1,361.5 L243.6,361.5 L244.1,361.5 L244.6,361.5 L245.1,361.5 L245.6,361.5 L246.1,361.5 L246.6,361.5 L247.1,361.5 L247.6,361.5 L248.1,361.5 L248.6,361.5 L249.1,361.5 L249.6,361.5 L250.1,361.5 L250.6,361.5 L251.1,361.5 L251.6,361.5 L252.1,361.5 L252.6,361.5 L253.1,361.5 L253.6,361.5 L254.1,361.5 L254.6,361.5 L255.1,361.5 L255.6,361.5 L256.1,361.5 L256.6,361.5 L257.1,361.5 L257.6,361.5 L258.1,361.5 L258.6,361.5 L259.1,361.5 L259.6,361.5 L260.1,361.5 L260.6,361.5 L261.1,361.5 L261.6,361.5 L262.1,361.5 L262.6,361.5 L263.1,361.5 L263.6,361.5 L264.1,361.5 L264.6,361.5 L265.1,361.5 L265.6,361.5 L266.1,361.5 L266.6,361.5 L267.1,361.5 L267.6,361.5 L268.1,361.5 L268.6,361.5 L269.1,361.5 L269.6,361.5 L270.1,361.5 L270.6,361.5 L271.1,361.5 L271.6,361.5 L272.1,361.5 L272.6,361.5 L273.1,361.5 L273.6,361.5 L274.1,361.5 L274.6,361.5 L275.1,361.5 L275.6,361.5 L276.1,361.5 L276.6,361.5 L277.1,361.5 L277.6,361.5 L278.1,361.5 L278.6,361.5 L279.1,361.5 L279.6,361.5" fill="none" stroke="#111" stroke-width="0.9" stroke-linejoin="round" stroke-dasharray="0.9,0.9"/>
<rect x="214.5" y="327.5" width="66" height="34" fill="none" stroke="#262626" stroke-width="1.15" />
<text x="247.55" y="322.7" font-size="8.8" text-anchor="middle" fill="#1e1e1e" stroke="#1e1e1e" stroke-width="0.15" textLength="22" lengthAdjust="spacingAndGlyphs">MPP3</text>
<text x="267.4" y="338.6" font-size="6.7" text-anchor="middle" fill="#1e1e1e" stroke="#1e1e1e" stroke-width="0.15">93</text>
<rect x="219.6" y="361.6" width="4.5" height="1.6" fill="#111"/>
<line x1="225.1" y1="361.3" x2="225.1" y2="363.3" stroke="#222" stroke-width="0.7" />
<line x1="242.9" y1="361.3" x2="242.9" y2="363.3" stroke="#222" stroke-width="0.7" />
<line x1="259.1" y1="361.3" x2="259.1" y2="363.3" stroke="#222" stroke-width="0.7" />
<line x1="274.2" y1="361.3" x2="274.2" y2="363.3" stroke="#222" stroke-width="0.7" />
<line x1="230.46" y1="361.3" x2="230.46" y2="362.4" stroke="#222" stroke-width="0.5" />
<line x1="233.59" y1="361.3" x2="233.59" y2="362.4" stroke="#222" stroke-width="0.5" />
<line x1="235.82" y1="361.3" x2="235.82" y2="362.4" stroke="#222" stroke-width="0.5" />
<line x1="237.54" y1="361.3" x2="237.54" y2="362.4" stroke="#222" stroke-width="0.5" />
<line x1="238.95" y1="361.3" x2="238.95" y2="362.4" stroke="#222" stroke-width="0.5" />
<line x1="240.14" y1="361.3" x2="240.14" y2="362.4" stroke="#222" stroke-width="0.5" />
<line x1="241.18" y1="361.3" x2="241.18" y2="362.4" stroke="#222" stroke-width="0.5" />
<line x1="242.09" y1="361.3" x2="242.09" y2="362.4" stroke="#222" stroke-width="0.5" />
<line x1="247.78" y1="361.3" x2="247.78" y2="362.4" stroke="#222" stroke-width="0.5" />
<line x1="250.63" y1="361.3" x2="250.63" y2="362.4" stroke="#222" stroke-width="0.5" />
<line x1="252.65" y1="361.3" x2="252.65" y2="362.4" stroke="#222" stroke-width="0.5" />
<line x1="254.22" y1="361.3" x2="254.22" y2="362.4" stroke="#222" stroke-width="0.5" />
<line x1="255.51" y1="361.3" x2="255.51" y2="362.4" stroke="#222" stroke-width="0.5" />
<line x1="256.59" y1="361.3" x2="256.59" y2="362.4" stroke="#222" stroke-width="0.5" />
<line x1="257.53" y1="361.3" x2="257.53" y2="362.4" stroke="#222" stroke-width="0.5" />
<line x1="258.36" y1="361.3" x2="258.36" y2="362.4" stroke="#222" stroke-width="0.5" />
<line x1="263.65" y1="361.3" x2="263.65" y2="362.4" stroke="#222" stroke-width="0.5" />
<line x1="266.3" y1="361.3" x2="266.3" y2="362.4" stroke="#222" stroke-width="0.5" />
<line x1="268.19" y1="361.3" x2="268.19" y2="362.4" stroke="#222" stroke-width="0.5" />
<line x1="269.65" y1="361.3" x2="269.65" y2="362.4" stroke="#222" stroke-width="0.5" />
<line x1="270.85" y1="361.3" x2="270.85" y2="362.4" stroke="#222" stroke-width="0.5" />
<line x1="271.86" y1="361.3" x2="271.86" y2="362.4" stroke="#222" stroke-width="0.5" />
<line x1="272.74" y1="361.3" x2="272.74" y2="362.4" stroke="#222" stroke-width="0.5" />
<line x1="273.51" y1="361.3" x2="273.51" y2="362.4" stroke="#222" stroke-width="0.5" />
<text x="225.1" y="374" font-size="5.8" text-anchor="middle" fill="#1e1e1e" stroke="#1e1e1e" stroke-width="0.15">0</text>
<text x="242.9" y="374" font-size="5.8" text-anchor="middle" fill="#1e1e1e" stroke="#1e1e1e" stroke-width="0.15">10<tspan font-size="3.6" dy="-2.2">3</tspan></text>
<text x="259.1" y="374" font-size="5.8" text-anchor="middle" fill="#1e1e1e" stroke="#1e1e1e" stroke-width="0.15">10<tspan font-size="3.6" dy="-2.2">4</tspan></text>
<text x="274.2" y="374" font-size="5.8" text-anchor="middle" fill="#1e1e1e" stroke="#1e1e1e" stroke-width="0.15">10<tspan font-size="3.6" dy="-2.2">5</tspan></text>
<text x="247.7" y="385.5" font-size="8.5" text-anchor="middle" fill="#1e1e1e" stroke="#1e1e1e" stroke-width="0.15" textLength="20" lengthAdjust="spacingAndGlyphs">CD116</text>
<path d="M284,361.5 L284,361.5 L284.5,361.5 L285,361.5 L285.5,361.5 L286,361.5 L286.5,361.5 L287,361.5 L287.5,361.5 L288,361.5 L288.5,361.5 L289,361.5 L289.5,361.49 L290,361.48 L290.5,361.44 L291,361.33 L291.5,361.09 L292,360.57 L292.5,359.55 L293,357.78 L293.5,354.97 L294,350.99 L294.5,345.98 L295,340.5 L295.5,335.43 L296,331.81 L296.5,330.5 L297,331.17 L297.5,333.08 L298,336 L298.5,339.59 L299,343.48 L299.5,347.31 L300,350.8 L300.5,353.77 L301,356.15 L301.5,357.96 L302,359.26 L302.5,360.14 L303,360.71 L303.5,361.06 L304,361.27 L304.5,361.38 L305,361.44 L305.5,361.47 L306,361.49 L306.5,361.49 L307,361.5 L307.5,361.5 L308,361.5 L308.5,361.5 L309,361.5 L309.5,361.5 L310,361.5 L310.5,361.5 L311,361.5 L311.5,361.5 L312,361.5 L312.5,361.5 L313,361.5 L313.5,361.5 L314,361.5 L314.5,361.5 L315,361.5 L315.5,361.5 L316,361.5 L316.5,361.5 L317,361.5 L317.5,361.5 L318,361.5 L318.5,361.5 L319,361.5 L319.5,361.5 L320,361.5 L320.5,361.5 L321,361.5 L321.5,361.5 L322,361.5 L322.5,361.5 L323,361.5 L323.5,361.5 L324,361.5 L324.5,361.5 L325,361.5 L325.5,361.5 L326,361.5 L326.5,361.5 L327,361.5 L327.5,361.5 L328,361.5 L328.5,361.5 L329,361.5 L329.5,361.5 L330,361.5 L330.5,361.5 L331,361.5 L331.5,361.5 L332,361.5 L332.5,361.5 L333,361.5 L333.5,361.5 L334,361.5 L334.5,361.5 L335,361.5 L335.5,361.5 L336,361.5 L336.5,361.5 L337,361.5 L337.5,361.5 L338,361.5 L338.5,361.5 L339,361.5 L339.5,361.5 L340,361.5 L340.5,361.5 L341,361.5 L341.5,361.5 L342,361.5 L342.5,361.5 L343,361.5 L343.5,361.5 L344,361.5 L344.5,361.5 L345,361.5 L345.5,361.5 L346,361.5 L346.5,361.5 L347,361.5 L347.5,361.5 L348,361.5 L348.5,361.5 L349,361.5 L349,361.5 Z" fill="#f6ca96" stroke="#e8a050" stroke-width="0.8" stroke-linejoin="round"/>
<path d="M284,361.5 L284,361.5 L284.5,361.5 L285,361.5 L285.5,361.5 L286,361.5 L286.5,361.5 L287,361.5 L287.5,361.5 L288,361.5 L288.5,361.5 L289,361.5 L289.5,361.5 L290,361.5 L290.5,361.5 L291,361.5 L291.5,361.5 L292,361.47 L292.5,361.32 L293,360.72 L293.5,358.83 L294,354.43 L294.5,346.9 L295,338.02 L295.5,332.09 L296,332.18 L296.5,336.02 L297,342.01 L297.5,348.37 L298,353.72 L298.5,357.44 L299,359.64 L299.5,360.75 L300,361.23 L300.5,361.42 L301,361.48 L301.5,361.49 L302,361.5 L302.5,361.5 L303,361.5 L303.5,361.5 L304,361.5 L304.5,361.5 L305,361.5 L305.5,361.5 L306,361.5 L306.5,361.5 L307,361.5 L307.5,361.5 L308,361.5 L308.5,361.5 L309,361.5 L309.5,361.5 L310,361.5 L310.5,361.5 L311,361.5 L311.5,361.5 L312,361.5 L312.5,361.5 L313,361.5 L313.5,361.5 L314,361.5 L314.5,361.5 L315,361.5 L315.5,361.5 L316,361.5 L316.5,361.5 L317,361.5 L317.5,361.5 L318,361.5 L318.5,361.5 L319,361.5 L319.5,361.5 L320,361.5 L320.5,361.5 L321,361.5 L321.5,361.5 L322,361.5 L322.5,361.5 L323,361.5 L323.5,361.5 L324,361.5 L324.5,361.5 L325,361.5 L325.5,361.5 L326,361.5 L326.5,361.5 L327,361.5 L327.5,361.5 L328,361.5 L328.5,361.5 L329,361.5 L329.5,361.5 L330,361.5 L330.5,361.5 L331,361.5 L331.5,361.5 L332,361.5 L332.5,361.5 L333,361.5 L333.5,361.5 L334,361.5 L334.5,361.5 L335,361.5 L335.5,361.5 L336,361.5 L336.5,361.5 L337,361.5 L337.5,361.5 L338,361.5 L338.5,361.5 L339,361.5 L339.5,361.5 L340,361.5 L340.5,361.5 L341,361.5 L341.5,361.5 L342,361.5 L342.5,361.5 L343,361.5 L343.5,361.5 L344,361.5 L344.5,361.5 L345,361.5 L345.5,361.5 L346,361.5 L346.5,361.5 L347,361.5 L347.5,361.5 L348,361.5 L348.5,361.5 L349,361.5" fill="none" stroke="#111" stroke-width="0.9" stroke-linejoin="round" stroke-dasharray="0.9,0.9"/>
<rect x="283.5" y="327.5" width="66" height="34" fill="none" stroke="#262626" stroke-width="1.15" />
<text x="316.55" y="322.7" font-size="8.8" text-anchor="middle" fill="#1e1e1e" stroke="#1e1e1e" stroke-width="0.15" textLength="22.5" lengthAdjust="spacingAndGlyphs">MPP4</text>
<text x="334.6" y="338.6" font-size="6.7" text-anchor="middle" fill="#1e1e1e" stroke="#1e1e1e" stroke-width="0.15">126</text>
<rect x="288.5" y="361.6" width="4.5" height="1.6" fill="#111"/>
<line x1="294" y1="361.3" x2="294" y2="363.3" stroke="#222" stroke-width="0.7" />
<line x1="311.8" y1="361.3" x2="311.8" y2="363.3" stroke="#222" stroke-width="0.7" />
<line x1="328" y1="361.3" x2="328" y2="363.3" stroke="#222" stroke-width="0.7" />
<line x1="343.1" y1="361.3" x2="343.1" y2="363.3" stroke="#222" stroke-width="0.7" />
<line x1="299.36" y1="361.3" x2="299.36" y2="362.4" stroke="#222" stroke-width="0.5" />
<line x1="302.49" y1="361.3" x2="302.49" y2="362.4" stroke="#222" stroke-width="0.5" />
<line x1="304.72" y1="361.3" x2="304.72" y2="362.4" stroke="#222" stroke-width="0.5" />
<line x1="306.44" y1="361.3" x2="306.44" y2="362.4" stroke="#222" stroke-width="0.5" />
<line x1="307.85" y1="361.3" x2="307.85" y2="362.4" stroke="#222" stroke-width="0.5" />
<line x1="309.04" y1="361.3" x2="309.04" y2="362.4" stroke="#222" stroke-width="0.5" />
<line x1="310.08" y1="361.3" x2="310.08" y2="362.4" stroke="#222" stroke-width="0.5" />
<line x1="310.99" y1="361.3" x2="310.99" y2="362.4" stroke="#222" stroke-width="0.5" />
<line x1="316.68" y1="361.3" x2="316.68" y2="362.4" stroke="#222" stroke-width="0.5" />
<line x1="319.53" y1="361.3" x2="319.53" y2="362.4" stroke="#222" stroke-width="0.5" />
<line x1="321.55" y1="361.3" x2="321.55" y2="362.4" stroke="#222" stroke-width="0.5" />
<line x1="323.12" y1="361.3" x2="323.12" y2="362.4" stroke="#222" stroke-width="0.5" />
<line x1="324.41" y1="361.3" x2="324.41" y2="362.4" stroke="#222" stroke-width="0.5" />
<line x1="325.49" y1="361.3" x2="325.49" y2="362.4" stroke="#222" stroke-width="0.5" />
<line x1="326.43" y1="361.3" x2="326.43" y2="362.4" stroke="#222" stroke-width="0.5" />
<line x1="327.26" y1="361.3" x2="327.26" y2="362.4" stroke="#222" stroke-width="0.5" />
<line x1="332.55" y1="361.3" x2="332.55" y2="362.4" stroke="#222" stroke-width="0.5" />
<line x1="335.2" y1="361.3" x2="335.2" y2="362.4" stroke="#222" stroke-width="0.5" />
<line x1="337.09" y1="361.3" x2="337.09" y2="362.4" stroke="#222" stroke-width="0.5" />
<line x1="338.55" y1="361.3" x2="338.55" y2="362.4" stroke="#222" stroke-width="0.5" />
<line x1="339.75" y1="361.3" x2="339.75" y2="362.4" stroke="#222" stroke-width="0.5" />
<line x1="340.76" y1="361.3" x2="340.76" y2="362.4" stroke="#222" stroke-width="0.5" />
<line x1="341.64" y1="361.3" x2="341.64" y2="362.4" stroke="#222" stroke-width="0.5" />
<line x1="342.41" y1="361.3" x2="342.41" y2="362.4" stroke="#222" stroke-width="0.5" />
<text x="294" y="374" font-size="5.8" text-anchor="middle" fill="#1e1e1e" stroke="#1e1e1e" stroke-width="0.15">0</text>
<text x="311.8" y="374" font-size="5.8" text-anchor="middle" fill="#1e1e1e" stroke="#1e1e1e" stroke-width="0.15">10<tspan font-size="3.6" dy="-2.2">3</tspan></text>
<text x="328" y="374" font-size="5.8" text-anchor="middle" fill="#1e1e1e" stroke="#1e1e1e" stroke-width="0.15">10<tspan font-size="3.6" dy="-2.2">4</tspan></text>
<text x="343.1" y="374" font-size="5.8" text-anchor="middle" fill="#1e1e1e" stroke="#1e1e1e" stroke-width="0.15">10<tspan font-size="3.6" dy="-2.2">5</tspan></text>
<text x="316.6" y="385.5" font-size="8.5" text-anchor="middle" fill="#1e1e1e" stroke="#1e1e1e" stroke-width="0.15" textLength="20" lengthAdjust="spacingAndGlyphs">CD116</text>
<rect x="355.6" y="336.4" width="6" height="5.6" fill="none" stroke="#333" stroke-width="0.7" stroke-dasharray="1,0.8"/>
<text x="364.5" y="341.6" font-size="6.4" text-anchor="start" fill="#1e1e1e" stroke="#1e1e1e" stroke-width="0.15">i.c.</text>
<rect x="355.4" y="346.6" width="6.5" height="6.2" fill="#f5c48c" stroke="none" stroke-width="1" />
<text x="364.5" y="352" font-size="6.8" text-anchor="start" fill="#1e1e1e" stroke="#1e1e1e" stroke-width="0.15" textLength="19.3" lengthAdjust="spacingAndGlyphs">CD116</text>
<rect x="423" y="336.3" width="6.4" height="25" fill="#f5c48c" stroke="none" stroke-width="1" />
<rect x="433.3" y="330.6" width="6.3" height="30.7" fill="#f5c48c" stroke="none" stroke-width="1" />
<rect x="443.5" y="322.9" width="6.5" height="38.4" fill="#f5c48c" stroke="none" stroke-width="1" />
<rect x="454" y="331.5" width="6.2" height="29.8" fill="#f5c48c" stroke="none" stroke-width="1" />
<rect x="464" y="324.8" width="6.4" height="36.5" fill="#f5c48c" stroke="none" stroke-width="1" />
<line x1="418" y1="361.5" x2="474.6" y2="361.5" stroke="#222" stroke-width="1.15" />
<line x1="418.5" y1="306.5" x2="418.5" y2="362" stroke="#222" stroke-width="1.15" />
<line x1="416.6" y1="361.3" x2="418.8" y2="361.3" stroke="#222" stroke-width="0.9" />
<line x1="416.6" y1="347.85" x2="418.8" y2="347.85" stroke="#222" stroke-width="0.9" />
<line x1="416.6" y1="334.4" x2="418.8" y2="334.4" stroke="#222" stroke-width="0.9" />
<line x1="416.6" y1="320.95" x2="418.8" y2="320.95" stroke="#222" stroke-width="0.9" />
<line x1="416.6" y1="307.5" x2="418.8" y2="307.5" stroke="#222" stroke-width="0.9" />
<text x="413.2" y="363.45" font-size="6" text-anchor="end" fill="#1e1e1e" stroke="#1e1e1e" stroke-width="0.15">0</text>
<text x="413.2" y="336.55" font-size="6" text-anchor="end" fill="#1e1e1e" stroke="#1e1e1e" stroke-width="0.15">1</text>
<text x="399.8" y="334" font-size="7.3" text-anchor="middle" fill="#1e1e1e" stroke="#1e1e1e" stroke-width="0.15" textLength="50.5" lengthAdjust="spacingAndGlyphs" transform="rotate(-90 399.8 334)" dominant-baseline="central">CD116 MFI x 10<tspan font-size="4.2" dy="-2.4">2</tspan></text>
<line x1="426.2" y1="361.3" x2="426.2" y2="363.3" stroke="#222" stroke-width="0.8" />
<line x1="426.2" y1="334.4" x2="426.2" y2="337.3" stroke="#222" stroke-width="0.9" />
<path d="M424.8,333.9 L427.6,333.9 L426.75,335.7 L425.65,335.7 Z" fill="#222"/>
<line x1="436.45" y1="361.3" x2="436.45" y2="363.3" stroke="#222" stroke-width="0.8" />
<line x1="436.45" y1="328.3" x2="436.45" y2="331.6" stroke="#222" stroke-width="0.9" />
<path d="M435.05,327.8 L437.85,327.8 L437,329.6 L435.9,329.6 Z" fill="#222"/>
<line x1="446.75" y1="361.3" x2="446.75" y2="363.3" stroke="#222" stroke-width="0.8" />
<line x1="446.75" y1="322.5" x2="446.75" y2="323.9" stroke="#222" stroke-width="0.9" />
<path d="M445.35,322 L448.15,322 L447.3,323.8 L446.2,323.8 Z" fill="#222"/>
<line x1="457.1" y1="361.3" x2="457.1" y2="363.3" stroke="#222" stroke-width="0.8" />
<line x1="457.1" y1="323.8" x2="457.1" y2="332.5" stroke="#222" stroke-width="0.9" />
<path d="M455.7,323.3 L458.5,323.3 L457.65,325.1 L456.55,325.1 Z" fill="#222"/>
<line x1="467.2" y1="361.3" x2="467.2" y2="363.3" stroke="#222" stroke-width="0.8" />
<line x1="467.2" y1="320" x2="467.2" y2="325.8" stroke="#222" stroke-width="0.9" />
<path d="M465.8,319.5 L468.6,319.5 L467.75,321.3 L466.65,321.3 Z" fill="#222"/>
<text x="429" y="369.3" font-size="6.6" text-anchor="end" fill="#1e1e1e" stroke="#1e1e1e" stroke-width="0.15" transform="rotate(-45 429 369.3)">LT-HSC</text>
<text x="439.3" y="369.3" font-size="6.6" text-anchor="end" fill="#1e1e1e" stroke="#1e1e1e" stroke-width="0.15" transform="rotate(-45 439.3 369.3)">ST-HSC</text>
<text x="449.6" y="369.3" font-size="6.6" text-anchor="end" fill="#1e1e1e" stroke="#1e1e1e" stroke-width="0.15" transform="rotate(-45 449.6 369.3)">MPP2</text>
<text x="459.9" y="369.3" font-size="6.6" text-anchor="end" fill="#1e1e1e" stroke="#1e1e1e" stroke-width="0.15" transform="rotate(-45 459.9 369.3)">MPP3</text>
<text x="470" y="369.3" font-size="6.6" text-anchor="end" fill="#1e1e1e" stroke="#1e1e1e" stroke-width="0.15" transform="rotate(-45 470 369.3)">MPP4</text>
<text x="33.55" y="426.4" font-size="8.6" text-anchor="middle" fill="#1e1e1e" stroke="#1e1e1e" stroke-width="0.15" textLength="30" lengthAdjust="spacingAndGlyphs">LT-HSC-</text>
<text x="33.55" y="435.8" font-size="7.8" text-anchor="middle" fill="#1e1e1e" stroke="#1e1e1e" stroke-width="0.15" textLength="42.5" lengthAdjust="spacingAndGlyphs">derived mϕ</text>
<line x1="7" y1="441" x2="60.6" y2="441" stroke="#555" stroke-width="1.4" />
<text x="91.15" y="426.4" font-size="8.6" text-anchor="middle" fill="#1e1e1e" stroke="#1e1e1e" stroke-width="0.15" textLength="32.3" lengthAdjust="spacingAndGlyphs">ST-HSC-</text>
<text x="91.15" y="435.8" font-size="7.8" text-anchor="middle" fill="#1e1e1e" stroke="#1e1e1e" stroke-width="0.15" textLength="42.5" lengthAdjust="spacingAndGlyphs">derived mϕ</text>
<line x1="65" y1="441" x2="117.8" y2="441" stroke="#555" stroke-width="1.4" />
<text x="148" y="426.4" font-size="8.6" text-anchor="middle" fill="#1e1e1e" stroke="#1e1e1e" stroke-width="0.15" textLength="25.2" lengthAdjust="spacingAndGlyphs">MPP2-</text>
<text x="148" y="435.8" font-size="7.8" text-anchor="middle" fill="#1e1e1e" stroke="#1e1e1e" stroke-width="0.15" textLength="42.5" lengthAdjust="spacingAndGlyphs">derived mϕ</text>
<line x1="121.9" y1="441" x2="174.6" y2="441" stroke="#555" stroke-width="1.4" />
<text x="205.1" y="426.4" font-size="8.6" text-anchor="middle" fill="#1e1e1e" stroke="#1e1e1e" stroke-width="0.15" textLength="25.2" lengthAdjust="spacingAndGlyphs">MPP3-</text>
<text x="205.1" y="435.8" font-size="7.8" text-anchor="middle" fill="#1e1e1e" stroke="#1e1e1e" stroke-width="0.15" textLength="42.5" lengthAdjust="spacingAndGlyphs">derived mϕ</text>
<line x1="178.7" y1="441" x2="232" y2="441" stroke="#555" stroke-width="1.4" />
<path d="M15.5,479 L15.5,479 L17,477.5 L18.5,472 L20.5,466 L22,467.5 L23.5,471.5 L25,473.8 L27,473 L29.5,470.5 L32,467.5 L34,465 L36,461 L38,456 L39.5,452.5 L40.5,451 L41.2,449.4 L42,452 L43,450 L44,455 L46,462 L48,470 L50,475.5 L52,478.5 L54,479 L54,479 Z" fill="#a9d2f1" stroke="#3f93c9" stroke-width="0.8" stroke-linejoin="round"/>
<path d="M16.5,479 L16.5,479 L17.5,474 L18.5,452.5 L19.3,470 L20,477 L22,478.6 L26,479" fill="none" stroke="#222" stroke-width="0.7" stroke-linejoin="round"/>
<path d="M16,513 L16,513 L17,510 L18.5,500 L20,490 L21.5,483 L22.5,488 L23.5,496 L25,498.5 L27,497.5 L28.5,499 L30,496 L32,491.3 L34,487 L36,484.5 L38,482.5 L39.5,485 L41,487 L42.5,490 L44,496 L46,502 L48,509 L50,512.5 L52,513 L52,513 Z" fill="#e38d7f" stroke="#b8473f" stroke-width="0.8" stroke-linejoin="round"/>
<path d="M16.5,513 L16.5,513 L17.5,500 L18.2,487 L19,505 L20,512 L22,513" fill="none" stroke="#222" stroke-width="0.7" stroke-linejoin="round"/>
<path d="M73.5,479 L73.5,479 L75,476 L76.5,471 L78,468.5 L79.5,471 L81,474 L83,475 L86,473.5 L89,470 L92,465 L95,459 L97,454 L99,450.5 L100,449.5 L101,451 L102,452 L104,458 L106,466 L108,473 L110.5,478.5 L112,479 L112,479 Z" fill="#a9d2f1" stroke="#3f93c9" stroke-width="0.8" stroke-linejoin="round"/>
<path d="M74,479 L74,479 L75,472 L75.8,447.7 L76.6,468 L77.5,477 L80,479" fill="none" stroke="#222" stroke-width="0.7" stroke-linejoin="round"/>
<path d="M76,513 L76,513 L77.5,509 L79,505.6 L80.5,507.5 L83,509.4 L87,508 L90,505 L92,503 L93.5,497 L95,494 L96.5,488 L98,484 L99.5,484.5 L101,486 L102,489 L103,489 L104.5,494 L105.5,497 L107,508.4 L109.5,512 L111,513 L111,513 Z" fill="#e38d7f" stroke="#b8473f" stroke-width="0.8" stroke-linejoin="round"/>
<path d="M74,513 L74,513 L75,503 L75.6,488.8 L76.3,503 L77.5,512 L79,513" fill="none" stroke="#222" stroke-width="0.7" stroke-linejoin="round"/>
<path d="M131,479 L131,479 L132.5,477 L134.5,474 L136.5,475.5 L139,476 L142,475 L145,473.5 L148,471 L151,467 L153.5,462 L155.5,456 L157,451 L158,448.5 L159,450 L160,448 L161,452 L163,460 L165,470 L167,477 L168.5,479 L168.5,479 Z" fill="#a9d2f1" stroke="#3f93c9" stroke-width="0.8" stroke-linejoin="round"/>
<path d="M131,479 L131,479 L132,470 L132.7,453.5 L133.4,470 L134.5,478 L136,479" fill="none" stroke="#222" stroke-width="0.7" stroke-linejoin="round"/>
<path d="M132.5,513 L132.5,513 L134,505 L135.6,497.9 L137,503 L139,508 L141,506 L143,503.5 L145,503 L147,501 L149,497 L151,494 L152.5,492 L154,494 L155,489 L156.4,485.5 L157.5,489 L159,495 L160,497 L162,503 L163.5,508 L165,510.5 L167,513 L167,513 Z" fill="#e38d7f" stroke="#b8473f" stroke-width="0.8" stroke-linejoin="round"/>
<path d="M131,513 L131,513 L132,500 L132.7,487 L133.4,500 L134.5,511 L136,513" fill="none" stroke="#222" stroke-width="0.7" stroke-linejoin="round"/>
<path d="M188,479 L188,479 L189.5,477 L191,475 L193,476.5 L196,476 L199,474.5 L202,472 L205,468 L208,462 L210.5,457 L212.5,453 L214,451 L215.8,450.3 L217,452 L218.5,458 L220,467 L221.5,475 L223,479 L223,479 Z" fill="#a9d2f1" stroke="#3f93c9" stroke-width="0.8" stroke-linejoin="round"/>
<path d="M188,479 L188,479 L188.8,470 L189.4,451 L190,470 L191,478 L193,479" fill="none" stroke="#222" stroke-width="0.7" stroke-linejoin="round"/>
<path d="M188.8,513 L188.8,513 L189.5,500 L190.4,487.7 L191.5,495 L193,506 L195,507.5 L198,507 L201,505.5 L204,502 L207,499 L209,497.5 L210.9,496.5 L212.5,498 L214,502 L216,507 L218,511 L220,513 L220,513 Z" fill="#e38d7f" stroke="#9c3a33" stroke-width="0.9" stroke-linejoin="round"/>
<path d="M188.6,513 L188.6,513 L189.5,500 L190.2,488 L191,500 L192,511 L194,513" fill="none" stroke="#3a0f0f" stroke-width="0.8" stroke-linejoin="round"/>
<line x1="6.5" y1="479" x2="60.6" y2="479" stroke="#5a5a5a" stroke-width="0.9" />
<rect x="6.5" y="444.5" width="54" height="69" fill="none" stroke="#262626" stroke-width="1.15" />
<line x1="64.5" y1="479" x2="117.8" y2="479" stroke="#5a5a5a" stroke-width="0.9" />
<rect x="64.5" y="444.5" width="53" height="69" fill="none" stroke="#262626" stroke-width="1.15" />
<line x1="121.4" y1="479" x2="174.6" y2="479" stroke="#5a5a5a" stroke-width="0.9" />
<rect x="121.5" y="444.5" width="53" height="69" fill="none" stroke="#262626" stroke-width="1.15" />
<line x1="178.2" y1="479" x2="232" y2="479" stroke="#5a5a5a" stroke-width="0.9" />
<rect x="178.5" y="444.5" width="54" height="69" fill="none" stroke="#262626" stroke-width="1.15" />
<text x="58.8" y="452.6" font-size="6" text-anchor="end" fill="#1e1e1e" stroke="#1e1e1e" stroke-width="0.15">7964</text>
<text x="88" y="452.6" font-size="6" text-anchor="middle" fill="#1e1e1e" stroke="#1e1e1e" stroke-width="0.15">11057</text>
<text x="144.7" y="452.6" font-size="6" text-anchor="middle" fill="#1e1e1e" stroke="#1e1e1e" stroke-width="0.15">12941</text>
<text x="204" y="452.6" font-size="6" text-anchor="middle" fill="#1e1e1e" stroke="#1e1e1e" stroke-width="0.15">11069</text>
<text x="58.8" y="486.6" font-size="6" text-anchor="end" fill="#1e1e1e" stroke="#1e1e1e" stroke-width="0.15">4812</text>
<text x="88" y="486.6" font-size="6" text-anchor="middle" fill="#1e1e1e" stroke="#1e1e1e" stroke-width="0.15">8980</text>
<text x="146.2" y="486.6" font-size="6" text-anchor="middle" fill="#1e1e1e" stroke="#1e1e1e" stroke-width="0.15">7320</text>
<text x="205.5" y="486.6" font-size="6" text-anchor="middle" fill="#1e1e1e" stroke="#1e1e1e" stroke-width="0.15">3666</text>
<rect x="11.8" y="513.3" width="4.5" height="1.6" fill="#111"/>
<line x1="17.3" y1="513" x2="17.3" y2="515" stroke="#222" stroke-width="0.7" />
<line x1="28.3" y1="513" x2="28.3" y2="515" stroke="#222" stroke-width="0.7" />
<line x1="41.7" y1="513" x2="41.7" y2="515" stroke="#222" stroke-width="0.7" />
<line x1="53.5" y1="513" x2="53.5" y2="515" stroke="#222" stroke-width="0.7" />
<line x1="20.61" y1="513" x2="20.61" y2="514.1" stroke="#222" stroke-width="0.5" />
<line x1="22.55" y1="513" x2="22.55" y2="514.1" stroke="#222" stroke-width="0.5" />
<line x1="23.92" y1="513" x2="23.92" y2="514.1" stroke="#222" stroke-width="0.5" />
<line x1="24.99" y1="513" x2="24.99" y2="514.1" stroke="#222" stroke-width="0.5" />
<line x1="25.86" y1="513" x2="25.86" y2="514.1" stroke="#222" stroke-width="0.5" />
<line x1="26.6" y1="513" x2="26.6" y2="514.1" stroke="#222" stroke-width="0.5" />
<line x1="27.23" y1="513" x2="27.23" y2="514.1" stroke="#222" stroke-width="0.5" />
<line x1="27.8" y1="513" x2="27.8" y2="514.1" stroke="#222" stroke-width="0.5" />
<line x1="32.33" y1="513" x2="32.33" y2="514.1" stroke="#222" stroke-width="0.5" />
<line x1="34.69" y1="513" x2="34.69" y2="514.1" stroke="#222" stroke-width="0.5" />
<line x1="36.37" y1="513" x2="36.37" y2="514.1" stroke="#222" stroke-width="0.5" />
<line x1="37.67" y1="513" x2="37.67" y2="514.1" stroke="#222" stroke-width="0.5" />
<line x1="38.73" y1="513" x2="38.73" y2="514.1" stroke="#222" stroke-width="0.5" />
<line x1="39.62" y1="513" x2="39.62" y2="514.1" stroke="#222" stroke-width="0.5" />
<line x1="40.4" y1="513" x2="40.4" y2="514.1" stroke="#222" stroke-width="0.5" />
<line x1="41.09" y1="513" x2="41.09" y2="514.1" stroke="#222" stroke-width="0.5" />
<line x1="45.25" y1="513" x2="45.25" y2="514.1" stroke="#222" stroke-width="0.5" />
<line x1="47.33" y1="513" x2="47.33" y2="514.1" stroke="#222" stroke-width="0.5" />
<line x1="48.8" y1="513" x2="48.8" y2="514.1" stroke="#222" stroke-width="0.5" />
<line x1="49.95" y1="513" x2="49.95" y2="514.1" stroke="#222" stroke-width="0.5" />
<line x1="50.88" y1="513" x2="50.88" y2="514.1" stroke="#222" stroke-width="0.5" />
<line x1="51.67" y1="513" x2="51.67" y2="514.1" stroke="#222" stroke-width="0.5" />
<line x1="52.36" y1="513" x2="52.36" y2="514.1" stroke="#222" stroke-width="0.5" />
<line x1="52.96" y1="513" x2="52.96" y2="514.1" stroke="#222" stroke-width="0.5" />
<rect x="15" y="512.2" width="3" height="1.8" fill="#111" stroke="none" stroke-width="1" />
<text x="17.3" y="524.6" font-size="6.3" text-anchor="middle" fill="#1e1e1e" stroke="#1e1e1e" stroke-width="0.15">0</text>
<text x="28.3" y="524.6" font-size="6.3" text-anchor="middle" fill="#1e1e1e" stroke="#1e1e1e" stroke-width="0.15">10<tspan font-size="3.91" dy="-2.2">3</tspan></text>
<text x="41.7" y="524.6" font-size="6.3" text-anchor="middle" fill="#1e1e1e" stroke="#1e1e1e" stroke-width="0.15">10<tspan font-size="3.91" dy="-2.2">4</tspan></text>
<text x="53.5" y="524.6" font-size="6.3" text-anchor="middle" fill="#1e1e1e" stroke="#1e1e1e" stroke-width="0.15">10<tspan font-size="3.91" dy="-2.2">5</tspan></text>
<text x="33.7" y="535.7" font-size="7.6" text-anchor="middle" fill="#1e1e1e" stroke="#1e1e1e" stroke-width="0.15" textLength="18.6" lengthAdjust="spacingAndGlyphs">TNF-α</text>
<rect x="69.8" y="513.3" width="4.5" height="1.6" fill="#111"/>
<line x1="75.3" y1="513" x2="75.3" y2="515" stroke="#222" stroke-width="0.7" />
<line x1="86.3" y1="513" x2="86.3" y2="515" stroke="#222" stroke-width="0.7" />
<line x1="99.7" y1="513" x2="99.7" y2="515" stroke="#222" stroke-width="0.7" />
<line x1="111.5" y1="513" x2="111.5" y2="515" stroke="#222" stroke-width="0.7" />
<line x1="78.61" y1="513" x2="78.61" y2="514.1" stroke="#222" stroke-width="0.5" />
<line x1="80.55" y1="513" x2="80.55" y2="514.1" stroke="#222" stroke-width="0.5" />
<line x1="81.92" y1="513" x2="81.92" y2="514.1" stroke="#222" stroke-width="0.5" />
<line x1="82.99" y1="513" x2="82.99" y2="514.1" stroke="#222" stroke-width="0.5" />
<line x1="83.86" y1="513" x2="83.86" y2="514.1" stroke="#222" stroke-width="0.5" />
<line x1="84.6" y1="513" x2="84.6" y2="514.1" stroke="#222" stroke-width="0.5" />
<line x1="85.23" y1="513" x2="85.23" y2="514.1" stroke="#222" stroke-width="0.5" />
<line x1="85.8" y1="513" x2="85.8" y2="514.1" stroke="#222" stroke-width="0.5" />
<line x1="90.33" y1="513" x2="90.33" y2="514.1" stroke="#222" stroke-width="0.5" />
<line x1="92.69" y1="513" x2="92.69" y2="514.1" stroke="#222" stroke-width="0.5" />
<line x1="94.37" y1="513" x2="94.37" y2="514.1" stroke="#222" stroke-width="0.5" />
<line x1="95.67" y1="513" x2="95.67" y2="514.1" stroke="#222" stroke-width="0.5" />
<line x1="96.73" y1="513" x2="96.73" y2="514.1" stroke="#222" stroke-width="0.5" />
<line x1="97.62" y1="513" x2="97.62" y2="514.1" stroke="#222" stroke-width="0.5" />
<line x1="98.4" y1="513" x2="98.4" y2="514.1" stroke="#222" stroke-width="0.5" />
<line x1="99.09" y1="513" x2="99.09" y2="514.1" stroke="#222" stroke-width="0.5" />
<line x1="103.25" y1="513" x2="103.25" y2="514.1" stroke="#222" stroke-width="0.5" />
<line x1="105.33" y1="513" x2="105.33" y2="514.1" stroke="#222" stroke-width="0.5" />
<line x1="106.8" y1="513" x2="106.8" y2="514.1" stroke="#222" stroke-width="0.5" />
<line x1="107.95" y1="513" x2="107.95" y2="514.1" stroke="#222" stroke-width="0.5" />
<line x1="108.88" y1="513" x2="108.88" y2="514.1" stroke="#222" stroke-width="0.5" />
<line x1="109.67" y1="513" x2="109.67" y2="514.1" stroke="#222" stroke-width="0.5" />
<line x1="110.36" y1="513" x2="110.36" y2="514.1" stroke="#222" stroke-width="0.5" />
<line x1="110.96" y1="513" x2="110.96" y2="514.1" stroke="#222" stroke-width="0.5" />
<rect x="73" y="512.2" width="3" height="1.8" fill="#111" stroke="none" stroke-width="1" />
<text x="75.3" y="524.6" font-size="6.3" text-anchor="middle" fill="#1e1e1e" stroke="#1e1e1e" stroke-width="0.15">0</text>
<text x="86.3" y="524.6" font-size="6.3" text-anchor="middle" fill="#1e1e1e" stroke="#1e1e1e" stroke-width="0.15">10<tspan font-size="3.91" dy="-2.2">3</tspan></text>
<text x="99.7" y="524.6" font-size="6.3" text-anchor="middle" fill="#1e1e1e" stroke="#1e1e1e" stroke-width="0.15">10<tspan font-size="3.91" dy="-2.2">4</tspan></text>
<text x="111.5" y="524.6" font-size="6.3" text-anchor="middle" fill="#1e1e1e" stroke="#1e1e1e" stroke-width="0.15">10<tspan font-size="3.91" dy="-2.2">5</tspan></text>
<text x="91.7" y="535.7" font-size="7.6" text-anchor="middle" fill="#1e1e1e" stroke="#1e1e1e" stroke-width="0.15" textLength="18.6" lengthAdjust="spacingAndGlyphs">TNF-α</text>
<rect x="126.7" y="513.3" width="4.5" height="1.6" fill="#111"/>
<line x1="132.2" y1="513" x2="132.2" y2="515" stroke="#222" stroke-width="0.7" />
<line x1="143.2" y1="513" x2="143.2" y2="515" stroke="#222" stroke-width="0.7" />
<line x1="156.6" y1="513" x2="156.6" y2="515" stroke="#222" stroke-width="0.7" />
<line x1="168.4" y1="513" x2="168.4" y2="515" stroke="#222" stroke-width="0.7" />
<line x1="135.51" y1="513" x2="135.51" y2="514.1" stroke="#222" stroke-width="0.5" />
<line x1="137.45" y1="513" x2="137.45" y2="514.1" stroke="#222" stroke-width="0.5" />
<line x1="138.82" y1="513" x2="138.82" y2="514.1" stroke="#222" stroke-width="0.5" />
<line x1="139.89" y1="513" x2="139.89" y2="514.1" stroke="#222" stroke-width="0.5" />
<line x1="140.76" y1="513" x2="140.76" y2="514.1" stroke="#222" stroke-width="0.5" />
<line x1="141.5" y1="513" x2="141.5" y2="514.1" stroke="#222" stroke-width="0.5" />
<line x1="142.13" y1="513" x2="142.13" y2="514.1" stroke="#222" stroke-width="0.5" />
<line x1="142.7" y1="513" x2="142.7" y2="514.1" stroke="#222" stroke-width="0.5" />
<line x1="147.23" y1="513" x2="147.23" y2="514.1" stroke="#222" stroke-width="0.5" />
<line x1="149.59" y1="513" x2="149.59" y2="514.1" stroke="#222" stroke-width="0.5" />
<line x1="151.27" y1="513" x2="151.27" y2="514.1" stroke="#222" stroke-width="0.5" />
<line x1="152.57" y1="513" x2="152.57" y2="514.1" stroke="#222" stroke-width="0.5" />
<line x1="153.63" y1="513" x2="153.63" y2="514.1" stroke="#222" stroke-width="0.5" />
<line x1="154.52" y1="513" x2="154.52" y2="514.1" stroke="#222" stroke-width="0.5" />
<line x1="155.3" y1="513" x2="155.3" y2="514.1" stroke="#222" stroke-width="0.5" />
<line x1="155.99" y1="513" x2="155.99" y2="514.1" stroke="#222" stroke-width="0.5" />
<line x1="160.15" y1="513" x2="160.15" y2="514.1" stroke="#222" stroke-width="0.5" />
<line x1="162.23" y1="513" x2="162.23" y2="514.1" stroke="#222" stroke-width="0.5" />
<line x1="163.7" y1="513" x2="163.7" y2="514.1" stroke="#222" stroke-width="0.5" />
<line x1="164.85" y1="513" x2="164.85" y2="514.1" stroke="#222" stroke-width="0.5" />
<line x1="165.78" y1="513" x2="165.78" y2="514.1" stroke="#222" stroke-width="0.5" />
<line x1="166.57" y1="513" x2="166.57" y2="514.1" stroke="#222" stroke-width="0.5" />
<line x1="167.26" y1="513" x2="167.26" y2="514.1" stroke="#222" stroke-width="0.5" />
<line x1="167.86" y1="513" x2="167.86" y2="514.1" stroke="#222" stroke-width="0.5" />
<rect x="129.9" y="512.2" width="3" height="1.8" fill="#111" stroke="none" stroke-width="1" />
<text x="132.2" y="524.6" font-size="6.3" text-anchor="middle" fill="#1e1e1e" stroke="#1e1e1e" stroke-width="0.15">0</text>
<text x="143.2" y="524.6" font-size="6.3" text-anchor="middle" fill="#1e1e1e" stroke="#1e1e1e" stroke-width="0.15">10<tspan font-size="3.91" dy="-2.2">3</tspan></text>
<text x="156.6" y="524.6" font-size="6.3" text-anchor="middle" fill="#1e1e1e" stroke="#1e1e1e" stroke-width="0.15">10<tspan font-size="3.91" dy="-2.2">4</tspan></text>
<text x="168.4" y="524.6" font-size="6.3" text-anchor="middle" fill="#1e1e1e" stroke="#1e1e1e" stroke-width="0.15">10<tspan font-size="3.91" dy="-2.2">5</tspan></text>
<text x="148.6" y="535.7" font-size="7.6" text-anchor="middle" fill="#1e1e1e" stroke="#1e1e1e" stroke-width="0.15" textLength="18.6" lengthAdjust="spacingAndGlyphs">TNF-α</text>
<rect x="183.5" y="513.3" width="4.5" height="1.6" fill="#111"/>
<line x1="189" y1="513" x2="189" y2="515" stroke="#222" stroke-width="0.7" />
<line x1="200" y1="513" x2="200" y2="515" stroke="#222" stroke-width="0.7" />
<line x1="213.4" y1="513" x2="213.4" y2="515" stroke="#222" stroke-width="0.7" />
<line x1="225.2" y1="513" x2="225.2" y2="515" stroke="#222" stroke-width="0.7" />
<line x1="192.31" y1="513" x2="192.31" y2="514.1" stroke="#222" stroke-width="0.5" />
<line x1="194.25" y1="513" x2="194.25" y2="514.1" stroke="#222" stroke-width="0.5" />
<line x1="195.62" y1="513" x2="195.62" y2="514.1" stroke="#222" stroke-width="0.5" />
<line x1="196.69" y1="513" x2="196.69" y2="514.1" stroke="#222" stroke-width="0.5" />
<line x1="197.56" y1="513" x2="197.56" y2="514.1" stroke="#222" stroke-width="0.5" />
<line x1="198.3" y1="513" x2="198.3" y2="514.1" stroke="#222" stroke-width="0.5" />
<line x1="198.93" y1="513" x2="198.93" y2="514.1" stroke="#222" stroke-width="0.5" />
<line x1="199.5" y1="513" x2="199.5" y2="514.1" stroke="#222" stroke-width="0.5" />
<line x1="204.03" y1="513" x2="204.03" y2="514.1" stroke="#222" stroke-width="0.5" />
<line x1="206.39" y1="513" x2="206.39" y2="514.1" stroke="#222" stroke-width="0.5" />
<line x1="208.07" y1="513" x2="208.07" y2="514.1" stroke="#222" stroke-width="0.5" />
<line x1="209.37" y1="513" x2="209.37" y2="514.1" stroke="#222" stroke-width="0.5" />
<line x1="210.43" y1="513" x2="210.43" y2="514.1" stroke="#222" stroke-width="0.5" />
<line x1="211.32" y1="513" x2="211.32" y2="514.1" stroke="#222" stroke-width="0.5" />
<line x1="212.1" y1="513" x2="212.1" y2="514.1" stroke="#222" stroke-width="0.5" />
<line x1="212.79" y1="513" x2="212.79" y2="514.1" stroke="#222" stroke-width="0.5" />
<line x1="216.95" y1="513" x2="216.95" y2="514.1" stroke="#222" stroke-width="0.5" />
<line x1="219.03" y1="513" x2="219.03" y2="514.1" stroke="#222" stroke-width="0.5" />
<line x1="220.5" y1="513" x2="220.5" y2="514.1" stroke="#222" stroke-width="0.5" />
<line x1="221.65" y1="513" x2="221.65" y2="514.1" stroke="#222" stroke-width="0.5" />
<line x1="222.58" y1="513" x2="222.58" y2="514.1" stroke="#222" stroke-width="0.5" />
<line x1="223.37" y1="513" x2="223.37" y2="514.1" stroke="#222" stroke-width="0.5" />
<line x1="224.06" y1="513" x2="224.06" y2="514.1" stroke="#222" stroke-width="0.5" />
<line x1="224.66" y1="513" x2="224.66" y2="514.1" stroke="#222" stroke-width="0.5" />
<rect x="186.7" y="512.2" width="3" height="1.8" fill="#111" stroke="none" stroke-width="1" />
<text x="189" y="524.6" font-size="6.3" text-anchor="middle" fill="#1e1e1e" stroke="#1e1e1e" stroke-width="0.15">0</text>
<text x="200" y="524.6" font-size="6.3" text-anchor="middle" fill="#1e1e1e" stroke="#1e1e1e" stroke-width="0.15">10<tspan font-size="3.91" dy="-2.2">3</tspan></text>
<text x="213.4" y="524.6" font-size="6.3" text-anchor="middle" fill="#1e1e1e" stroke="#1e1e1e" stroke-width="0.15">10<tspan font-size="3.91" dy="-2.2">4</tspan></text>
<text x="225.2" y="524.6" font-size="6.3" text-anchor="middle" fill="#1e1e1e" stroke="#1e1e1e" stroke-width="0.15">10<tspan font-size="3.91" dy="-2.2">5</tspan></text>
<text x="205.4" y="535.7" font-size="7.6" text-anchor="middle" fill="#1e1e1e" stroke="#1e1e1e" stroke-width="0.15" textLength="18.6" lengthAdjust="spacingAndGlyphs">TNF-α</text>
<rect x="239.9" y="465.3" width="5.4" height="5.2" fill="#fff" stroke="#222" stroke-width="1" />
<text x="248.3" y="470.2" font-size="6.5" text-anchor="start" fill="#1e1e1e" stroke="#1e1e1e" stroke-width="0.15" textLength="48" lengthAdjust="spacingAndGlyphs">unstimulated mϕ</text>
<rect x="239.6" y="474.6" width="5.8" height="5.4" fill="#9bcdf0" stroke="none" stroke-width="1" />
<text x="248.3" y="479.8" font-size="6.5" text-anchor="start" fill="#1e1e1e" stroke="#1e1e1e" stroke-width="0.15" textLength="18.2" lengthAdjust="spacingAndGlyphs">M-CSF</text>
<rect x="275.6" y="474.6" width="5.4" height="5.4" fill="#e28e80" stroke="none" stroke-width="1" />
<text x="282.9" y="479.8" font-size="6.6" text-anchor="start" fill="#1e1e1e" stroke="#1e1e1e" stroke-width="0.15" textLength="34.6" lengthAdjust="spacingAndGlyphs">M+GM-CSF</text>
<line x1="238" y1="483.9" x2="315.6" y2="483.9" stroke="#555" stroke-width="1.2" />
<text x="277.1" y="492.6" font-size="6.6" text-anchor="middle" fill="#1e1e1e" stroke="#1e1e1e" stroke-width="0.15" textLength="53.8" lengthAdjust="spacingAndGlyphs">LPS-stimulated mϕ</text>
<text x="408.5" y="430.8" font-size="8.3" text-anchor="middle" fill="#1e1e1e" stroke="#1e1e1e" stroke-width="0.15" textLength="73" lengthAdjust="spacingAndGlyphs">LPS-stimulated mϕ</text>
<line x1="382.3" y1="451.5" x2="382.3" y2="513" stroke="#555" stroke-width="0.7" stroke-dasharray="0.8,1.2"/>
<line x1="407.3" y1="451.5" x2="407.3" y2="513" stroke="#555" stroke-width="0.7" stroke-dasharray="0.8,1.2"/>
<line x1="432.5" y1="451.5" x2="432.5" y2="513" stroke="#555" stroke-width="0.7" stroke-dasharray="0.8,1.2"/>
<rect x="359.2" y="488.8" width="9.3" height="24.2" fill="#9bcdf0" stroke="none" stroke-width="1" />
<rect x="369.4" y="496" width="8.6" height="17" fill="#e28e80" stroke="none" stroke-width="1" />
<rect x="385.8" y="491.2" width="9" height="21.8" fill="#9bcdf0" stroke="none" stroke-width="1" />
<rect x="395.8" y="495.4" width="8.6" height="17.6" fill="#e28e80" stroke="none" stroke-width="1" />
<rect x="411.2" y="469" width="8.6" height="44" fill="#9bcdf0" stroke="none" stroke-width="1" />
<rect x="421.2" y="488.8" width="8.8" height="24.2" fill="#e28e80" stroke="none" stroke-width="1" />
<rect x="436.3" y="469.2" width="8.7" height="43.8" fill="#9bcdf0" stroke="none" stroke-width="1" />
<rect x="446.5" y="494.4" width="9.1" height="18.6" fill="#e28e80" stroke="none" stroke-width="1" />
<line x1="354" y1="513.5" x2="460.8" y2="513.5" stroke="#222" stroke-width="1.15" />
<line x1="354.5" y1="452" x2="354.5" y2="514" stroke="#222" stroke-width="1.15" />
<line x1="352.4" y1="513" x2="354.6" y2="513" stroke="#222" stroke-width="0.9" />
<line x1="352.4" y1="498.2" x2="354.6" y2="498.2" stroke="#222" stroke-width="0.9" />
<line x1="352.4" y1="483.4" x2="354.6" y2="483.4" stroke="#222" stroke-width="0.9" />
<line x1="352.4" y1="468.6" x2="354.6" y2="468.6" stroke="#222" stroke-width="0.9" />
<line x1="352.4" y1="453.8" x2="354.6" y2="453.8" stroke="#222" stroke-width="0.9" />
<text x="349" y="515.15" font-size="6.3" text-anchor="end" fill="#1e1e1e" stroke="#1e1e1e" stroke-width="0.15">0</text>
<text x="349" y="485.55" font-size="6.3" text-anchor="end" fill="#1e1e1e" stroke="#1e1e1e" stroke-width="0.15">2</text>
<text x="349" y="455.95" font-size="6.3" text-anchor="end" fill="#1e1e1e" stroke="#1e1e1e" stroke-width="0.15">4</text>
<text x="338.6" y="480.1" font-size="7.3" text-anchor="middle" fill="#1e1e1e" stroke="#1e1e1e" stroke-width="0.15" textLength="47.5" lengthAdjust="spacingAndGlyphs" transform="rotate(-90 338.6 480.1)" dominant-baseline="central">TNF-α (ng/mL)</text>
<line x1="363.85" y1="486.3" x2="363.85" y2="489.8" stroke="#222" stroke-width="0.9" />
<path d="M362.45,485.8 L365.25,485.8 L364.4,487.6 L363.3,487.6 Z" fill="#222"/>
<line x1="373.7" y1="493.5" x2="373.7" y2="497" stroke="#222" stroke-width="0.9" />
<path d="M372.3,493 L375.1,493 L374.25,494.8 L373.15,494.8 Z" fill="#222"/>
<circle cx="373.7" cy="486.5" r="0.78" fill="#1e1e1e"/>
<circle cx="373.7" cy="489.1" r="0.78" fill="#1e1e1e"/>
<line x1="390.3" y1="488.8" x2="390.3" y2="492.2" stroke="#222" stroke-width="0.9" />
<path d="M388.9,488.3 L391.7,488.3 L390.85,490.1 L389.75,490.1 Z" fill="#222"/>
<line x1="400.1" y1="493.5" x2="400.1" y2="496.4" stroke="#222" stroke-width="0.9" />
<path d="M398.7,493 L401.5,493 L400.65,494.8 L399.55,494.8 Z" fill="#222"/>
<circle cx="400.1" cy="490.3" r="0.78" fill="#1e1e1e"/>
<line x1="415.5" y1="463.3" x2="415.5" y2="470" stroke="#222" stroke-width="0.9" />
<path d="M414.1,462.8 L416.9,462.8 L416.05,464.6 L414.95,464.6 Z" fill="#222"/>
<line x1="425.6" y1="485.4" x2="425.6" y2="489.8" stroke="#222" stroke-width="0.9" />
<path d="M424.2,484.9 L427,484.9 L426.15,486.7 L425.05,486.7 Z" fill="#222"/>
<circle cx="425.6" cy="476" r="0.78" fill="#1e1e1e"/>
<circle cx="425.6" cy="478.6" r="0.78" fill="#1e1e1e"/>
<circle cx="425.6" cy="481.2" r="0.78" fill="#1e1e1e"/>
<line x1="440.65" y1="459.2" x2="440.65" y2="470.2" stroke="#222" stroke-width="0.9" />
<path d="M439.25,458.7 L442.05,458.7 L441.2,460.5 L440.1,460.5 Z" fill="#222"/>
<line x1="451.05" y1="491.5" x2="451.05" y2="495.4" stroke="#222" stroke-width="0.9" />
<path d="M449.65,491 L452.45,491 L451.6,492.8 L450.5,492.8 Z" fill="#222"/>
<circle cx="451.05" cy="485.4" r="0.78" fill="#1e1e1e"/>
<circle cx="451.05" cy="488" r="0.78" fill="#1e1e1e"/>
<text x="368.8" y="521.6" font-size="7" text-anchor="middle" fill="#1e1e1e" stroke="#1e1e1e" stroke-width="0.15" textLength="21" lengthAdjust="spacingAndGlyphs">LT-HSC</text>
<text x="393.8" y="521.6" font-size="7" text-anchor="middle" fill="#1e1e1e" stroke="#1e1e1e" stroke-width="0.15" textLength="21" lengthAdjust="spacingAndGlyphs">ST-HSC</text>
<text x="420.2" y="521.6" font-size="7" text-anchor="middle" fill="#1e1e1e" stroke="#1e1e1e" stroke-width="0.15" textLength="16.5" lengthAdjust="spacingAndGlyphs">MPP2</text>
<text x="446" y="521.6" font-size="7" text-anchor="middle" fill="#1e1e1e" stroke="#1e1e1e" stroke-width="0.15" textLength="16.5" lengthAdjust="spacingAndGlyphs">MPP3</text>
<rect x="467.1" y="473.7" width="5.8" height="5.7" fill="#9bcdf0" stroke="none" stroke-width="1" />
<text x="475.8" y="479.2" font-size="7" text-anchor="start" fill="#1e1e1e" stroke="#1e1e1e" stroke-width="0.15" textLength="20.2" lengthAdjust="spacingAndGlyphs">M-CSF</text>
<rect x="467.1" y="484.2" width="5.8" height="5.8" fill="#e28e80" stroke="none" stroke-width="1" />
<text x="475.8" y="489.7" font-size="7" text-anchor="start" fill="#1e1e1e" stroke="#1e1e1e" stroke-width="0.15" textLength="34.6" lengthAdjust="spacingAndGlyphs">M+GM-CSF</text>
</svg>
</body></html>
